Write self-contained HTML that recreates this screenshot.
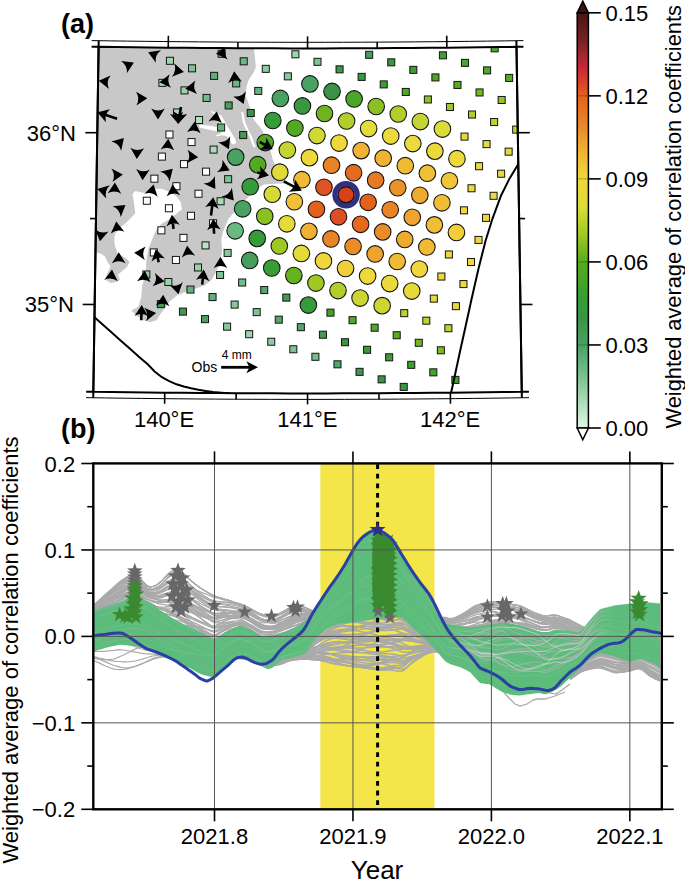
<!DOCTYPE html>
<html><head><meta charset="utf-8"><style>
html,body{margin:0;padding:0;background:#fff;}
body{width:685px;height:879px;position:relative;overflow:hidden;font-family:"Liberation Sans",sans-serif;}
</style></head><body>
<svg width="685" height="879" viewBox="0 0 685 879" style="position:absolute;left:0;top:0">
<defs>
<clipPath id="mapclip"><polygon points="98.60,46.80 116.01,47.06 133.42,47.29 150.84,47.50 168.25,47.69 185.66,47.86 203.07,48.00 220.49,48.12 237.90,48.22 255.31,48.30 272.72,48.36 290.14,48.39 307.55,48.40 324.96,48.39 342.38,48.36 359.79,48.30 377.20,48.22 394.61,48.12 412.03,48.00 429.44,47.86 446.85,47.69 464.26,47.50 481.68,47.29 499.09,47.06 516.50,46.80 521.77,391.76 503.92,392.02 486.07,392.26 468.22,392.48 450.37,392.67 432.52,392.84 414.66,392.99 396.81,393.12 378.96,393.22 361.11,393.30 343.26,393.35 325.40,393.39 307.55,393.40 289.70,393.39 271.84,393.35 253.99,393.30 236.14,393.22 218.29,393.12 200.44,392.99 182.58,392.84 164.73,392.67 146.88,392.48 129.03,392.26 111.18,392.02 93.33,391.76"/></clipPath>
<linearGradient id="cbar" x1="0" y1="0" x2="0" y2="1"><stop offset="0.0000" stop-color="#4a1616"/><stop offset="0.0667" stop-color="#782222"/><stop offset="0.1000" stop-color="#a02830"/><stop offset="0.1333" stop-color="#c82a34"/><stop offset="0.1667" stop-color="#d8402a"/><stop offset="0.2000" stop-color="#e4621c"/><stop offset="0.2667" stop-color="#e88426"/><stop offset="0.3333" stop-color="#f0b232"/><stop offset="0.4000" stop-color="#f0d83c"/><stop offset="0.4667" stop-color="#dcdc38"/><stop offset="0.5333" stop-color="#a0c824"/><stop offset="0.6000" stop-color="#58ac1e"/><stop offset="0.6667" stop-color="#3ca02e"/><stop offset="0.7000" stop-color="#349c38"/><stop offset="0.7333" stop-color="#3a9344"/><stop offset="0.8000" stop-color="#4aa262"/><stop offset="0.8667" stop-color="#72bd8a"/><stop offset="0.9333" stop-color="#a8dbb6"/><stop offset="1.0000" stop-color="#e0f7e6"/></linearGradient>
</defs>
<rect x="0" y="0" width="685" height="879" fill="#ffffff"/>
<g clip-path="url(#mapclip)">
<polygon points="253.70,40.00 253.70,46.00 254.50,53.80 255.90,66.90 253.00,73.50 248.60,80.00 246.40,87.30 245.70,96.10 247.20,100.00 250.70,109.30 254.00,120.00 261.40,129.10 266.00,138.00 269.60,147.30 272.90,160.20 278.00,170.40 284.20,178.60 288.50,183.50 279.00,183.50 264.00,184.50 256.00,189.00 248.40,197.00 240.20,205.20 233.10,213.40 228.50,218.70 223.70,229.80 221.30,239.40 222.10,250.50 220.50,260.10 215.70,272.80 211.00,280.80 204.60,285.50 195.00,288.70 185.50,291.90 177.50,295.10 169.60,301.50 165.80,307.00 159.60,315.20 156.60,320.30 150.40,322.30 143.30,320.30 136.10,315.20 131.50,310.60 136.00,308.00 138.50,306.50 141.20,297.40 142.10,286.50 144.00,279.20 145.80,271.90 146.00,264.60 147.00,255.90 148.50,248.60 151.40,241.30 154.30,234.00 157.20,228.20 161.60,223.80 168.90,219.40 174.80,215.00 182.00,209.20 180.60,201.90 176.20,196.00 168.90,191.70 161.60,188.80 154.30,188.80 144.10,193.10 135.30,191.00 132.40,194.60 133.90,201.90 135.30,213.60 126.60,222.30 119.00,229.00 114.90,234.00 114.20,240.00 114.90,245.70 116.40,249.70 118.00,254.00 126.00,258.00 129.50,262.00 127.00,267.00 122.00,271.00 118.00,275.00 120.00,280.00 116.00,282.00 111.00,283.00 107.00,281.00 106.00,277.00 108.00,272.00 110.50,266.50 107.60,262.10 104.70,256.30 100.30,253.40 96.60,252.60 85.00,252.60 85.00,40.00" fill="#c8c8c8"/>
<polygon points="211.20,110.70 215.10,112.40 221.30,115.50 223.90,119.90 226.50,125.10 230.00,130.40 232.70,134.80 235.30,139.20 236.20,142.70 233.50,144.80 230.90,142.70 229.20,138.30 226.00,136.00 221.30,135.20 216.90,136.50 216.00,135.20 219.50,133.90 222.10,132.10 219.00,131.50 216.00,131.30 208.10,129.50 200.30,127.80 198.50,126.00 200.30,124.70 208.10,125.60 216.90,126.90 219.50,123.40 216.90,118.10 213.40,113.80 211.20,112.00" fill="#ffffff"/>
<polyline points="242.30,112.90 244.00,122.50 247.50,130.40 251.00,137.40 252.80,142.70 254.50,146.20" fill="none" stroke="#ffffff" stroke-width="2.3" stroke-linejoin="round" stroke-linecap="round"/>
<rect x="166.43" y="57.27" width="7.04" height="7.04" fill="#9dd5ad" stroke="#151515" stroke-width="1.0"/>
<rect x="158.89" y="79.34" width="7.04" height="7.04" fill="#a8dbb6" stroke="#151515" stroke-width="1.0"/>
<rect x="188.50" y="64.80" width="7.04" height="7.04" fill="#7dc393" stroke="#151515" stroke-width="1.0"/>
<rect x="180.97" y="86.87" width="7.04" height="7.04" fill="#98d2a9" stroke="#151515" stroke-width="1.0"/>
<rect x="173.44" y="108.94" width="7.04" height="7.04" fill="#a8dbb6" stroke="#151515" stroke-width="1.0"/>
<rect x="165.91" y="131.01" width="7.04" height="7.04" fill="#ffffff" stroke="#151515" stroke-width="1.0"/>
<rect x="158.37" y="153.08" width="7.04" height="7.04" fill="#ffffff" stroke="#151515" stroke-width="1.0"/>
<rect x="150.84" y="175.15" width="7.04" height="7.04" fill="#ffffff" stroke="#151515" stroke-width="1.0"/>
<rect x="143.31" y="197.22" width="7.04" height="7.04" fill="#ffffff" stroke="#151515" stroke-width="1.0"/>
<rect x="218.12" y="50.26" width="7.04" height="7.04" fill="#72bd8a" stroke="#151515" stroke-width="1.0"/>
<rect x="210.58" y="72.33" width="7.04" height="7.04" fill="#5eb076" stroke="#151515" stroke-width="1.0"/>
<rect x="203.05" y="94.40" width="7.04" height="7.04" fill="#72bd8a" stroke="#151515" stroke-width="1.0"/>
<rect x="195.52" y="116.47" width="7.04" height="7.04" fill="#b3e1c0" stroke="#151515" stroke-width="1.0"/>
<rect x="187.98" y="138.54" width="7.04" height="7.04" fill="#ffffff" stroke="#151515" stroke-width="1.0"/>
<rect x="180.45" y="160.61" width="7.04" height="7.04" fill="#ffffff" stroke="#151515" stroke-width="1.0"/>
<rect x="172.92" y="182.68" width="7.04" height="7.04" fill="#ffffff" stroke="#151515" stroke-width="1.0"/>
<rect x="165.39" y="204.75" width="7.04" height="7.04" fill="#ffffff" stroke="#151515" stroke-width="1.0"/>
<rect x="157.85" y="226.82" width="7.04" height="7.04" fill="#ffffff" stroke="#151515" stroke-width="1.0"/>
<rect x="150.32" y="248.89" width="7.04" height="7.04" fill="#ffffff" stroke="#151515" stroke-width="1.0"/>
<rect x="142.79" y="270.96" width="7.04" height="7.04" fill="#98d2a9" stroke="#151515" stroke-width="1.0"/>
<rect x="240.19" y="57.79" width="7.04" height="7.04" fill="#6ab882" stroke="#151515" stroke-width="1.0"/>
<rect x="232.66" y="79.86" width="7.04" height="7.04" fill="#6ab882" stroke="#151515" stroke-width="1.0"/>
<rect x="225.13" y="101.93" width="7.04" height="7.04" fill="#459e59" stroke="#151515" stroke-width="1.0"/>
<rect x="217.59" y="124.00" width="7.04" height="7.04" fill="#62b27a" stroke="#151515" stroke-width="1.0"/>
<rect x="210.06" y="146.07" width="7.04" height="7.04" fill="#a8dbb6" stroke="#151515" stroke-width="1.0"/>
<rect x="202.53" y="168.14" width="7.04" height="7.04" fill="#ffffff" stroke="#151515" stroke-width="1.0"/>
<rect x="195.00" y="190.21" width="7.04" height="7.04" fill="#ffffff" stroke="#151515" stroke-width="1.0"/>
<rect x="187.46" y="212.28" width="7.04" height="7.04" fill="#ffffff" stroke="#151515" stroke-width="1.0"/>
<rect x="179.93" y="234.35" width="7.04" height="7.04" fill="#ffffff" stroke="#151515" stroke-width="1.0"/>
<rect x="172.40" y="256.42" width="7.04" height="7.04" fill="#ffffff" stroke="#151515" stroke-width="1.0"/>
<rect x="164.86" y="278.49" width="7.04" height="7.04" fill="#98d2a9" stroke="#151515" stroke-width="1.0"/>
<rect x="157.33" y="300.56" width="7.04" height="7.04" fill="#429a53" stroke="#151515" stroke-width="1.0"/>
<rect x="262.27" y="65.32" width="7.04" height="7.04" fill="#8dcca0" stroke="#151515" stroke-width="1.0"/>
<rect x="254.74" y="87.39" width="7.04" height="7.04" fill="#62b27a" stroke="#151515" stroke-width="1.0"/>
<rect x="247.21" y="109.46" width="7.04" height="7.04" fill="#3a9344" stroke="#151515" stroke-width="1.0"/>
<rect x="239.67" y="131.53" width="7.04" height="7.04" fill="#429a53" stroke="#151515" stroke-width="1.0"/>
<rect x="224.61" y="175.66" width="7.04" height="7.04" fill="#7dc393" stroke="#151515" stroke-width="1.0"/>
<rect x="217.07" y="197.73" width="7.04" height="7.04" fill="#a8dbb6" stroke="#151515" stroke-width="1.0"/>
<rect x="209.54" y="219.81" width="7.04" height="7.04" fill="#ffffff" stroke="#151515" stroke-width="1.0"/>
<rect x="202.01" y="241.88" width="7.04" height="7.04" fill="#b9e3c4" stroke="#151515" stroke-width="1.0"/>
<rect x="194.48" y="263.95" width="7.04" height="7.04" fill="#98d2a9" stroke="#151515" stroke-width="1.0"/>
<rect x="186.94" y="286.02" width="7.04" height="7.04" fill="#62b27a" stroke="#151515" stroke-width="1.0"/>
<rect x="179.41" y="308.09" width="7.04" height="7.04" fill="#409950" stroke="#151515" stroke-width="1.0"/>
<rect x="291.88" y="50.77" width="7.04" height="7.04" fill="#9dd5ad" stroke="#151515" stroke-width="1.0"/>
<rect x="284.35" y="72.84" width="7.04" height="7.04" fill="#88c99c" stroke="#151515" stroke-width="1.0"/>
<rect x="224.09" y="249.40" width="7.04" height="7.04" fill="#88c99c" stroke="#151515" stroke-width="1.0"/>
<rect x="216.55" y="271.47" width="7.04" height="7.04" fill="#7dc393" stroke="#151515" stroke-width="1.0"/>
<rect x="209.02" y="293.54" width="7.04" height="7.04" fill="#5eb076" stroke="#151515" stroke-width="1.0"/>
<rect x="201.49" y="315.61" width="7.04" height="7.04" fill="#4aa262" stroke="#151515" stroke-width="1.0"/>
<rect x="313.96" y="58.30" width="7.04" height="7.04" fill="#7dc393" stroke="#151515" stroke-width="1.0"/>
<rect x="238.63" y="279.00" width="7.04" height="7.04" fill="#72bd8a" stroke="#151515" stroke-width="1.0"/>
<rect x="231.10" y="301.07" width="7.04" height="7.04" fill="#88c99c" stroke="#151515" stroke-width="1.0"/>
<rect x="223.57" y="323.14" width="7.04" height="7.04" fill="#88c99c" stroke="#151515" stroke-width="1.0"/>
<rect x="336.04" y="65.83" width="7.04" height="7.04" fill="#3d964a" stroke="#151515" stroke-width="1.0"/>
<rect x="260.71" y="286.53" width="7.04" height="7.04" fill="#52a76a" stroke="#151515" stroke-width="1.0"/>
<rect x="253.18" y="308.60" width="7.04" height="7.04" fill="#7dc393" stroke="#151515" stroke-width="1.0"/>
<rect x="245.64" y="330.67" width="7.04" height="7.04" fill="#9dd5ad" stroke="#151515" stroke-width="1.0"/>
<rect x="365.65" y="51.29" width="7.04" height="7.04" fill="#459e59" stroke="#151515" stroke-width="1.0"/>
<rect x="358.12" y="73.36" width="7.04" height="7.04" fill="#36983d" stroke="#151515" stroke-width="1.0"/>
<rect x="282.79" y="294.06" width="7.04" height="7.04" fill="#429a53" stroke="#151515" stroke-width="1.0"/>
<rect x="275.25" y="316.13" width="7.04" height="7.04" fill="#52a76a" stroke="#151515" stroke-width="1.0"/>
<rect x="267.72" y="338.20" width="7.04" height="7.04" fill="#8dcca0" stroke="#151515" stroke-width="1.0"/>
<rect x="387.73" y="58.82" width="7.04" height="7.04" fill="#38973f" stroke="#151515" stroke-width="1.0"/>
<rect x="380.20" y="80.89" width="7.04" height="7.04" fill="#3ca02e" stroke="#151515" stroke-width="1.0"/>
<rect x="297.33" y="323.66" width="7.04" height="7.04" fill="#52a76a" stroke="#151515" stroke-width="1.0"/>
<rect x="289.80" y="345.73" width="7.04" height="7.04" fill="#7dc393" stroke="#151515" stroke-width="1.0"/>
<rect x="409.81" y="66.35" width="7.04" height="7.04" fill="#3ca02e" stroke="#151515" stroke-width="1.0"/>
<rect x="402.27" y="88.42" width="7.04" height="7.04" fill="#52aa21" stroke="#151515" stroke-width="1.0"/>
<rect x="326.94" y="309.12" width="7.04" height="7.04" fill="#42a22b" stroke="#151515" stroke-width="1.0"/>
<rect x="319.41" y="331.19" width="7.04" height="7.04" fill="#429a53" stroke="#151515" stroke-width="1.0"/>
<rect x="311.88" y="353.26" width="7.04" height="7.04" fill="#72bd8a" stroke="#151515" stroke-width="1.0"/>
<rect x="439.42" y="51.81" width="7.04" height="7.04" fill="#3ca02e" stroke="#151515" stroke-width="1.0"/>
<rect x="431.88" y="73.88" width="7.04" height="7.04" fill="#4da724" stroke="#151515" stroke-width="1.0"/>
<rect x="424.35" y="95.95" width="7.04" height="7.04" fill="#92c223" stroke="#151515" stroke-width="1.0"/>
<rect x="349.02" y="316.65" width="7.04" height="7.04" fill="#50a823" stroke="#151515" stroke-width="1.0"/>
<rect x="341.49" y="338.72" width="7.04" height="7.04" fill="#3a9344" stroke="#151515" stroke-width="1.0"/>
<rect x="333.96" y="360.79" width="7.04" height="7.04" fill="#52a76a" stroke="#151515" stroke-width="1.0"/>
<rect x="461.50" y="59.34" width="7.04" height="7.04" fill="#4aa626" stroke="#151515" stroke-width="1.0"/>
<rect x="453.96" y="81.41" width="7.04" height="7.04" fill="#58ac1e" stroke="#151515" stroke-width="1.0"/>
<rect x="446.43" y="103.48" width="7.04" height="7.04" fill="#a0c824" stroke="#151515" stroke-width="1.0"/>
<rect x="371.10" y="324.18" width="7.04" height="7.04" fill="#50a823" stroke="#151515" stroke-width="1.0"/>
<rect x="363.57" y="346.25" width="7.04" height="7.04" fill="#349c38" stroke="#151515" stroke-width="1.0"/>
<rect x="356.03" y="368.32" width="7.04" height="7.04" fill="#3f984d" stroke="#151515" stroke-width="1.0"/>
<rect x="491.11" y="44.80" width="7.04" height="7.04" fill="#50a823" stroke="#151515" stroke-width="1.0"/>
<rect x="483.57" y="66.87" width="7.04" height="7.04" fill="#52aa21" stroke="#151515" stroke-width="1.0"/>
<rect x="476.04" y="88.94" width="7.04" height="7.04" fill="#75b720" stroke="#151515" stroke-width="1.0"/>
<rect x="468.51" y="111.01" width="7.04" height="7.04" fill="#b2ce2a" stroke="#151515" stroke-width="1.0"/>
<rect x="460.97" y="133.08" width="7.04" height="7.04" fill="#e2db39" stroke="#151515" stroke-width="1.0"/>
<rect x="400.71" y="309.64" width="7.04" height="7.04" fill="#bed22e" stroke="#151515" stroke-width="1.0"/>
<rect x="393.18" y="331.71" width="7.04" height="7.04" fill="#58ac1e" stroke="#151515" stroke-width="1.0"/>
<rect x="385.64" y="353.78" width="7.04" height="7.04" fill="#3ca02e" stroke="#151515" stroke-width="1.0"/>
<rect x="378.11" y="375.85" width="7.04" height="7.04" fill="#3a9344" stroke="#151515" stroke-width="1.0"/>
<rect x="505.65" y="74.39" width="7.04" height="7.04" fill="#58ac1e" stroke="#151515" stroke-width="1.0"/>
<rect x="498.12" y="96.46" width="7.04" height="7.04" fill="#92c223" stroke="#151515" stroke-width="1.0"/>
<rect x="490.59" y="118.53" width="7.04" height="7.04" fill="#bed22e" stroke="#151515" stroke-width="1.0"/>
<rect x="483.05" y="140.60" width="7.04" height="7.04" fill="#e2db39" stroke="#151515" stroke-width="1.0"/>
<rect x="475.52" y="162.67" width="7.04" height="7.04" fill="#ecd93b" stroke="#151515" stroke-width="1.0"/>
<rect x="467.99" y="184.74" width="7.04" height="7.04" fill="#ecd93b" stroke="#151515" stroke-width="1.0"/>
<rect x="460.45" y="206.81" width="7.04" height="7.04" fill="#f0d83c" stroke="#151515" stroke-width="1.0"/>
<rect x="445.39" y="250.95" width="7.04" height="7.04" fill="#f0d83c" stroke="#151515" stroke-width="1.0"/>
<rect x="437.85" y="273.02" width="7.04" height="7.04" fill="#f0d83c" stroke="#151515" stroke-width="1.0"/>
<rect x="430.32" y="295.10" width="7.04" height="7.04" fill="#e6da3a" stroke="#151515" stroke-width="1.0"/>
<rect x="422.79" y="317.16" width="7.04" height="7.04" fill="#bed22e" stroke="#151515" stroke-width="1.0"/>
<rect x="415.25" y="339.24" width="7.04" height="7.04" fill="#75b720" stroke="#151515" stroke-width="1.0"/>
<rect x="407.72" y="361.31" width="7.04" height="7.04" fill="#3ca02e" stroke="#151515" stroke-width="1.0"/>
<rect x="400.19" y="383.38" width="7.04" height="7.04" fill="#38973f" stroke="#151515" stroke-width="1.0"/>
<rect x="512.66" y="126.06" width="7.04" height="7.04" fill="#c4d430" stroke="#151515" stroke-width="1.0"/>
<rect x="505.13" y="148.13" width="7.04" height="7.04" fill="#e4da3a" stroke="#151515" stroke-width="1.0"/>
<rect x="497.60" y="170.20" width="7.04" height="7.04" fill="#ecd93b" stroke="#151515" stroke-width="1.0"/>
<rect x="490.06" y="192.27" width="7.04" height="7.04" fill="#ecd93b" stroke="#151515" stroke-width="1.0"/>
<rect x="482.53" y="214.34" width="7.04" height="7.04" fill="#f0d83c" stroke="#151515" stroke-width="1.0"/>
<rect x="475.00" y="236.41" width="7.04" height="7.04" fill="#f0d83c" stroke="#151515" stroke-width="1.0"/>
<rect x="467.47" y="258.48" width="7.04" height="7.04" fill="#f0d83c" stroke="#151515" stroke-width="1.0"/>
<rect x="459.93" y="280.55" width="7.04" height="7.04" fill="#f0d83c" stroke="#151515" stroke-width="1.0"/>
<rect x="452.40" y="302.62" width="7.04" height="7.04" fill="#e6da3a" stroke="#151515" stroke-width="1.0"/>
<rect x="444.87" y="324.69" width="7.04" height="7.04" fill="#bed22e" stroke="#151515" stroke-width="1.0"/>
<rect x="437.33" y="346.76" width="7.04" height="7.04" fill="#7cba21" stroke="#151515" stroke-width="1.0"/>
<rect x="429.80" y="368.83" width="7.04" height="7.04" fill="#44a429" stroke="#151515" stroke-width="1.0"/>
<rect x="451.88" y="376.36" width="7.04" height="7.04" fill="#42a22b" stroke="#151515" stroke-width="1.0"/>
<circle cx="235.66" cy="157.12" r="8.3" fill="#4aa262" stroke="#151515" stroke-width="1.1"/>
<circle cx="280.34" cy="98.43" r="8.3" fill="#4aa262" stroke="#151515" stroke-width="1.1"/>
<circle cx="272.80" cy="120.50" r="8.3" fill="#349c38" stroke="#151515" stroke-width="1.1"/>
<circle cx="265.27" cy="142.57" r="8.3" fill="#50a823" stroke="#151515" stroke-width="1.1"/>
<circle cx="257.74" cy="164.64" r="8.3" fill="#52aa21" stroke="#151515" stroke-width="1.1"/>
<circle cx="250.21" cy="186.71" r="8.3" fill="#349c38" stroke="#151515" stroke-width="1.1"/>
<circle cx="242.67" cy="208.78" r="8.3" fill="#4aa262" stroke="#151515" stroke-width="1.1"/>
<circle cx="235.14" cy="230.85" r="8.3" fill="#6ab882" stroke="#151515" stroke-width="1.1"/>
<circle cx="309.95" cy="83.89" r="8.3" fill="#4aa262" stroke="#151515" stroke-width="1.1"/>
<circle cx="302.42" cy="105.96" r="8.3" fill="#38973f" stroke="#151515" stroke-width="1.1"/>
<circle cx="294.88" cy="128.03" r="8.3" fill="#52aa21" stroke="#151515" stroke-width="1.1"/>
<circle cx="287.35" cy="150.10" r="8.3" fill="#c4d430" stroke="#151515" stroke-width="1.1"/>
<circle cx="279.82" cy="172.17" r="8.3" fill="#e0db39" stroke="#151515" stroke-width="1.1"/>
<circle cx="272.28" cy="194.24" r="8.3" fill="#d6da36" stroke="#151515" stroke-width="1.1"/>
<circle cx="264.75" cy="216.31" r="8.3" fill="#8ac022" stroke="#151515" stroke-width="1.1"/>
<circle cx="257.22" cy="238.38" r="8.3" fill="#349c38" stroke="#151515" stroke-width="1.1"/>
<circle cx="249.68" cy="260.45" r="8.3" fill="#459e59" stroke="#151515" stroke-width="1.1"/>
<circle cx="332.03" cy="91.42" r="8.3" fill="#3a9344" stroke="#151515" stroke-width="1.1"/>
<circle cx="324.49" cy="113.49" r="8.3" fill="#6eb420" stroke="#151515" stroke-width="1.1"/>
<circle cx="316.96" cy="135.56" r="8.3" fill="#d0d834" stroke="#151515" stroke-width="1.1"/>
<circle cx="309.43" cy="157.63" r="8.3" fill="#ecd93b" stroke="#151515" stroke-width="1.1"/>
<circle cx="301.89" cy="179.70" r="8.3" fill="#f0ba34" stroke="#151515" stroke-width="1.1"/>
<circle cx="294.36" cy="201.77" r="8.3" fill="#f0c136" stroke="#151515" stroke-width="1.1"/>
<circle cx="286.83" cy="223.84" r="8.3" fill="#e6da3a" stroke="#151515" stroke-width="1.1"/>
<circle cx="279.30" cy="245.91" r="8.3" fill="#a0c824" stroke="#151515" stroke-width="1.1"/>
<circle cx="271.76" cy="267.98" r="8.3" fill="#379e34" stroke="#151515" stroke-width="1.1"/>
<circle cx="354.10" cy="98.95" r="8.3" fill="#4aa626" stroke="#151515" stroke-width="1.1"/>
<circle cx="346.57" cy="121.02" r="8.3" fill="#b2ce2a" stroke="#151515" stroke-width="1.1"/>
<circle cx="339.04" cy="143.09" r="8.3" fill="#f0d83c" stroke="#151515" stroke-width="1.1"/>
<circle cx="331.51" cy="165.16" r="8.3" fill="#e88426" stroke="#151515" stroke-width="1.1"/>
<circle cx="323.97" cy="187.23" r="8.3" fill="#df5422" stroke="#151515" stroke-width="1.1"/>
<circle cx="316.44" cy="209.30" r="8.3" fill="#e4621c" stroke="#151515" stroke-width="1.1"/>
<circle cx="308.91" cy="231.37" r="8.3" fill="#f0b232" stroke="#151515" stroke-width="1.1"/>
<circle cx="301.37" cy="253.44" r="8.3" fill="#e2db39" stroke="#151515" stroke-width="1.1"/>
<circle cx="293.84" cy="275.51" r="8.3" fill="#66b21f" stroke="#151515" stroke-width="1.1"/>
<circle cx="376.18" cy="106.48" r="8.3" fill="#8ac022" stroke="#151515" stroke-width="1.1"/>
<circle cx="368.65" cy="128.55" r="8.3" fill="#e2db39" stroke="#151515" stroke-width="1.1"/>
<circle cx="361.12" cy="150.62" r="8.3" fill="#f0b232" stroke="#151515" stroke-width="1.1"/>
<circle cx="353.58" cy="172.69" r="8.3" fill="#e5691e" stroke="#151515" stroke-width="1.1"/>
<circle cx="346.05" cy="194.76" r="11.15" fill="none" stroke="#302f80" stroke-width="5.2"/>
<circle cx="346.05" cy="194.76" r="8.0" fill="#d8401c" stroke="#111" stroke-width="1.3"/>
<circle cx="338.52" cy="216.83" r="8.3" fill="#dd4e24" stroke="#151515" stroke-width="1.1"/>
<circle cx="330.98" cy="238.90" r="8.3" fill="#e88426" stroke="#151515" stroke-width="1.1"/>
<circle cx="323.45" cy="260.97" r="8.3" fill="#f0d83c" stroke="#151515" stroke-width="1.1"/>
<circle cx="315.92" cy="283.04" r="8.3" fill="#a0c824" stroke="#151515" stroke-width="1.1"/>
<circle cx="308.38" cy="305.11" r="8.3" fill="#349c38" stroke="#151515" stroke-width="1.1"/>
<circle cx="398.26" cy="114.01" r="8.3" fill="#b2ce2a" stroke="#151515" stroke-width="1.1"/>
<circle cx="390.73" cy="136.08" r="8.3" fill="#ecd93b" stroke="#151515" stroke-width="1.1"/>
<circle cx="383.19" cy="158.15" r="8.3" fill="#f0b232" stroke="#151515" stroke-width="1.1"/>
<circle cx="375.66" cy="180.22" r="8.3" fill="#e77a23" stroke="#151515" stroke-width="1.1"/>
<circle cx="368.13" cy="202.29" r="8.3" fill="#e4621c" stroke="#151515" stroke-width="1.1"/>
<circle cx="360.59" cy="224.36" r="8.3" fill="#e5691e" stroke="#151515" stroke-width="1.1"/>
<circle cx="353.06" cy="246.43" r="8.3" fill="#ea8d28" stroke="#151515" stroke-width="1.1"/>
<circle cx="345.53" cy="268.50" r="8.3" fill="#f0d03a" stroke="#151515" stroke-width="1.1"/>
<circle cx="338.00" cy="290.57" r="8.3" fill="#b2ce2a" stroke="#151515" stroke-width="1.1"/>
<circle cx="420.34" cy="121.54" r="8.3" fill="#c4d430" stroke="#151515" stroke-width="1.1"/>
<circle cx="412.81" cy="143.61" r="8.3" fill="#ecd93b" stroke="#151515" stroke-width="1.1"/>
<circle cx="405.27" cy="165.68" r="8.3" fill="#f0ba34" stroke="#151515" stroke-width="1.1"/>
<circle cx="397.74" cy="187.75" r="8.3" fill="#ea922a" stroke="#151515" stroke-width="1.1"/>
<circle cx="390.21" cy="209.82" r="8.3" fill="#e88426" stroke="#151515" stroke-width="1.1"/>
<circle cx="382.67" cy="231.89" r="8.3" fill="#ea8d28" stroke="#151515" stroke-width="1.1"/>
<circle cx="375.14" cy="253.96" r="8.3" fill="#eea42e" stroke="#151515" stroke-width="1.1"/>
<circle cx="367.61" cy="276.03" r="8.3" fill="#f0d83c" stroke="#151515" stroke-width="1.1"/>
<circle cx="360.07" cy="298.10" r="8.3" fill="#cad632" stroke="#151515" stroke-width="1.1"/>
<circle cx="442.42" cy="129.07" r="8.3" fill="#dcdc38" stroke="#151515" stroke-width="1.1"/>
<circle cx="434.88" cy="151.14" r="8.3" fill="#ead93b" stroke="#151515" stroke-width="1.1"/>
<circle cx="427.35" cy="173.21" r="8.3" fill="#f0c136" stroke="#151515" stroke-width="1.1"/>
<circle cx="419.82" cy="195.28" r="8.3" fill="#eea930" stroke="#151515" stroke-width="1.1"/>
<circle cx="412.28" cy="217.35" r="8.3" fill="#eea42e" stroke="#151515" stroke-width="1.1"/>
<circle cx="404.75" cy="239.42" r="8.3" fill="#eea930" stroke="#151515" stroke-width="1.1"/>
<circle cx="397.22" cy="261.49" r="8.3" fill="#f0ba34" stroke="#151515" stroke-width="1.1"/>
<circle cx="389.69" cy="283.56" r="8.3" fill="#ecd93b" stroke="#151515" stroke-width="1.1"/>
<circle cx="382.15" cy="305.63" r="8.3" fill="#cad632" stroke="#151515" stroke-width="1.1"/>
<circle cx="456.96" cy="158.67" r="8.3" fill="#ecd93b" stroke="#151515" stroke-width="1.1"/>
<circle cx="449.43" cy="180.74" r="8.3" fill="#f0c537" stroke="#151515" stroke-width="1.1"/>
<circle cx="441.90" cy="202.81" r="8.3" fill="#f0bd35" stroke="#151515" stroke-width="1.1"/>
<circle cx="434.36" cy="224.88" r="8.3" fill="#f0bd35" stroke="#151515" stroke-width="1.1"/>
<circle cx="426.83" cy="246.95" r="8.3" fill="#f0ba34" stroke="#151515" stroke-width="1.1"/>
<circle cx="419.30" cy="269.02" r="8.3" fill="#f0d83c" stroke="#151515" stroke-width="1.1"/>
<circle cx="411.76" cy="291.09" r="8.3" fill="#e6da3a" stroke="#151515" stroke-width="1.1"/>
<circle cx="456.44" cy="232.40" r="8.3" fill="#f0cd39" stroke="#151515" stroke-width="1.1"/>
<polyline points="518.20,164.20 509.60,178.40 501.10,195.50 492.60,218.30 485.50,241.00 478.30,269.50 471.80,298.00 465.60,326.30 459.30,354.80 453.20,383.20 451.00,393.00 450.30,397.00" fill="none" stroke="#000" stroke-width="2"/>
<polyline points="90.00,314.00 94.20,317.00 110.00,331.00 120.00,339.90 130.00,348.80 140.00,357.70 148.00,364.60 154.60,371.50 161.90,377.20 169.20,381.20 176.50,384.30 183.80,386.50 191.10,388.20 198.40,389.70 205.70,390.90 213.00,391.90 218.80,392.50 230.00,393.50" fill="none" stroke="#000" stroke-width="2"/>
<path d="M148.20,52.30 L161.07,50.33 Q154.56,54.97 155.80,62.87 Z" fill="#000"/>
<path d="M133.90,62.40 L126.83,73.33 Q127.68,65.38 120.95,61.07 Z" fill="#000"/>
<path d="M98.80,80.80 L110.66,75.43 Q105.65,81.66 108.97,88.92 Z" fill="#000"/>
<path d="M147.30,98.30 L136.41,105.43 Q140.40,98.50 136.00,91.83 Z" fill="#000"/>
<path d="M158.00,119.50 L151.20,108.40 Q158.00,112.60 164.80,108.40 Z" fill="#000"/>
<path d="M178.10,123.70 L169.76,113.71 Q177.10,116.87 183.21,111.73 Z" fill="#000"/>
<path d="M178.10,123.70 L173.70,111.45 Q179.50,116.94 187.02,114.22 Z" fill="#000"/>
<path d="M183.90,72.00 L171.79,76.77 Q177.10,70.80 174.15,63.37 Z" fill="#000"/>
<path d="M159.40,82.20 L169.77,74.33 Q166.27,81.51 171.12,87.86 Z" fill="#000"/>
<path d="M185.30,88.80 L195.38,80.57 Q192.14,87.87 197.21,94.04 Z" fill="#000"/>
<path d="M168.20,138.80 L174.21,150.35 Q167.72,145.68 160.64,149.40 Z" fill="#000"/>
<path d="M123.90,138.10 L121.19,150.83 Q119.15,143.11 111.33,141.47 Z" fill="#000"/>
<path d="M136.80,159.10 L130.46,147.73 Q137.08,152.21 144.05,148.29 Z" fill="#000"/>
<path d="M122.90,174.40 L112.38,182.07 Q116.02,174.96 111.29,168.52 Z" fill="#000"/>
<path d="M142.60,180.30 L136.22,168.95 Q142.86,173.40 149.81,169.46 Z" fill="#000"/>
<path d="M172.80,168.80 L169.56,181.41 Q167.84,173.60 160.10,171.64 Z" fill="#000"/>
<path d="M114.90,182.40 L121.26,193.76 Q114.63,189.29 107.67,193.23 Z" fill="#000"/>
<path d="M97.40,189.00 L109.90,185.37 Q104.06,190.82 106.31,198.49 Z" fill="#000"/>
<path d="M153.60,184.60 L157.63,196.98 Q152.00,191.31 144.40,193.81 Z" fill="#000"/>
<path d="M172.60,184.60 L180.22,195.15 Q173.12,191.48 166.66,196.18 Z" fill="#000"/>
<path d="M125.50,204.90 L120.79,217.04 Q120.01,209.08 112.55,206.22 Z" fill="#000"/>
<path d="M116.20,221.60 L124.34,231.76 Q117.06,228.45 110.84,233.46 Z" fill="#000"/>
<path d="M100.00,241.30 L95.02,229.27 Q101.08,234.48 108.45,231.40 Z" fill="#000"/>
<path d="M134.20,252.70 L145.67,246.54 Q141.09,253.09 144.89,260.12 Z" fill="#000"/>
<path d="M118.80,252.20 L125.49,263.36 Q118.73,259.10 111.89,263.23 Z" fill="#000"/>
<path d="M112.00,269.50 L117.73,281.19 Q111.35,276.37 104.19,279.91 Z" fill="#000"/>
<path d="M187.10,245.70 L195.22,255.87 Q187.96,252.55 181.73,257.56 Z" fill="#000"/>
<path d="M144.80,270.70 L150.64,282.33 Q144.22,277.58 137.09,281.19 Z" fill="#000"/>
<path d="M164.70,281.50 L152.62,286.34 Q157.90,280.34 154.90,272.93 Z" fill="#000"/>
<path d="M178.50,294.20 L169.45,284.84 Q177.00,287.46 182.73,281.89 Z" fill="#000"/>
<path d="M163.20,294.70 L169.44,306.13 Q162.86,301.59 155.85,305.45 Z" fill="#000"/>
<path d="M156.10,313.10 L145.94,321.24 Q149.25,313.96 144.24,307.74 Z" fill="#000"/>
<path d="M220.50,256.90 L227.30,268.00 Q220.50,263.80 213.70,268.00 Z" fill="#000"/>
<path d="M216.00,53.80 L226.37,45.93 Q222.87,53.11 227.72,59.46 Z" fill="#000"/>
<path d="M234.20,71.30 L241.82,81.86 Q234.72,78.18 228.25,82.88 Z" fill="#000"/>
<path d="M243.70,104.10 L233.22,96.38 Q241.10,97.71 245.82,91.26 Z" fill="#000"/>
<path d="M216.70,111.40 L221.88,123.34 Q215.73,118.23 208.41,121.44 Z" fill="#000"/>
<path d="M194.80,121.60 L200.61,133.25 Q194.20,128.47 187.06,132.07 Z" fill="#000"/>
<path d="M228.90,149.20 L217.99,142.10 Q225.93,142.97 230.27,136.25 Z" fill="#000"/>
<path d="M198.20,157.20 L186.64,163.19 Q191.32,156.71 187.61,149.63 Z" fill="#000"/>
<path d="M229.70,170.60 L216.77,172.12 Q223.44,167.71 222.47,159.77 Z" fill="#000"/>
<path d="M215.40,188.90 L203.56,183.50 Q211.54,183.18 214.83,175.90 Z" fill="#000"/>
<path d="M233.80,200.60 L221.47,196.43 Q229.38,195.30 231.92,187.72 Z" fill="#000"/>
<line x1="117.10" y1="118.70" x2="105.86" y2="115.05" stroke="#000" stroke-width="2.6"/>
<path d="M97.40,112.30 L110.06,109.26 Q103.96,114.43 105.86,122.20 Z" fill="#000"/>
<line x1="181.00" y1="107.00" x2="179.62" y2="114.93" stroke="#000" stroke-width="2.6"/>
<path d="M178.10,123.70 L173.30,111.60 Q179.28,116.90 186.70,113.93 Z" fill="#000"/>
<line x1="173.50" y1="229.00" x2="172.89" y2="223.54" stroke="#000" stroke-width="2.6"/>
<path d="M171.90,214.70 L179.89,224.98 Q172.67,221.56 166.38,226.49 Z" fill="#000"/>
<line x1="158.70" y1="262.20" x2="157.72" y2="257.79" stroke="#000" stroke-width="2.6"/>
<path d="M155.80,249.10 L164.84,258.47 Q157.29,255.84 151.56,261.41 Z" fill="#000"/>
<line x1="141.20" y1="320.30" x2="141.45" y2="313.89" stroke="#000" stroke-width="2.6"/>
<path d="M141.80,305.00 L148.16,316.36 Q141.53,311.89 134.57,315.83 Z" fill="#000"/>
<line x1="211.00" y1="215.50" x2="212.19" y2="206.03" stroke="#000" stroke-width="2.6"/>
<path d="M213.30,197.20 L218.66,209.06 Q212.44,204.05 205.17,207.37 Z" fill="#000"/>
<line x1="214.10" y1="233.80" x2="213.77" y2="227.59" stroke="#000" stroke-width="2.6"/>
<path d="M213.30,218.70 L220.68,229.42 Q213.67,225.59 207.10,230.14 Z" fill="#000"/>
<line x1="202.20" y1="284.70" x2="202.86" y2="278.45" stroke="#000" stroke-width="2.6"/>
<path d="M203.80,269.60 L209.39,281.35 Q203.07,276.46 195.87,279.92 Z" fill="#000"/>
<line x1="259.60" y1="141.90" x2="264.93" y2="144.87" stroke="#000" stroke-width="2.6"/>
<path d="M272.70,149.20 L259.69,149.74 Q266.67,145.84 266.31,137.86 Z" fill="#000"/>
<line x1="257.40" y1="172.60" x2="260.37" y2="173.34" stroke="#000" stroke-width="2.6"/>
<path d="M269.00,175.50 L256.58,179.40 Q262.31,173.83 259.88,166.21 Z" fill="#000"/>
<line x1="283.80" y1="181.30" x2="293.93" y2="186.65" stroke="#000" stroke-width="2.6"/>
<path d="M301.80,190.80 L288.81,191.63 Q295.70,187.58 295.16,179.61 Z" fill="#000"/>
</g>
<line x1="221.2" y1="367.3" x2="250" y2="367.3" stroke="#000" stroke-width="2.8"/>
<path d="M258,367.3 L246.3,361.3 L249.5,367.3 L246.3,373.3 Z" fill="#000"/>
<text x="191.5" y="372.2" style="font-family:'Liberation Sans', sans-serif;font-size:14px">Obs</text>
<text x="221.8" y="358.8" style="font-family:'Liberation Sans', sans-serif;font-size:12px">4 mm</text>
<polygon points="98.60,46.80 116.01,47.06 133.42,47.29 150.84,47.50 168.25,47.69 185.66,47.86 203.07,48.00 220.49,48.12 237.90,48.22 255.31,48.30 272.72,48.36 290.14,48.39 307.55,48.40 324.96,48.39 342.38,48.36 359.79,48.30 377.20,48.22 394.61,48.12 412.03,48.00 429.44,47.86 446.85,47.69 464.26,47.50 481.68,47.29 499.09,47.06 516.50,46.80 521.77,391.76 503.92,392.02 486.07,392.26 468.22,392.48 450.37,392.67 432.52,392.84 414.66,392.99 396.81,393.12 378.96,393.22 361.11,393.30 343.26,393.35 325.40,393.39 307.55,393.40 289.70,393.39 271.84,393.35 253.99,393.30 236.14,393.22 218.29,393.12 200.44,392.99 182.58,392.84 164.73,392.67 146.88,392.48 129.03,392.26 111.18,392.02 93.33,391.76" fill="none" stroke="#000" stroke-width="2"/>
<polyline points="91.73,40.60 109.72,40.87 127.70,41.12 145.68,41.34 163.67,41.54 181.65,41.72 199.64,41.87 217.62,42.00 235.61,42.11 253.59,42.19 271.58,42.25 289.56,42.29 307.55,42.30 325.54,42.29 343.52,42.25 361.51,42.19 379.49,42.11 397.48,42.00 415.46,41.87 433.45,41.72 451.43,41.54 469.42,41.34 487.40,41.12 505.38,40.87 523.37,40.60" fill="none" stroke="#000" stroke-width="1"/>
<polyline points="86.09,397.65 104.55,397.93 123.00,398.19 141.45,398.42 159.91,398.62 178.36,398.80 196.82,398.96 215.27,399.10 233.73,399.21 252.18,399.29 270.64,399.35 289.09,399.39 307.55,399.40 326.01,399.39 344.46,399.35 362.92,399.29 381.37,399.21 399.83,399.10 418.28,398.96 436.74,398.80 455.19,398.62 473.65,398.42 492.10,398.19 510.55,397.93 529.01,397.65" fill="none" stroke="#000" stroke-width="1"/>
<polyline points="91.64,46.69 95.12,46.75 98.60,46.80" fill="none" stroke="#000" stroke-width="2"/>
<polyline points="516.50,46.80 519.98,46.75 523.46,46.69" fill="none" stroke="#000" stroke-width="2"/>
<polyline points="86.19,391.65 89.76,391.71 93.33,391.76" fill="none" stroke="#000" stroke-width="2"/>
<polyline points="521.77,391.76 525.34,391.71 528.91,391.65" fill="none" stroke="#000" stroke-width="2"/>
<line x1="98.70" y1="40.70" x2="93.24" y2="397.76" stroke="#000" stroke-width="2"/>
<line x1="516.40" y1="40.70" x2="521.86" y2="397.76" stroke="#000" stroke-width="2"/>
<line x1="168.37" y1="35.69" x2="168.25" y2="47.69" stroke="#000" stroke-width="1.6"/>
<line x1="164.73" y1="392.67" x2="164.62" y2="403.67" stroke="#000" stroke-width="1.6"/>
<line x1="237.93" y1="42.12" x2="237.90" y2="48.22" stroke="#000" stroke-width="1.6"/>
<line x1="236.14" y1="393.22" x2="236.11" y2="399.22" stroke="#000" stroke-width="1.6"/>
<line x1="307.55" y1="36.40" x2="307.55" y2="48.40" stroke="#000" stroke-width="1.6"/>
<line x1="307.55" y1="393.40" x2="307.55" y2="404.40" stroke="#000" stroke-width="1.6"/>
<line x1="377.17" y1="42.12" x2="377.20" y2="48.22" stroke="#000" stroke-width="1.6"/>
<line x1="378.96" y1="393.22" x2="378.99" y2="399.22" stroke="#000" stroke-width="1.6"/>
<line x1="446.73" y1="35.69" x2="446.85" y2="47.69" stroke="#000" stroke-width="1.6"/>
<line x1="450.37" y1="392.67" x2="450.48" y2="403.67" stroke="#000" stroke-width="1.6"/>
<line x1="94.66" y1="304.47" x2="82.66" y2="304.47" stroke="#000" stroke-width="1.6"/>
<line x1="520.44" y1="304.47" x2="532.44" y2="304.47" stroke="#000" stroke-width="1.6"/>
<line x1="95.98" y1="218.58" x2="89.98" y2="218.58" stroke="#000" stroke-width="1.6"/>
<line x1="519.12" y1="218.58" x2="525.12" y2="218.58" stroke="#000" stroke-width="1.6"/>
<line x1="97.29" y1="132.69" x2="85.29" y2="132.69" stroke="#000" stroke-width="1.6"/>
<line x1="517.81" y1="132.69" x2="529.81" y2="132.69" stroke="#000" stroke-width="1.6"/>
<text x="76" y="140.5" text-anchor="end" style="font-family:'Liberation Sans', sans-serif;font-size:22px">36°N</text>
<text x="74" y="312.3" text-anchor="end" style="font-family:'Liberation Sans', sans-serif;font-size:22px">35°N</text>
<text x="164.0" y="427.3" text-anchor="middle" style="font-family:'Liberation Sans', sans-serif;font-size:22px">140°E</text>
<text x="307.3" y="427.3" text-anchor="middle" style="font-family:'Liberation Sans', sans-serif;font-size:22px">141°E</text>
<text x="450.2" y="427.3" text-anchor="middle" style="font-family:'Liberation Sans', sans-serif;font-size:22px">142°E</text>
<text x="61" y="32.5" style="font-family:'Liberation Sans', sans-serif;font-size:27px;font-weight:bold">(a)</text>
<rect x="577.2" y="12.8" width="11.2" height="415.2" fill="url(#cbar)"/>
<line x1="577.2" y1="95.84" x2="588.4" y2="95.84" stroke="#000" stroke-opacity="0.35" stroke-width="0.8"/>
<line x1="577.2" y1="178.88" x2="588.4" y2="178.88" stroke="#000" stroke-opacity="0.35" stroke-width="0.8"/>
<line x1="577.2" y1="261.92" x2="588.4" y2="261.92" stroke="#000" stroke-opacity="0.35" stroke-width="0.8"/>
<line x1="577.2" y1="344.96" x2="588.4" y2="344.96" stroke="#000" stroke-opacity="0.35" stroke-width="0.8"/>
<rect x="577.2" y="12.8" width="11.2" height="415.2" fill="none" stroke="#000" stroke-width="1.5"/>
<polygon points="577.2,12.8 588.4,12.8 582.80,1.2" fill="#3a1212" stroke="#000" stroke-width="1.5" stroke-linejoin="miter"/>
<polygon points="577.2,428.0 588.4,428.0 582.80,439.8" fill="#ffffff" stroke="#000" stroke-width="1.5"/>
<line x1="588.4" y1="12.80" x2="600.8" y2="12.80" stroke="#000" stroke-width="1.6"/>
<text x="605.5" y="20.70" style="font-family:'Liberation Sans', sans-serif;font-size:22px">0.15</text>
<line x1="588.4" y1="95.84" x2="600.8" y2="95.84" stroke="#000" stroke-width="1.6"/>
<text x="605.5" y="103.74" style="font-family:'Liberation Sans', sans-serif;font-size:22px">0.12</text>
<line x1="588.4" y1="178.88" x2="600.8" y2="178.88" stroke="#000" stroke-width="1.6"/>
<text x="605.5" y="186.78" style="font-family:'Liberation Sans', sans-serif;font-size:22px">0.09</text>
<line x1="588.4" y1="261.92" x2="600.8" y2="261.92" stroke="#000" stroke-width="1.6"/>
<text x="605.5" y="269.82" style="font-family:'Liberation Sans', sans-serif;font-size:22px">0.06</text>
<line x1="588.4" y1="344.96" x2="600.8" y2="344.96" stroke="#000" stroke-width="1.6"/>
<text x="605.5" y="352.86" style="font-family:'Liberation Sans', sans-serif;font-size:22px">0.03</text>
<line x1="588.4" y1="428.00" x2="600.8" y2="428.00" stroke="#000" stroke-width="1.6"/>
<text x="605.5" y="435.90" style="font-family:'Liberation Sans', sans-serif;font-size:22px">0.00</text>
<text transform="translate(680.5,216.8) rotate(-90)" text-anchor="middle" style="font-family:'Liberation Sans', sans-serif;font-size:21.8px">Weighted average of correlation coefficients</text>
<g id="chart">
<rect x="320.4" y="463.4" width="114.1" height="345.9" fill="#f4e549"/>
<defs><clipPath id="chartclip"><rect x="93.3" y="463.4" width="568.5" height="345.9"/></clipPath></defs>
<g clip-path="url(#chartclip)">
<polyline points="93,616.9 96,616.0 99,615.0 102,614.0 105,613.0 108,612.1 111,611.2 114,610.4 117,609.5 120,608.5 123,606.9 126,605.2 129,603.8 132,602.9 135,602.3 138,603.7 141,605.4 144,606.6 147,607.6 150,608.7 153,610.8 156,613.0 159,615.2 162,617.3 165,619.3 168,621.3 171,623.3 174,625.3 177,626.9 180,628.3 183,629.7 186,631.1 189,632.5 192,634.0 195,635.5 198,637.0 201,638.6 204,640.3 207,642.0 210,643.7 213,645.2 216,644.5 219,642.6 222,640.4 225,638.2 228,636.8 231,635.5 234,634.1 237,632.8 240,631.8 243,632.7 246,633.9 249,635.0 252,636.3 255,638.2 258,640.2 261,642.1 264,642.5 267,642.2 270,641.7 273,641.3 276,640.7 279,639.8 282,638.9 285,638.0 288,636.6 291,635.3 294,633.9 297,632.4 300,630.8 303,629.0 306,626.7 309,623.5 312,619.9 315,615.5 318,610.8 321,606.2 324,601.7 327,597.2 330,592.7 333,588.6" fill="none" stroke="#aaaaaa" stroke-width="1.25" stroke-opacity="1.0" stroke-linejoin="round"/>
<polyline points="93,616.9 96,616.0 99,615.0 102,614.0 105,613.0 108,612.1 111,611.2 114,610.4 117,609.5 120,608.5 123,606.9 126,605.2 129,603.8 132,602.9 135,602.3 138,603.7 141,605.4 144,606.6 147,607.6 150,608.7 153,610.8 156,613.0 159,615.2 162,617.3 165,619.3 168,621.3 171,623.3 174,625.3 177,626.9 180,628.3 183,629.7 186,631.1 189,632.5 192,634.0 195,635.5 198,637.0 201,638.6 204,640.3 207,642.0 210,643.7 213,645.2 216,644.5 219,642.6 222,640.4 225,638.2 228,636.8 231,635.5 234,634.1 237,632.8 240,631.8 243,632.7 246,633.9 249,635.0 252,636.3 255,638.2 258,640.2 261,642.1 264,642.5 267,642.2 270,641.7 273,641.3 276,640.7 279,639.8 282,638.9 285,638.0 288,636.6 291,635.3 294,633.9 297,632.4 300,630.8 303,629.0 306,626.7 309,623.5 312,619.9 315,615.5 318,610.8 321,606.2 324,601.7 327,597.2 330,592.7 333,588.6" fill="none" stroke="#aaaaaa" stroke-width="1.25" stroke-opacity="1.0" stroke-linejoin="round"/>
<polyline points="93,614.5 96,613.4 99,612.1 102,610.9 105,609.7 108,608.5 111,607.4 114,606.3 117,605.1 120,603.8 123,602.1 126,600.2 129,598.7 132,597.7 135,597.0 138,598.4 141,600.0 144,601.5 147,602.8 150,603.8 153,605.2 156,606.5 159,607.7 162,608.6 165,609.3 168,610.2 171,611.4 174,612.8 177,614.3 180,616.1 183,618.1 186,620.3 189,622.5 192,624.7 195,626.9 198,629.1 201,631.3 204,633.5 207,635.7 210,637.8 213,639.7 216,639.6 219,638.3 222,636.6 225,634.8 228,633.8 231,632.7 234,631.6 237,630.5 240,629.6 243,630.5 246,631.7 249,632.8 252,634.0 255,635.8 258,637.7 261,639.3 264,639.6 267,639.2 270,638.6 273,638.0 276,637.1 279,635.9 282,634.6 285,633.2 288,631.5 291,629.9 294,628.4 297,626.8 300,625.3 303,623.9 306,622.3 309,620.0 312,617.6 315,614.7 318,610.8 321,606.2 324,601.7 327,597.2 330,592.7 333,588.6" fill="none" stroke="#aaaaaa" stroke-width="1.25" stroke-opacity="1.0" stroke-linejoin="round"/>
<polyline points="93,613.7 96,612.3 99,610.7 102,609.1 105,607.5 108,605.9 111,604.5 114,603.0 117,601.6 120,600.2 123,598.4 126,596.8 129,595.5 132,594.8 135,594.5 138,596.2 141,598.3 144,600.3 147,602.1 150,603.3 153,605.0 156,606.6 159,608.2 162,609.5 165,610.8 168,612.2 171,613.9 174,615.7 177,617.5 180,619.4 183,621.4 186,623.4 189,625.4 192,627.4 195,629.3 198,631.1 201,632.9 204,634.8 207,636.5 210,638.1 213,639.5 216,638.9 219,637.1 222,635.0 225,632.8 228,631.4 231,630.1 234,628.9 237,627.6 240,626.7 243,627.4 246,628.4 249,629.6 252,630.8 255,632.7 258,634.7 261,636.5 264,637.3 267,637.4 270,637.5 273,637.5 276,637.2 279,636.8 282,636.4 285,636.1 288,635.4 291,634.8 294,633.9 297,632.4 300,630.8 303,629.0 306,626.7 309,623.5 312,619.9 315,615.5 318,610.8 321,606.2 324,601.7 327,597.2 330,592.7 333,588.6" fill="none" stroke="#aaaaaa" stroke-width="1.25" stroke-opacity="1.0" stroke-linejoin="round"/>
<polyline points="93,616.9 96,616.0 99,615.0 102,614.0 105,613.0 108,612.1 111,611.2 114,610.4 117,609.5 120,608.5 123,606.9 126,605.2 129,603.8 132,602.9 135,602.3 138,603.7 141,605.4 144,606.6 147,607.6 150,608.7 153,610.8 156,613.0 159,615.2 162,617.3 165,619.3 168,621.3 171,623.3 174,625.3 177,626.9 180,628.3 183,629.7 186,631.1 189,632.5 192,634.0 195,635.5 198,637.0 201,638.6 204,640.3 207,642.0 210,642.6 213,643.1 216,641.6 219,639.1 222,636.5 225,634.0 228,632.5 231,631.1 234,629.9 237,628.8 240,628.0 243,629.0 246,630.3 249,631.7 252,633.3 255,635.5 258,637.7 261,639.8 264,640.6 267,640.7 270,640.5 273,640.3 276,639.9 279,639.2 282,638.5 285,637.6 288,636.4 291,635.1 294,633.7 297,632.1 300,630.4 303,628.6 306,626.2 309,623.0 312,619.5 315,615.3 318,610.8 321,606.2 324,601.7 327,597.2 330,592.7 333,588.6" fill="none" stroke="#aaaaaa" stroke-width="1.25" stroke-opacity="1.0" stroke-linejoin="round"/>
<polyline points="93,614.9 96,613.9 99,612.8 102,611.8 105,610.8 108,609.9 111,609.1 114,608.4 117,607.7 120,606.9 123,605.5 126,604.0 129,602.7 132,601.9 135,601.4 138,602.8 141,604.3 144,605.5 147,606.4 150,607.3 153,608.9 156,610.5 159,611.9 162,613.0 165,613.8 168,614.4 171,615.0 174,615.7 177,616.3 180,617.0 183,618.0 186,619.1 189,620.4 192,621.8 195,623.1 198,624.6 201,626.1 204,627.6 207,629.2 210,630.7 213,632.1 216,631.9 219,630.7 222,629.3 225,627.9 228,627.1 231,626.5 234,625.8 237,625.1 240,624.7 243,625.7 246,627.0 249,628.4 252,629.9 255,631.9 258,634.0 261,635.8 264,636.5 267,636.6 270,636.5 273,636.2 276,635.6 279,634.7 282,633.8 285,632.8 288,631.5 291,630.2 294,629.0 297,627.7 300,626.3 303,624.9 306,623.2 309,620.7 312,618.1 315,614.9 318,610.8 321,606.2 324,601.7 327,597.2 330,592.7 333,588.6" fill="none" stroke="#aaaaaa" stroke-width="1.25" stroke-opacity="1.0" stroke-linejoin="round"/>
<polyline points="93,614.5 96,613.5 99,612.4 102,611.3 105,610.2 108,609.2 111,608.2 114,607.3 117,606.4 120,605.5 123,604.0 126,602.5 129,601.4 132,600.7 135,600.5 138,602.2 141,604.2 144,605.8 147,607.1 150,608.4 153,610.6 156,613.0 159,615.2 162,617.3 165,619.3 168,621.1 171,622.7 174,623.9 177,624.7 180,625.1 183,625.4 186,625.7 189,626.0 192,626.4 195,626.8 198,627.2 201,627.7 204,628.4 207,629.1 210,630.0 213,630.8 216,630.2 219,628.8 222,627.4 225,626.1 228,625.5 231,625.1 234,624.7 237,624.4 240,624.3 243,625.7 246,627.3 249,629.1 252,630.9 255,633.3 258,635.7 261,637.9 264,638.8 267,639.0 270,638.9 273,638.7 276,638.3 279,637.5 282,636.6 285,635.6 288,634.2 291,632.8 294,631.4 297,629.9 300,628.3 303,626.7 306,624.7 309,621.9 312,618.9 315,615.1 318,610.8 321,606.2 324,601.7 327,597.2 330,592.7 333,588.6" fill="none" stroke="#aaaaaa" stroke-width="1.25" stroke-opacity="1.0" stroke-linejoin="round"/>
<polyline points="93,616.6 96,615.5 99,614.2 102,612.9 105,611.4 108,610.1 111,608.6 114,607.2 117,605.6 120,604.1 123,602.0 126,599.9 129,598.2 132,597.1 135,596.4 138,597.8 141,599.6 144,601.2 147,602.7 150,603.8 153,605.4 156,607.0 159,608.5 162,609.7 165,610.9 168,612.2 171,613.7 174,615.4 177,617.0 180,618.7 183,620.4 186,622.3 189,624.1 192,625.9 195,627.6 198,629.3 201,631.1 204,632.9 207,634.7 210,636.5 213,638.1 216,637.9 219,636.5 222,634.9 225,633.3 228,632.4 231,631.5 234,630.6 237,629.7 240,629.0 243,630.0 246,631.3 249,632.6 252,634.0 255,635.9 258,637.9 261,639.7 264,640.2 267,639.9 270,639.5 273,639.1 276,638.4 279,637.5 282,636.5 285,635.5 288,634.2 291,632.9 294,631.6 297,630.3 300,628.8 303,627.3 306,625.3 309,622.3 312,619.2 315,615.2 318,610.8 321,606.2 324,601.7 327,597.2 330,592.7 333,588.6" fill="none" stroke="#aaaaaa" stroke-width="1.25" stroke-opacity="1.0" stroke-linejoin="round"/>
<polyline points="93,615.8 96,615.0 99,614.1 102,613.2 105,612.4 108,611.6 111,610.8 114,610.0 117,609.2 120,608.2 123,606.5 126,604.7 129,603.2 132,602.1 135,601.4 138,602.6 141,604.0 144,605.1 147,606.0 150,606.9 153,608.5 156,610.0 159,611.5 162,612.6 165,613.5 168,614.4 171,615.3 174,616.3 177,617.3 180,618.3 183,619.5 186,620.9 189,622.4 192,623.9 195,625.5 198,627.0 201,628.6 204,630.3 207,631.9 210,633.6 213,635.1 216,634.8 219,633.6 222,632.0 225,630.5 228,629.7 231,628.9 234,628.2 237,627.4 240,626.9 243,628.0 246,629.4 249,630.8 252,632.4 255,634.5 258,636.7 261,638.7 264,639.5 267,639.5 270,639.4 273,639.2 276,638.8 279,638.1 282,637.4 285,636.6 288,635.5 291,634.4 294,633.2 297,631.9 300,630.5 303,628.9 306,626.6 309,623.4 312,619.9 315,615.5 318,610.8 321,606.2 324,601.7 327,597.2 330,592.7 333,588.6" fill="none" stroke="#aaaaaa" stroke-width="1.25" stroke-opacity="1.0" stroke-linejoin="round"/>
<polyline points="93,616.7 96,615.6 99,614.3 102,612.9 105,611.5 108,610.2 111,608.8 114,607.3 117,605.8 120,604.3 123,602.2 126,600.2 129,598.4 132,597.3 135,596.6 138,597.9 141,599.6 144,601.2 147,602.6 150,603.6 153,605.0 156,606.4 159,607.5 162,608.4 165,609.0 168,609.7 171,610.5 174,611.4 177,612.4 180,613.5 183,614.7 186,616.1 189,617.6 192,619.0 195,620.4 198,621.7 201,623.0 204,624.3 207,625.6 210,626.9 213,628.1 216,627.8 219,626.6 222,625.3 225,624.1 228,623.4 231,622.9 234,622.5 237,622.1 240,621.9 243,623.0 246,624.4 249,626.0 252,627.6 255,629.8 258,632.0 261,633.9 264,634.8 267,635.1 270,635.2 273,635.1 276,634.6 279,633.8 282,632.9 285,632.0 288,630.8 291,629.5 294,628.3 297,627.1 300,625.7 303,624.4 306,622.8 309,620.3 312,617.8 315,614.8 318,610.8 321,606.2 324,601.7 327,597.2 330,592.7 333,588.6" fill="none" stroke="#aaaaaa" stroke-width="1.25" stroke-opacity="1.0" stroke-linejoin="round"/>
<polyline points="93,615.8 96,614.9 99,613.8 102,612.7 105,611.6 108,610.6 111,609.6 114,608.5 117,607.4 120,606.1 123,604.3 126,602.4 129,600.7 132,599.6 135,598.8 138,600.0 141,601.6 144,602.9 147,604.0 150,604.9 153,606.3 156,607.6 159,608.7 162,609.4 165,609.9 168,610.3 171,610.8 174,611.4 177,612.1 180,612.9 183,613.9 186,615.1 189,616.4 192,617.7 195,619.0 198,620.3 201,621.6 204,622.8 207,624.1 210,625.4 213,626.5 216,626.2 219,625.1 222,623.8 225,622.7 228,622.1 231,621.6 234,621.1 237,620.8 240,620.6 243,621.6 246,622.9 249,624.4 252,626.0 255,628.1 258,630.2 261,632.1 264,632.9 267,633.2 270,633.3 273,633.2 276,632.6 279,631.7 282,630.7 285,629.7 288,628.4 291,627.1 294,625.9 297,624.6 300,623.3 303,622.2 306,620.8 309,618.8 312,616.8 315,614.5 318,610.8 321,606.2 324,601.7 327,597.2 330,592.7 333,588.6" fill="none" stroke="#aaaaaa" stroke-width="1.25" stroke-opacity="1.0" stroke-linejoin="round"/>
<polyline points="93,615.4 96,614.4 99,613.3 102,612.1 105,611.0 108,610.0 111,608.9 114,607.9 117,606.8 120,605.6 123,603.8 126,602.0 129,600.5 132,599.4 135,598.6 138,599.9 141,601.4 144,602.6 147,603.6 150,604.4 153,605.5 156,606.5 159,607.1 162,607.2 165,606.8 168,606.3 171,605.8 174,605.4 177,605.2 180,605.4 183,606.1 186,607.1 189,608.4 192,609.8 195,611.3 198,612.9 201,614.5 204,616.3 207,618.1 210,620.1 213,622.0 216,622.8 219,622.8 222,622.6 225,622.4 228,622.7 231,623.0 234,623.2 237,623.3 240,623.6 243,625.2 246,627.0 249,628.9 252,630.9 255,633.3 258,635.8 261,638.1 264,639.1 267,639.3 270,639.3 273,639.2 276,638.8 279,638.1 282,637.4 285,636.7 288,635.5 291,634.3 294,633.2 297,631.8 300,630.3 303,628.7 306,626.5 309,623.3 312,619.9 315,615.5 318,610.8 321,606.2 324,601.7 327,597.2 330,592.7 333,588.6" fill="none" stroke="#aaaaaa" stroke-width="1.25" stroke-opacity="1.0" stroke-linejoin="round"/>
<polyline points="93,611.5 96,610.1 99,608.3 102,606.6 105,604.9 108,603.3 111,601.8 114,600.4 117,599.0 120,597.6 123,596.1 126,594.7 129,593.6 132,593.1 135,593.1 138,595.0 141,597.3 144,599.5 147,601.4 150,602.8 153,604.5 156,606.2 159,607.7 162,609.0 165,610.2 168,611.4 171,612.8 174,614.4 177,615.9 180,617.5 183,619.1 186,620.9 189,622.6 192,624.3 195,626.0 198,627.6 201,629.2 204,630.8 207,632.4 210,634.0 213,635.2 216,634.7 219,633.2 222,631.3 225,629.5 228,628.3 231,627.2 234,626.1 237,625.0 240,624.2 243,624.8 246,625.7 249,626.6 252,627.7 255,629.3 258,630.9 261,632.3 264,632.6 267,632.5 270,632.2 273,631.7 276,630.7 279,629.4 282,628.1 285,626.7 288,625.2 291,623.8 294,622.5 297,621.3 300,620.1 303,619.4 306,618.5 309,617.1 312,615.7 315,614.1 318,610.8 321,606.2 324,601.7 327,597.2 330,592.7 333,588.6" fill="none" stroke="#aaaaaa" stroke-width="1.25" stroke-opacity="1.0" stroke-linejoin="round"/>
<polyline points="93,612.7 96,611.4 99,609.8 102,608.3 105,606.7 108,605.2 111,603.8 114,602.3 117,600.8 120,599.3 123,597.4 126,595.6 129,594.1 132,593.1 135,592.6 138,594.0 141,595.9 144,597.8 147,599.5 150,600.5 153,601.5 156,602.2 159,602.7 162,602.7 165,602.5 168,602.2 171,602.3 174,602.6 177,603.4 180,604.6 183,606.2 186,608.2 189,610.3 192,612.4 195,614.4 198,616.5 201,618.6 204,620.8 207,622.9 210,625.1 213,627.2 216,627.8 219,627.6 222,627.0 225,626.3 228,626.2 231,626.0 234,625.8 237,625.5 240,625.3 243,626.6 246,628.1 249,629.7 252,631.3 255,633.5 258,635.6 261,637.5 264,638.2 267,638.2 270,637.9 273,637.6 276,636.9 279,636.0 282,635.0 285,633.9 288,632.5 291,631.1 294,629.7 297,628.3 300,626.7 303,625.3 306,623.4 309,620.8 312,618.1 315,614.9 318,610.8 321,606.2 324,601.7 327,597.2 330,592.7 333,588.6" fill="none" stroke="#aaaaaa" stroke-width="1.25" stroke-opacity="1.0" stroke-linejoin="round"/>
<polyline points="93,613.9 96,612.8 99,611.4 102,610.0 105,608.6 108,607.2 111,605.9 114,604.6 117,603.2 120,601.8 123,600.0 126,598.2 129,596.7 132,595.8 135,595.3 138,596.8 141,598.8 144,600.6 147,602.2 150,603.4 153,605.0 156,606.5 159,608.0 162,609.3 165,610.5 168,611.8 171,613.3 174,615.0 177,616.7 180,618.5 183,620.3 186,622.1 189,623.9 192,625.7 195,627.3 198,628.8 201,630.3 204,631.8 207,633.1 210,634.4 213,635.3 216,634.5 219,632.6 222,630.5 225,628.4 228,627.0 231,625.8 234,624.6 237,623.5 240,622.7 243,623.3 246,624.2 249,625.2 252,626.4 255,628.1 258,629.8 261,631.4 264,632.0 267,632.1 270,632.1 273,631.9 276,631.3 279,630.4 282,629.5 285,628.5 288,627.4 291,626.4 294,625.5 297,624.6 300,623.6 303,622.8 306,621.6 309,619.7 312,617.5 315,614.7 318,610.8 321,606.2 324,601.7 327,597.2 330,592.7 333,588.6" fill="none" stroke="#aaaaaa" stroke-width="1.25" stroke-opacity="1.0" stroke-linejoin="round"/>
<polyline points="93,615.5 96,614.5 99,613.3 102,612.1 105,610.8 108,609.7 111,608.5 114,607.3 117,606.1 120,604.8 123,602.9 126,601.1 129,599.5 132,598.4 135,597.7 138,599.0 141,600.6 144,602.1 147,603.3 150,604.2 153,605.4 156,606.6 159,607.4 162,607.9 165,608.0 168,608.0 171,608.0 174,608.1 177,608.3 180,608.8 183,609.6 186,610.6 189,611.8 192,612.9 195,614.1 198,615.2 201,616.3 204,617.4 207,618.4 210,619.4 213,620.3 216,619.9 219,618.9 222,617.8 225,616.8 228,616.2 231,615.8 234,615.5 237,615.2 240,615.2 243,616.0 246,617.1 249,618.5 252,620.0 255,621.9 258,623.8 261,625.5 264,626.4 267,626.8 270,627.2 273,627.1 276,626.4 279,625.5 282,624.4 285,623.3 288,622.0 291,620.9 294,620.0 297,619.1 300,618.2 303,617.8 306,617.2 309,616.2 312,615.2 315,613.9 318,610.8 321,606.2 324,601.7 327,597.2 330,592.7 333,588.6" fill="none" stroke="#aaaaaa" stroke-width="1.25" stroke-opacity="1.0" stroke-linejoin="round"/>
<polyline points="93,613.7 96,612.6 99,611.4 102,610.1 105,608.9 108,607.9 111,606.9 114,606.0 117,605.1 120,604.2 123,602.8 126,601.4 129,600.3 132,599.7 135,599.5 138,601.2 141,603.1 144,604.7 147,606.0 150,607.1 153,609.1 156,611.0 159,612.9 162,614.5 165,615.9 168,617.2 171,618.4 174,619.5 177,620.3 180,621.1 183,621.8 186,622.7 189,623.6 192,624.5 195,625.5 198,626.4 201,627.4 204,628.5 207,629.5 210,630.6 213,631.5 216,630.9 219,629.5 222,627.8 225,626.3 228,625.4 231,624.7 234,624.0 237,623.4 240,623.0 243,624.0 246,625.3 249,626.7 252,628.2 255,630.2 258,632.2 261,633.9 264,634.5 267,634.5 270,634.3 273,633.9 276,633.0 279,631.7 282,630.4 285,628.9 288,627.1 291,625.4 294,623.8 297,622.3 300,620.8 303,619.7 306,618.6 309,617.0 312,615.6 315,614.1 318,610.8 321,606.2 324,601.7 327,597.2 330,592.7 333,588.6" fill="none" stroke="#aaaaaa" stroke-width="1.25" stroke-opacity="1.0" stroke-linejoin="round"/>
<polyline points="93,613.1 96,611.4 99,609.4 102,607.3 105,605.1 108,603.0 111,600.9 114,598.7 117,596.5 120,594.4 123,592.2 126,590.2 129,588.6 132,587.7 135,587.5 138,589.1 141,591.4 144,593.9 147,596.2 150,597.5 153,598.6 156,599.5 159,600.3 162,600.8 165,601.3 168,602.2 171,603.6 174,605.5 177,607.9 180,610.6 183,613.6 186,616.7 189,619.6 192,622.5 195,625.1 198,627.5 201,629.8 204,631.8 207,633.7 210,635.4 213,636.6 216,635.9 219,634.0 222,631.7 225,629.4 228,627.8 231,626.3 234,624.9 237,623.5 240,622.5 243,622.9 246,623.7 249,624.6 252,625.8 255,627.4 258,629.2 261,630.8 264,631.5 267,631.7 270,631.9 273,631.8 276,631.3 279,630.5 282,629.8 285,629.0 288,628.0 291,627.0 294,626.2 297,625.3 300,624.3 303,623.4 306,622.1 309,620.0 312,617.7 315,614.8 318,610.8 321,606.2 324,601.7 327,597.2 330,592.7 333,588.6" fill="none" stroke="#aaaaaa" stroke-width="1.25" stroke-opacity="1.0" stroke-linejoin="round"/>
<polyline points="93,612.1 96,610.8 99,609.1 102,607.6 105,606.0 108,604.6 111,603.3 114,602.0 117,600.8 120,599.6 123,598.1 126,596.7 129,595.5 132,594.9 135,594.8 138,596.5 141,598.6 144,600.5 147,602.2 150,603.4 153,605.0 156,606.5 159,607.9 162,609.1 165,610.1 168,611.2 171,612.5 174,614.0 177,615.6 180,617.3 183,619.2 186,621.2 189,623.3 192,625.3 195,627.3 198,629.3 201,631.3 204,633.4 207,635.4 210,637.4 213,639.2 216,639.0 219,637.7 222,636.1 225,634.4 228,633.4 231,632.4 234,631.5 237,630.5 240,629.8 243,630.9 246,632.3 249,633.7 252,635.2 255,637.3 258,639.5 261,641.6 264,642.2 267,642.0 270,641.7 273,641.3 276,640.7 279,639.8 282,638.9 285,637.9 288,636.4 291,634.8 294,633.1 297,631.4 300,629.4 303,627.5 306,625.2 309,622.0 312,618.8 315,615.1 318,610.8 321,606.2 324,601.7 327,597.2 330,592.7 333,588.6" fill="none" stroke="#aaaaaa" stroke-width="1.25" stroke-opacity="1.0" stroke-linejoin="round"/>
<polyline points="93,613.7 96,612.4 99,610.8 102,609.1 105,607.5 108,605.9 111,604.3 114,602.6 117,600.9 120,599.2 123,597.2 126,595.2 129,593.6 132,592.5 135,592.0 138,593.3 141,595.2 144,597.1 147,598.8 150,599.8 153,600.6 156,601.3 159,601.6 162,601.5 165,601.1 168,600.7 171,600.7 174,601.1 177,601.9 180,603.3 183,605.1 186,607.2 189,609.5 192,611.8 195,614.0 198,616.3 201,618.5 204,620.7 207,622.8 210,625.0 213,627.0 216,627.5 219,627.0 222,626.2 225,625.3 228,624.8 231,624.4 234,623.9 237,623.3 240,622.9 243,623.8 246,624.9 249,626.0 252,627.3 255,628.9 258,630.6 261,632.0 264,632.3 267,632.2 270,631.9 273,631.4 276,630.4 279,629.2 282,628.0 285,626.7 288,625.4 291,624.2 294,623.3 297,622.4 300,621.5 303,621.0 306,620.2 309,618.6 312,616.9 315,614.5 318,610.8 321,606.2 324,601.7 327,597.2 330,592.7 333,588.6" fill="none" stroke="#aaaaaa" stroke-width="1.25" stroke-opacity="1.0" stroke-linejoin="round"/>
<polyline points="93,611.7 96,610.3 99,608.5 102,606.7 105,604.8 108,602.9 111,600.9 114,598.9 117,596.8 120,594.6 123,592.2 126,590.0 129,588.1 132,586.8 135,586.1 138,587.3 141,589.2 144,591.4 147,593.5 150,594.4 153,594.6 156,594.4 159,593.7 162,592.5 165,590.9 168,589.5 171,588.6 174,588.3 177,588.9 180,590.3 183,592.4 186,594.9 189,597.5 192,600.0 195,602.3 198,604.6 201,606.6 204,608.5 207,610.3 210,612.1 213,613.6 216,614.1 219,614.0 222,613.7 225,613.3 228,613.3 231,613.3 234,613.3 237,613.4 240,613.6 243,614.5 246,615.7 249,617.2 252,618.8 255,620.7 258,622.5 261,624.2 264,625.1 267,625.6 270,626.0 273,626.0 276,625.4 279,624.4 282,623.5 285,622.5 288,621.5 291,620.6 294,620.0 297,619.3 300,618.8 303,618.6 306,618.2 309,617.2 312,615.9 315,614.2 318,610.8 321,606.2 324,601.7 327,597.2 330,592.7 333,588.6" fill="none" stroke="#aaaaaa" stroke-width="1.25" stroke-opacity="1.0" stroke-linejoin="round"/>
<polyline points="93,615.0 96,613.8 99,612.3 102,610.8 105,609.2 108,607.7 111,606.1 114,604.4 117,602.7 120,601.0 123,598.8 126,596.7 129,595.0 132,593.8 135,593.2 138,594.5 141,596.2 144,598.0 147,599.5 150,600.4 153,601.3 156,601.9 159,602.1 162,601.8 165,601.0 168,600.1 171,599.4 174,598.9 177,598.8 180,599.2 183,600.0 186,601.2 189,602.6 192,604.0 195,605.4 198,606.9 201,608.4 204,609.8 207,611.3 210,612.9 213,614.5 216,615.1 219,615.1 222,615.0 225,615.0 228,615.2 231,615.5 234,615.7 237,615.9 240,616.1 243,617.2 246,618.5 249,620.0 252,621.5 255,623.3 258,624.9 261,626.3 264,626.8 267,626.9 270,626.8 273,626.2 276,625.0 279,623.5 282,621.9 285,620.2 288,618.5 291,617.0 294,615.9 297,614.9 300,614.2 303,614.1 306,614.1 309,613.9 312,613.7 315,613.5 318,610.8 321,606.2 324,601.7 327,597.2 330,592.7 333,588.6" fill="none" stroke="#aaaaaa" stroke-width="1.25" stroke-opacity="1.0" stroke-linejoin="round"/>
<polyline points="93,614.4 96,613.1 99,611.5 102,609.8 105,608.1 108,606.4 111,604.6 114,602.8 117,600.9 120,598.8 123,596.5 126,594.1 129,592.1 132,590.7 135,589.9 138,591.0 141,592.7 144,594.6 147,596.3 150,597.2 153,597.7 156,597.9 159,597.7 162,597.1 165,596.2 168,595.5 171,595.2 174,595.5 177,596.5 180,598.1 183,600.2 186,602.8 189,605.3 192,607.8 195,610.1 198,612.4 201,614.5 204,616.4 207,618.3 210,620.0 213,621.5 216,621.6 219,620.9 222,620.0 225,619.0 228,618.4 231,617.9 234,617.4 237,617.0 240,616.7 243,617.5 246,618.5 249,619.7 252,621.1 255,622.8 258,624.5 261,626.1 264,626.8 267,627.2 270,627.4 273,627.3 276,626.6 279,625.5 282,624.5 285,623.4 288,622.1 291,621.1 294,620.2 297,619.4 300,618.6 303,618.2 306,617.7 309,616.7 312,615.5 315,614.1 318,610.8 321,606.2 324,601.7 327,597.2 330,592.7 333,588.6" fill="none" stroke="#aaaaaa" stroke-width="1.25" stroke-opacity="1.0" stroke-linejoin="round"/>
<polyline points="93,611.4 96,610.0 99,608.3 102,606.6 105,605.0 108,603.4 111,601.9 114,600.3 117,598.8 120,597.3 123,595.6 126,593.9 129,592.6 132,591.8 135,591.6 138,593.2 141,595.4 144,597.5 147,599.4 150,600.6 153,601.8 156,602.9 159,603.8 162,604.3 165,604.7 168,605.2 171,606.0 174,607.1 177,608.4 180,610.0 183,611.7 186,613.7 189,615.5 192,617.3 195,618.9 198,620.4 201,621.8 204,623.0 207,624.2 210,625.2 213,626.0 216,625.4 219,623.9 222,622.3 225,620.8 228,619.8 231,619.0 234,618.4 237,617.8 240,617.5 243,618.2 246,619.3 249,620.6 252,622.1 255,624.0 258,625.9 261,627.6 264,628.4 267,628.8 270,629.1 273,628.9 276,628.3 279,627.3 282,626.3 285,625.2 288,623.9 291,622.7 294,621.7 297,620.7 300,619.8 303,619.2 306,618.4 309,617.1 312,615.7 315,614.1 318,610.8 321,606.2 324,601.7 327,597.2 330,592.7 333,588.6" fill="none" stroke="#aaaaaa" stroke-width="1.25" stroke-opacity="1.0" stroke-linejoin="round"/>
<polyline points="93,611.1 96,609.6 99,607.8 102,605.9 105,603.9 108,602.1 111,600.1 114,598.1 117,596.0 120,593.9 123,591.6 126,589.4 129,587.5 132,586.3 135,585.6 138,586.8 141,588.7 144,590.9 147,593.0 150,593.8 153,593.8 156,593.3 159,592.3 162,590.6 165,588.5 168,586.4 171,584.8 174,583.8 177,583.8 180,584.8 183,586.5 186,588.8 189,591.2 192,593.5 195,595.8 198,598.0 201,600.0 204,601.9 207,603.8 210,605.6 213,607.4 216,608.4 219,608.9 222,609.3 225,609.6 228,610.2 231,610.8 234,611.4 237,612.0 240,612.6 243,614.0 246,615.5 249,617.4 252,619.3 255,621.4 258,623.6 261,625.5 264,626.5 267,627.1 270,627.5 273,627.4 276,626.6 279,625.5 282,624.3 285,622.9 288,621.3 291,619.9 294,618.6 297,617.3 300,616.2 303,615.6 306,615.0 309,614.3 312,613.7 315,613.4 318,610.8 321,606.2 324,601.7 327,597.2 330,592.7 333,588.6" fill="none" stroke="#aaaaaa" stroke-width="1.25" stroke-opacity="1.0" stroke-linejoin="round"/>
<polyline points="93,611.1 96,609.6 99,607.6 102,605.6 105,603.5 108,601.3 111,599.2 114,597.0 117,594.7 120,592.5 123,590.2 126,588.1 129,586.4 132,585.4 135,585.1 138,586.7 141,589.0 144,591.6 147,594.1 150,595.4 153,596.1 156,596.5 159,596.6 162,596.2 165,595.6 168,595.2 171,595.2 174,595.5 177,596.4 180,597.8 183,599.5 186,601.5 189,603.4 192,605.2 195,606.8 198,608.3 201,609.6 204,610.8 207,612.0 210,613.1 213,614.1 216,614.2 219,613.8 222,613.3 225,613.0 228,613.0 231,613.2 234,613.5 237,613.8 240,614.2 243,615.5 246,617.1 249,618.9 252,620.8 255,623.0 258,625.3 261,627.3 264,628.5 267,629.1 270,629.5 273,629.5 276,629.0 279,628.2 282,627.2 285,626.2 288,625.0 291,623.9 294,622.9 297,621.9 300,620.9 303,620.2 306,619.3 309,617.8 312,616.2 315,614.3 318,610.8 321,606.2 324,601.7 327,597.2 330,592.7 333,588.6" fill="none" stroke="#aaaaaa" stroke-width="1.25" stroke-opacity="1.0" stroke-linejoin="round"/>
<polyline points="93,609.8 96,608.4 99,606.7 102,605.0 105,603.4 108,601.9 111,600.5 114,599.1 117,597.8 120,596.5 123,594.9 126,593.4 129,592.3 132,591.6 135,591.5 138,593.2 141,595.3 144,597.3 147,599.1 150,600.2 153,601.2 156,601.9 159,602.3 162,602.2 165,601.7 168,601.2 171,600.9 174,600.8 177,601.2 180,602.0 183,603.1 186,604.7 189,606.4 192,608.1 195,609.7 198,611.3 201,612.8 204,614.3 207,615.8 210,617.2 213,618.5 216,618.6 219,618.0 222,617.2 225,616.5 228,616.2 231,615.9 234,615.6 237,615.4 240,615.4 243,616.2 246,617.3 249,618.6 252,620.0 255,621.7 258,623.5 261,625.0 264,625.8 267,626.1 270,626.4 273,626.3 276,625.5 279,624.5 282,623.5 285,622.4 288,621.3 291,620.3 294,619.6 297,618.8 300,618.2 303,618.0 306,617.5 309,616.5 312,615.4 315,614.0 318,610.8 321,606.2 324,601.7 327,597.2 330,592.7 333,588.6" fill="none" stroke="#aaaaaa" stroke-width="1.25" stroke-opacity="1.0" stroke-linejoin="round"/>
<polyline points="93,610.9 96,609.5 99,607.8 102,606.1 105,604.4 108,602.8 111,601.1 114,599.5 117,597.9 120,596.2 123,594.4 126,592.6 129,591.2 132,590.2 135,589.9 138,591.3 141,593.3 144,595.3 147,597.1 150,598.1 153,598.6 156,598.8 159,598.5 162,597.6 165,596.2 168,594.8 171,593.5 174,592.6 177,592.4 180,592.8 183,593.8 186,595.4 189,597.1 192,598.8 195,600.5 198,602.1 201,603.7 204,605.2 207,606.7 210,608.2 213,609.7 216,610.3 219,610.4 222,610.5 225,610.5 228,610.9 231,611.3 234,611.7 237,612.1 240,612.7 243,613.8 246,615.3 249,617.0 252,618.9 255,621.0 258,623.1 261,624.9 264,626.0 267,626.6 270,627.1 273,627.1 276,626.5 279,625.6 282,624.6 285,623.5 288,622.3 291,621.2 294,620.3 297,619.3 300,618.5 303,618.0 306,617.3 309,616.2 312,615.1 315,613.9 318,610.8 321,606.2 324,601.7 327,597.2 330,592.7 333,588.6" fill="none" stroke="#aaaaaa" stroke-width="1.25" stroke-opacity="1.0" stroke-linejoin="round"/>
<polyline points="93,611.8 96,610.3 99,608.4 102,606.5 105,604.5 108,602.6 111,600.7 114,598.7 117,596.7 120,594.8 123,592.7 126,590.6 129,589.0 132,588.0 135,587.6 138,589.1 141,591.1 144,593.4 147,595.4 150,596.4 153,596.9 156,597.0 159,596.7 162,595.7 165,594.4 168,593.0 171,591.9 174,591.3 177,591.4 180,592.3 183,593.7 186,595.6 189,597.8 192,599.9 195,602.0 198,604.1 201,606.2 204,608.2 207,610.3 210,612.6 213,614.7 216,615.9 219,616.4 222,616.7 225,616.9 228,617.4 231,617.9 234,618.3 237,618.7 240,619.0 243,620.4 246,622.0 249,623.7 252,625.4 255,627.5 258,629.6 261,631.3 264,632.0 267,632.1 270,632.0 273,631.6 276,630.8 279,629.5 282,628.2 285,626.9 288,625.3 291,623.8 294,622.5 297,621.3 300,620.1 303,619.4 306,618.5 309,617.1 312,615.7 315,614.1 318,610.8 321,606.2 324,601.7 327,597.2 330,592.7 333,588.6" fill="none" stroke="#aaaaaa" stroke-width="1.25" stroke-opacity="1.0" stroke-linejoin="round"/>
<polyline points="93,610.6 96,609.0 99,607.1 102,605.1 105,603.1 108,601.1 111,599.1 114,597.1 117,595.1 120,593.1 123,591.0 126,589.0 129,587.4 132,586.4 135,586.0 138,587.5 141,589.6 144,592.0 147,594.2 150,595.3 153,595.7 156,595.8 159,595.5 162,594.7 165,593.6 168,592.6 171,592.2 174,592.2 177,593.1 180,594.6 183,596.7 186,599.1 189,601.7 192,604.0 195,606.3 198,608.4 201,610.4 204,612.3 207,614.0 210,615.7 213,617.2 216,617.6 219,617.2 222,616.6 225,616.1 228,615.9 231,615.7 234,615.6 237,615.6 240,615.6 243,616.6 246,617.8 249,619.3 252,620.9 255,622.8 258,624.7 261,626.4 264,627.4 267,627.8 270,628.2 273,628.1 276,627.5 279,626.6 282,625.6 285,624.6 288,623.3 291,622.2 294,621.3 297,620.3 300,619.4 303,618.7 306,617.9 309,616.7 312,615.4 315,614.0 318,610.8 321,606.2 324,601.7 327,597.2 330,592.7 333,588.6" fill="none" stroke="#aaaaaa" stroke-width="1.25" stroke-opacity="1.0" stroke-linejoin="round"/>
<polyline points="93,608.2 96,606.3 99,604.0 102,601.6 105,599.3 108,597.0 111,594.8 114,592.7 117,590.6 120,588.6 123,586.8 126,585.2 129,584.0 132,583.5 135,583.7 138,585.6 141,588.2 144,591.1 147,593.7 150,595.1 153,595.8 156,596.2 159,596.2 162,595.8 165,595.1 168,594.5 171,594.3 174,594.5 177,595.4 180,596.8 183,598.7 186,600.9 189,603.2 192,605.3 195,607.3 198,609.3 201,611.1 204,612.9 207,614.6 210,616.3 213,617.8 216,618.2 219,617.9 222,617.4 225,616.9 228,616.8 231,616.8 234,616.8 237,616.8 240,616.9 243,618.0 246,619.3 249,620.8 252,622.4 255,624.3 258,626.2 261,627.8 264,628.6 267,628.8 270,628.8 273,628.5 276,627.6 279,626.3 282,625.0 285,623.5 288,621.9 291,620.5 294,619.3 297,618.1 300,617.1 303,616.7 306,616.2 309,615.4 312,614.6 315,613.8 318,610.8 321,606.2 324,601.7 327,597.2 330,592.7 333,588.6" fill="none" stroke="#aaaaaa" stroke-width="1.25" stroke-opacity="1.0" stroke-linejoin="round"/>
<polyline points="93,606.4 96,604.6 99,602.3 102,600.0 105,597.8 108,595.7 111,593.7 114,591.8 117,590.0 120,588.4 123,586.9 126,585.6 129,584.8 132,584.6 135,585.0 138,587.2 141,590.0 144,593.0 147,595.7 150,597.3 153,598.5 156,599.5 159,600.4 162,600.8 165,601.1 168,601.5 171,602.2 174,603.1 177,604.3 180,605.8 183,607.4 186,609.1 189,610.7 192,612.1 195,613.4 198,614.5 201,615.5 204,616.2 207,616.9 210,617.5 213,617.8 216,617.0 219,615.7 222,614.3 225,613.1 228,612.3 231,611.8 234,611.4 237,611.2 240,611.2 243,611.8 246,612.8 249,614.2 252,615.7 255,617.4 258,619.2 261,620.7 264,621.7 267,622.3 270,622.8 273,622.8 276,622.0 279,620.9 282,619.7 285,618.5 288,617.1 291,616.0 294,615.1 297,614.2 300,613.6 303,613.5 306,613.5 309,613.3 312,613.2 315,613.3 318,610.8 321,606.2 324,601.7 327,597.2 330,592.7 333,588.6" fill="none" stroke="#aaaaaa" stroke-width="1.25" stroke-opacity="1.0" stroke-linejoin="round"/>
<polyline points="93,607.3 96,605.2 99,602.6 102,599.9 105,597.2 108,594.6 111,592.0 114,589.4 117,586.8 120,584.4 123,582.2 126,580.3 129,578.9 132,578.1 135,578.1 138,579.8 141,582.3 144,585.4 147,588.3 150,589.5 153,589.4 156,588.7 159,587.4 162,585.5 165,583.2 168,581.0 171,579.5 174,578.7 177,579.1 180,580.5 183,582.5 186,585.1 189,587.8 192,590.2 195,592.4 198,594.4 201,596.1 204,597.6 207,599.0 210,600.2 213,601.3 216,601.8 219,602.0 222,602.1 225,602.3 228,602.6 231,603.0 234,603.5 237,604.1 240,604.7 243,605.5 246,606.6 249,608.1 252,609.7 255,611.3 258,612.9 261,614.2 264,615.1 267,615.9 270,616.5 273,616.4 276,615.4 279,614.1 282,612.7 285,611.2 288,609.8 291,608.8 294,608.2 297,607.8 300,607.7 303,608.4 306,609.5 309,610.4 312,611.4 315,612.8 318,610.8 321,606.2 324,601.7 327,597.2 330,592.7 333,588.6" fill="none" stroke="#aaaaaa" stroke-width="1.25" stroke-opacity="1.0" stroke-linejoin="round"/>
<polyline points="93,609.7 96,608.0 99,605.9 102,603.7 105,601.6 108,599.6 111,597.6 114,595.6 117,593.7 120,592.0 123,590.2 126,588.6 129,587.4 132,586.8 135,586.8 138,588.7 141,591.2 144,593.8 147,596.1 150,597.5 153,598.5 156,599.3 159,599.7 162,599.8 165,599.7 168,599.7 171,600.0 174,600.6 177,601.7 180,603.1 183,604.8 186,606.7 189,608.6 192,610.4 195,612.0 198,613.4 201,614.7 204,615.9 207,617.0 210,617.9 213,618.6 216,618.2 219,617.0 222,615.8 225,614.6 228,613.9 231,613.3 234,612.8 237,612.3 240,612.1 243,612.6 246,613.3 249,614.3 252,615.5 255,616.9 258,618.2 261,619.3 264,619.8 267,620.2 270,620.4 273,620.1 276,619.0 279,617.5 282,616.1 285,614.7 288,613.3 291,612.2 294,611.5 297,611.1 300,610.8 303,611.4 306,612.0 309,612.4 312,612.8 315,613.2 318,610.8 321,606.2 324,601.7 327,597.2 330,592.7 333,588.6" fill="none" stroke="#aaaaaa" stroke-width="1.25" stroke-opacity="1.0" stroke-linejoin="round"/>
<polyline points="93,609.4 96,607.8 99,605.7 102,603.6 105,601.6 108,599.6 111,597.6 114,595.7 117,593.8 120,591.9 123,590.1 126,588.3 129,587.0 132,586.2 135,586.1 138,587.8 141,590.1 144,592.6 147,594.9 150,596.1 153,596.7 156,597.0 159,597.0 162,596.4 165,595.5 168,594.8 171,594.5 174,594.6 177,595.5 180,597.1 183,599.1 186,601.5 189,604.1 192,606.5 195,608.9 198,611.2 201,613.4 204,615.6 207,617.6 210,619.6 213,621.3 216,621.7 219,621.2 222,620.4 225,619.5 228,618.9 231,618.4 234,617.8 237,617.2 240,616.7 243,617.2 246,617.8 249,618.7 252,619.6 255,620.7 258,621.8 261,622.7 264,622.8 267,622.7 270,622.5 273,621.8 276,620.4 279,618.7 282,617.0 285,615.2 288,613.5 291,612.1 294,611.2 297,610.4 300,610.0 303,610.4 306,611.0 309,611.4 312,612.0 315,612.9 318,610.8 321,606.2 324,601.7 327,597.2 330,592.7 333,588.6" fill="none" stroke="#aaaaaa" stroke-width="1.25" stroke-opacity="1.0" stroke-linejoin="round"/>
<polyline points="93,609.5 96,607.8 99,605.7 102,603.6 105,601.4 108,599.2 111,597.1 114,594.9 117,592.7 120,590.5 123,588.3 126,586.3 129,584.6 132,583.6 135,583.3 138,584.7 141,586.9 144,589.4 147,591.8 150,592.9 153,593.0 156,592.7 159,591.9 162,590.5 165,588.8 168,587.3 171,586.4 174,586.2 177,587.0 180,588.6 183,590.9 186,593.7 189,596.6 192,599.3 195,601.9 198,604.4 201,606.8 204,608.9 207,611.0 210,613.0 213,614.8 216,615.6 219,615.7 222,615.5 225,615.3 228,615.4 231,615.5 234,615.6 237,615.7 240,615.9 243,616.9 246,618.3 249,619.7 252,621.3 255,623.2 258,625.0 261,626.6 264,627.3 267,627.5 270,627.5 273,627.1 276,626.1 279,624.7 282,623.2 285,621.6 288,619.9 291,618.3 294,617.0 297,615.8 300,614.8 303,614.4 306,614.2 309,613.7 312,613.4 315,613.4 318,610.8 321,606.2 324,601.7 327,597.2 330,592.7 333,588.6" fill="none" stroke="#aaaaaa" stroke-width="1.25" stroke-opacity="1.0" stroke-linejoin="round"/>
<polyline points="93,607.6 96,605.8 99,603.4 102,601.0 105,598.6 108,596.3 111,594.0 114,591.6 117,589.4 120,587.2 123,585.2 126,583.4 129,582.1 132,581.4 135,581.5 138,583.2 141,585.8 144,588.7 147,591.5 150,592.7 153,593.1 156,593.0 159,592.5 162,591.4 165,590.1 168,588.8 171,588.1 174,588.0 177,588.8 180,590.3 183,592.4 186,594.9 189,597.4 192,599.8 195,602.1 198,604.2 201,606.1 204,607.9 207,609.6 210,611.2 213,612.7 216,613.1 219,613.0 222,612.7 225,612.4 228,612.5 231,612.6 234,612.7 237,612.9 240,613.2 243,614.3 246,615.6 249,617.2 252,618.9 255,620.8 258,622.8 261,624.6 264,625.5 267,626.1 270,626.4 273,626.3 276,625.5 279,624.4 282,623.2 285,621.9 288,620.3 291,619.0 294,617.8 297,616.6 300,615.6 303,615.1 306,614.6 309,614.0 312,613.5 315,613.4 318,610.8 321,606.2 324,601.7 327,597.2 330,592.7 333,588.6" fill="none" stroke="#aaaaaa" stroke-width="1.25" stroke-opacity="1.0" stroke-linejoin="round"/>
<polyline points="93,610.6 96,609.0 99,607.1 102,605.1 105,603.0 108,601.0 111,598.9 114,596.8 117,594.7 120,592.6 123,590.3 126,588.2 129,586.4 132,585.3 135,584.8 138,586.0 141,588.0 144,590.3 147,592.5 150,593.4 153,593.3 156,592.8 159,591.7 162,590.0 165,587.8 168,585.7 171,584.2 174,583.3 177,583.6 180,584.8 183,586.7 186,589.3 189,592.0 192,594.6 195,597.1 198,599.5 201,601.7 204,603.7 207,605.7 210,607.5 213,609.2 216,610.0 219,610.2 222,610.2 225,610.2 228,610.4 231,610.6 234,610.9 237,611.1 240,611.4 243,612.3 246,613.4 249,614.8 252,616.3 255,617.9 258,619.5 261,620.8 264,621.5 267,621.9 270,622.1 273,621.7 276,620.6 279,619.2 282,617.6 285,616.1 288,614.5 291,613.3 294,612.5 297,611.8 300,611.4 303,611.8 306,612.3 309,612.6 312,612.9 315,613.3 318,610.8 321,606.2 324,601.7 327,597.2 330,592.7 333,588.6" fill="none" stroke="#aaaaaa" stroke-width="1.25" stroke-opacity="1.0" stroke-linejoin="round"/>
<polyline points="93,607.0 96,605.3 99,602.9 102,600.5 105,598.2 108,595.9 111,593.6 114,591.3 117,589.0 120,586.8 123,584.8 126,582.9 129,581.5 132,580.6 135,580.6 138,582.2 141,584.6 144,587.4 147,590.1 150,591.2 153,591.2 156,590.6 159,589.4 162,587.6 165,585.3 168,583.2 171,581.6 174,580.6 177,580.8 180,582.1 183,584.0 186,586.5 189,589.2 192,591.8 195,594.3 198,596.7 201,599.0 204,601.2 207,603.4 210,605.7 213,607.9 216,609.4 219,610.3 222,611.1 225,611.8 228,612.8 231,613.6 234,614.4 237,615.2 240,615.9 243,617.4 246,619.1 249,620.9 252,622.8 255,624.9 258,626.9 261,628.6 264,629.3 267,629.4 270,629.3 273,628.7 276,627.5 279,626.0 282,624.2 285,622.4 288,620.4 291,618.5 294,616.9 297,615.5 300,614.3 303,613.7 306,613.4 309,613.0 312,612.9 315,613.2 318,610.8 321,606.2 324,601.7 327,597.2 330,592.7 333,588.6" fill="none" stroke="#aaaaaa" stroke-width="1.25" stroke-opacity="1.0" stroke-linejoin="round"/>
<polyline points="93,605.8 96,604.0 99,601.5 102,599.0 105,596.5 108,594.0 111,591.4 114,588.7 117,585.9 120,583.2 123,580.7 126,578.3 129,576.4 132,575.2 135,575.2 138,576.9 141,579.5 144,582.8 147,585.8 150,587.0 153,586.5 156,585.2 159,583.3 162,580.6 165,577.4 168,574.3 171,571.9 174,571.1 177,572.0 180,574.1 183,577.1 186,580.6 189,584.2 192,587.5 195,590.5 198,593.2 201,595.6 204,597.7 207,599.5 210,601.2 213,602.6 216,603.4 219,603.7 222,603.9 225,604.1 228,604.4 231,604.8 234,605.3 237,606.0 240,606.7 243,607.7 246,609.1 249,610.9 252,612.9 255,615.0 258,617.2 261,619.2 264,620.7 267,621.9 270,622.9 273,623.4 276,623.1 279,622.4 282,621.7 285,620.9 288,619.9 291,619.0 294,618.3 297,617.5 300,616.7 303,616.3 306,615.8 309,614.9 312,614.2 315,613.6 318,610.8 321,606.2 324,601.7 327,597.2 330,592.7 333,588.6" fill="none" stroke="#aaaaaa" stroke-width="1.25" stroke-opacity="1.0" stroke-linejoin="round"/>
<polyline points="93,607.0 96,605.1 99,602.6 102,600.1 105,597.5 108,595.0 111,592.5 114,590.0 117,587.5 120,585.1 123,582.9 126,580.9 129,579.5 132,578.6 135,578.6 138,580.3 141,582.8 144,585.9 147,588.8 150,590.0 153,590.0 156,589.3 159,588.2 162,586.4 165,584.2 168,582.1 171,580.6 174,579.8 177,580.2 180,581.6 183,583.6 186,586.2 189,589.0 192,591.5 195,593.9 198,596.2 201,598.3 204,600.1 207,601.9 210,603.7 213,605.3 216,606.1 219,606.6 222,606.8 225,607.1 228,607.5 231,607.9 234,608.4 237,608.8 240,609.3 243,610.3 246,611.5 249,613.0 252,614.5 255,616.2 258,617.9 261,619.3 264,620.0 267,620.5 270,620.8 273,620.5 276,619.4 279,617.9 282,616.3 285,614.7 288,613.0 291,611.6 294,610.6 297,609.7 300,609.2 303,609.5 306,610.1 309,610.7 312,611.5 315,612.7 318,610.8 321,606.2 324,601.7 327,597.2 330,592.7 333,588.6" fill="none" stroke="#aaaaaa" stroke-width="1.25" stroke-opacity="1.0" stroke-linejoin="round"/>
<polyline points="93,605.3 96,603.2 99,600.5 102,597.8 105,595.0 108,592.3 111,589.6 114,586.9 117,584.2 120,581.7 123,579.5 126,577.5 129,576.0 132,575.2 135,575.2 138,576.9 141,579.5 144,582.8 147,585.8 150,587.0 153,586.5 156,585.2 159,583.3 162,580.6 165,577.4 168,575.2 171,573.9 174,573.5 177,574.6 180,576.9 183,579.8 186,583.3 189,586.8 192,590.0 195,593.0 198,595.7 201,598.1 204,600.2 207,602.2 210,604.0 213,605.5 216,606.3 219,606.6 222,606.6 225,606.7 228,607.0 231,607.2 234,607.6 237,607.9 240,608.4 243,609.3 246,610.4 249,611.9 252,613.5 255,615.3 258,617.0 261,618.5 264,619.4 267,620.0 270,620.5 273,620.4 276,619.4 279,618.2 282,616.8 285,615.3 288,613.9 291,612.7 294,611.8 297,611.1 300,610.7 303,611.1 306,611.6 309,612.0 312,612.4 315,613.1 318,610.8 321,606.2 324,601.7 327,597.2 330,592.7 333,588.6" fill="none" stroke="#aaaaaa" stroke-width="1.25" stroke-opacity="1.0" stroke-linejoin="round"/>
<polyline points="93,608.7 96,607.0 99,604.8 102,602.6 105,600.4 108,598.3 111,596.2 114,594.2 117,592.1 120,590.1 123,588.2 126,586.3 129,584.9 132,584.1 135,583.9 138,585.5 141,587.7 144,590.3 147,592.6 150,593.7 153,593.8 156,593.4 159,592.5 162,590.8 165,588.5 168,586.2 171,584.2 174,582.6 177,582.0 180,582.2 183,583.1 186,584.6 189,586.3 192,587.9 195,589.3 198,590.8 201,592.1 204,593.3 207,594.4 210,595.7 213,596.9 216,597.8 219,598.5 222,599.3 225,600.1 228,601.1 231,602.1 234,603.2 237,604.3 240,605.4 243,606.7 246,608.3 249,610.2 252,612.3 255,614.5 258,616.6 261,618.5 264,619.8 267,620.9 270,621.7 273,622.0 276,621.5 279,620.6 282,619.7 285,618.7 288,617.6 291,616.7 294,616.0 297,615.4 300,614.9 303,614.9 306,614.8 309,614.3 312,613.9 315,613.5 318,610.8 321,606.2 324,601.7 327,597.2 330,592.7 333,588.6" fill="none" stroke="#aaaaaa" stroke-width="1.25" stroke-opacity="1.0" stroke-linejoin="round"/>
<polyline points="93,605.3 96,603.2 99,600.5 102,597.8 105,595.0 108,592.3 111,589.6 114,586.9 117,584.2 120,581.7 123,579.5 126,577.5 129,576.0 132,575.2 135,575.2 138,576.9 141,579.5 144,582.8 147,585.8 150,587.0 153,586.5 156,585.2 159,583.3 162,580.6 165,577.4 168,574.3 171,571.9 174,570.3 177,570.2 180,571.3 183,573.3 186,576.0 189,578.9 192,581.5 195,584.0 198,586.3 201,588.5 204,590.3 207,592.0 210,593.7 213,595.3 216,596.5 219,597.5 222,598.4 225,599.3 228,600.2 231,601.1 234,602.1 237,603.0 240,603.9 243,604.9 246,606.2 249,607.8 252,609.5 255,611.2 258,612.9 261,614.2 264,615.1 267,616.0 270,616.8 273,616.9 276,616.0 279,614.8 282,613.5 285,612.1 288,610.7 291,609.7 294,609.1 297,608.6 300,608.4 303,609.1 306,610.0 309,610.7 312,611.6 315,612.8 318,610.8 321,606.2 324,601.7 327,597.2 330,592.7 333,588.6" fill="none" stroke="#aaaaaa" stroke-width="1.25" stroke-opacity="1.0" stroke-linejoin="round"/>
<polyline points="93,606.1 96,604.2 99,601.7 102,599.2 105,596.8 108,594.4 111,592.1 114,589.8 117,587.5 120,585.3 123,583.3 126,581.4 129,580.0 132,579.2 135,579.2 138,580.7 141,583.1 144,586.0 147,588.6 150,589.6 153,589.2 156,588.1 159,586.3 162,583.6 165,580.3 168,577.0 171,574.2 174,572.1 177,571.3 180,571.7 183,573.3 186,576.0 189,578.9 192,581.5 195,584.0 198,586.3 201,588.5 204,590.3 207,592.0 210,593.7 213,595.3 216,596.5 219,597.5 222,598.4 225,599.3 228,600.2 231,601.1 234,602.1 237,603.0 240,603.9 243,604.9 246,606.2 249,607.8 252,609.5 255,611.2 258,612.9 261,614.2 264,615.1 267,615.8 270,616.3 273,616.1 276,615.0 279,613.5 282,611.9 285,610.2 288,608.6 291,607.4 294,606.7 297,606.1 300,605.9 303,606.7 306,607.9 309,609.1 312,610.5 315,612.5 318,610.8 321,606.2 324,601.7 327,597.2 330,592.7 333,588.6" fill="none" stroke="#aaaaaa" stroke-width="1.25" stroke-opacity="1.0" stroke-linejoin="round"/>
<polyline points="93,605.6 96,603.5 99,600.9 102,598.2 105,595.5 108,592.8 111,590.2 114,587.6 117,584.9 120,582.4 123,580.2 126,578.2 129,576.6 132,575.7 135,575.6 138,577.1 141,579.5 144,582.8 147,585.8 150,587.0 153,586.5 156,585.2 159,583.3 162,580.6 165,577.4 168,574.3 171,571.9 174,570.3 177,570.2 180,571.3 183,573.3 186,576.0 189,578.9 192,581.5 195,584.0 198,586.3 201,588.5 204,590.3 207,592.0 210,593.7 213,595.3 216,596.5 219,597.5 222,598.4 225,599.3 228,600.2 231,601.2 234,602.4 237,603.5 240,604.6 243,605.8 246,607.2 249,608.9 252,610.6 255,612.4 258,614.1 261,615.5 264,616.4 267,617.1 270,617.6 273,617.5 276,616.4 279,615.0 282,613.6 285,612.2 288,610.8 291,609.7 294,609.2 297,608.8 300,608.7 303,609.4 306,610.3 309,611.1 312,611.9 315,612.9 318,610.8 321,606.2 324,601.7 327,597.2 330,592.7 333,588.6" fill="none" stroke="#aaaaaa" stroke-width="1.25" stroke-opacity="1.0" stroke-linejoin="round"/>
<polyline points="93,605.6 96,603.6 99,601.1 102,598.5 105,595.9 108,593.4 111,591.0 114,588.5 117,586.1 120,583.8 123,581.7 126,579.9 129,578.5 132,577.7 135,577.7 138,579.4 141,581.9 144,584.9 147,587.8 150,588.9 153,588.6 156,587.6 159,586.0 162,583.6 165,580.7 168,578.0 171,575.9 174,574.6 177,574.7 180,575.9 183,577.9 186,580.6 189,583.6 192,586.3 195,588.9 198,591.4 201,593.8 204,595.8 207,597.8 210,599.8 213,601.7 216,602.9 219,603.7 222,604.4 225,605.0 228,605.7 231,606.4 234,607.0 237,607.7 240,608.3 243,609.4 246,610.6 249,612.2 252,613.8 255,615.6 258,617.3 261,618.6 264,619.4 267,619.9 270,620.3 273,620.0 276,618.8 279,617.3 282,615.7 285,614.0 288,612.4 291,611.0 294,610.0 297,609.2 300,608.7 303,609.1 306,609.8 309,610.5 312,611.4 315,612.7 318,610.8 321,606.2 324,601.7 327,597.2 330,592.7 333,588.6" fill="none" stroke="#aaaaaa" stroke-width="1.25" stroke-opacity="1.0" stroke-linejoin="round"/>
<polyline points="93,605.3 96,603.2 99,600.5 102,597.8 105,595.1 108,592.8 111,590.5 114,588.3 117,586.1 120,584.2 123,582.5 126,581.0 129,580.0 132,579.7 135,580.0 138,582.0 141,584.8 144,587.9 147,590.8 150,592.1 153,592.4 156,592.2 159,591.4 162,590.0 165,588.1 168,586.2 171,584.8 174,583.8 177,583.7 180,584.4 183,585.7 186,587.5 189,589.5 192,591.3 195,593.0 198,594.6 201,596.0 204,597.2 207,598.4 210,599.5 213,600.6 216,601.2 219,601.5 222,601.8 225,602.2 228,602.7 231,603.2 234,603.9 237,604.6 240,605.3 243,606.2 246,607.4 249,608.9 252,610.6 255,612.2 258,613.8 261,615.1 264,615.9 267,616.6 270,617.0 273,616.8 276,615.6 279,614.1 282,612.4 285,610.7 288,609.0 291,607.7 294,606.9 297,606.2 300,606.0 303,606.7 306,607.9 309,609.1 312,610.5 315,612.5 318,610.8 321,606.2 324,601.7 327,597.2 330,592.7 333,588.6" fill="none" stroke="#aaaaaa" stroke-width="1.25" stroke-opacity="1.0" stroke-linejoin="round"/>
<polyline points="432,604.9 435,610.5 438,615.7 441,620.9 444,626.1 447,629.7 450,630.5 453,631.0 456,631.5 459,632.0 462,632.4 465,632.8 468,633.1 471,633.2 474,632.8 477,632.4 480,632.0 483,631.5 486,631.1 489,630.6 492,630.2 495,629.9 498,629.5 501,629.1 504,628.8 507,629.0 510,629.6 513,630.1 516,630.7 519,631.3 522,632.2 525,633.2 528,634.1 531,635.1 534,636.1 537,637.1 540,638.0 543,638.1 546,638.0 549,637.9 552,636.8 555,635.4 558,635.6 561,635.9 564,636.3 567,636.6 570,637.0 573,637.5 576,638.1 579,638.3 582,636.1 585,632.4 588,628.6 591,625.0 594,621.6 597,618.4 600,615.4" fill="none" stroke="#aaaaaa" stroke-width="1.25" stroke-opacity="1.0" stroke-linejoin="round"/>
<polyline points="432,604.9 435,610.5 438,615.7 441,620.6 444,625.2 447,628.3 450,629.0 453,629.3 456,629.4 459,629.4 462,629.2 465,628.9 468,628.5 471,627.8 474,626.8 477,625.8 480,624.9 483,624.1 486,623.3 489,622.6 492,622.1 495,621.8 498,621.5 501,621.3 504,621.1 507,621.4 510,621.9 513,622.5 516,623.2 519,623.9 522,625.0 525,626.3 528,627.6 531,629.0 534,630.3 537,631.6 540,632.9 543,633.4 546,633.8 549,633.9 552,633.2 555,632.3 558,632.8 561,633.5 564,634.2 567,634.8 570,635.4 573,636.2 576,636.9 579,637.3 582,635.4 585,632.1 588,628.6 591,625.0 594,621.6 597,618.4 600,615.4" fill="none" stroke="#aaaaaa" stroke-width="1.25" stroke-opacity="1.0" stroke-linejoin="round"/>
<polyline points="432,604.9 435,610.5 438,615.7 441,620.6 444,625.0 447,628.2 450,628.9 453,629.1 456,629.3 459,629.4 462,629.4 465,629.2 468,629.0 471,628.6 474,627.8 477,627.1 480,626.5 483,625.8 486,625.2 489,624.7 492,624.2 495,623.9 498,623.6 501,623.4 504,623.2 507,623.4 510,624.0 513,624.5 516,625.1 519,625.8 522,626.8 525,627.9 528,629.2 531,630.4 534,631.6 537,632.8 540,633.9 543,634.3 546,634.5 549,634.5 552,633.7 555,632.7 558,633.1 561,633.8 564,634.4 567,635.0 570,635.7 573,636.5 576,637.3 579,637.8 582,635.9 585,632.4 588,628.6 591,625.0 594,621.6 597,618.4 600,615.4" fill="none" stroke="#aaaaaa" stroke-width="1.25" stroke-opacity="1.0" stroke-linejoin="round"/>
<polyline points="432,604.9 435,610.5 438,615.7 441,620.5 444,624.9 447,628.2 450,629.0 453,629.4 456,629.7 459,630.0 462,630.2 465,630.3 468,630.4 471,630.2 474,629.6 477,629.1 480,628.6 483,628.2 486,627.8 489,627.4 492,627.2 495,627.0 498,626.8 501,626.7 504,626.7 507,627.1 510,627.9 513,628.7 516,629.6 519,630.5 522,631.6 525,632.9 528,634.1 531,635.1 534,636.1 537,637.1 540,638.0 543,638.1 546,638.0 549,637.9 552,636.8 555,635.4 558,635.6 561,635.9 564,636.3 567,636.6 570,637.0 573,637.5 576,638.1 579,638.3 582,636.1 585,632.4 588,628.6 591,625.0 594,621.6 597,618.4 600,615.4" fill="none" stroke="#aaaaaa" stroke-width="1.25" stroke-opacity="1.0" stroke-linejoin="round"/>
<polyline points="432,604.9 435,610.5 438,615.7 441,620.9 444,626.1 447,629.7 450,630.5 453,631.0 456,631.5 459,632.0 462,632.4 465,632.7 468,632.9 471,632.7 474,632.1 477,631.5 480,631.0 483,630.4 486,629.9 489,629.5 492,629.1 495,628.8 498,628.6 501,628.4 504,628.2 507,628.7 510,629.4 513,630.1 516,630.7 519,631.3 522,632.2 525,633.2 528,634.1 531,635.1 534,636.1 537,637.1 540,638.0 543,638.1 546,638.0 549,637.9 552,636.8 555,635.4 558,635.6 561,635.9 564,636.3 567,636.6 570,636.8 573,637.2 576,637.7 579,637.9 582,635.7 585,632.2 588,628.6 591,625.0 594,621.6 597,618.4 600,615.4" fill="none" stroke="#aaaaaa" stroke-width="1.25" stroke-opacity="1.0" stroke-linejoin="round"/>
<polyline points="432,604.9 435,610.5 438,615.7 441,620.6 444,625.1 447,628.4 450,629.2 453,629.6 456,630.0 459,630.3 462,630.6 465,630.9 468,631.1 471,631.2 474,630.9 477,630.6 480,630.4 483,630.1 486,629.8 489,629.5 492,629.2 495,628.9 498,628.5 501,628.1 504,627.7 507,627.8 510,628.2 513,628.5 516,628.9 519,629.3 522,629.9 525,630.7 528,631.6 531,632.5 534,633.4 537,634.4 540,635.2 543,635.4 546,635.5 549,635.5 552,634.6 555,633.5 558,633.9 561,634.6 564,635.2 567,635.9 570,636.5 573,637.2 576,637.9 579,638.3 582,636.1 585,632.4 588,628.6 591,625.0 594,621.6 597,618.4 600,615.4" fill="none" stroke="#aaaaaa" stroke-width="1.25" stroke-opacity="1.0" stroke-linejoin="round"/>
<polyline points="432,604.9 435,610.5 438,615.7 441,620.3 444,624.3 447,627.4 450,628.3 453,628.6 456,628.9 459,629.2 462,629.4 465,629.5 468,629.7 471,629.5 474,629.1 477,628.6 480,628.2 483,627.8 486,627.3 489,626.8 492,626.4 495,626.0 498,625.6 501,625.1 504,624.7 507,624.8 510,625.0 513,625.3 516,625.6 519,626.0 522,626.6 525,627.5 528,628.4 531,629.4 534,630.4 537,631.3 540,632.2 543,632.5 546,632.6 549,632.5 552,631.7 555,630.8 558,631.2 561,632.0 564,632.7 567,633.4 570,634.2 573,635.1 576,636.1 579,636.7 582,635.1 585,632.0 588,628.6 591,625.0 594,621.6 597,618.4 600,615.4" fill="none" stroke="#aaaaaa" stroke-width="1.25" stroke-opacity="1.0" stroke-linejoin="round"/>
<polyline points="432,604.9 435,610.5 438,615.7 441,620.1 444,623.7 447,626.7 450,627.9 453,628.5 456,629.0 459,629.6 462,630.1 465,630.7 468,631.4 471,631.8 474,631.8 477,631.8 480,631.8 483,631.5 486,631.1 489,630.6 492,630.2 495,629.9 498,629.5 501,629.1 504,628.8 507,629.0 510,629.5 513,629.8 516,630.1 519,630.4 522,630.9 525,631.6 528,632.4 531,633.2 534,634.0 537,634.8 540,635.5 543,635.6 546,635.5 549,635.2 552,634.2 555,632.9 558,633.1 561,633.5 564,633.9 567,634.4 570,634.9 573,635.6 576,636.2 579,636.6 582,634.9 585,631.8 588,628.6 591,625.0 594,621.6 597,618.4 600,615.4" fill="none" stroke="#aaaaaa" stroke-width="1.25" stroke-opacity="1.0" stroke-linejoin="round"/>
<polyline points="432,604.9 435,610.5 438,615.7 441,620.3 444,624.3 447,627.5 450,628.5 453,628.9 456,629.2 459,629.5 462,629.6 465,629.7 468,629.6 471,629.3 474,628.6 477,627.9 480,627.2 483,626.5 486,625.7 489,624.9 492,624.3 495,623.8 498,623.2 501,622.7 504,622.3 507,622.3 510,622.5 513,622.8 516,623.1 519,623.5 522,624.2 525,625.1 528,626.1 531,627.2 534,628.2 537,629.2 540,630.0 543,630.3 546,630.4 549,630.1 552,629.2 555,628.2 558,628.5 561,629.1 564,629.7 567,630.3 570,631.0 573,631.9 576,632.8 579,633.6 582,632.7 585,630.8 588,628.6 591,625.0 594,621.6 597,618.4 600,615.4" fill="none" stroke="#aaaaaa" stroke-width="1.25" stroke-opacity="1.0" stroke-linejoin="round"/>
<polyline points="432,604.9 435,610.5 438,615.7 441,619.7 444,622.1 447,624.6 450,625.7 453,626.1 456,626.3 459,626.4 462,626.5 465,626.6 468,626.6 471,626.5 474,626.1 477,625.8 480,625.6 483,625.4 486,625.2 489,624.9 492,624.7 495,624.6 498,624.5 501,624.3 504,624.1 507,624.4 510,624.9 513,625.4 516,625.8 519,626.4 522,627.2 525,628.2 528,629.2 531,630.3 534,631.4 537,632.4 540,633.3 543,633.6 546,633.7 549,633.6 552,632.7 555,631.7 558,632.0 561,632.7 564,633.3 567,633.9 570,634.6 573,635.4 576,636.2 579,636.7 582,635.0 585,631.9 588,628.6 591,625.0 594,621.6 597,618.4 600,615.4" fill="none" stroke="#aaaaaa" stroke-width="1.25" stroke-opacity="1.0" stroke-linejoin="round"/>
<polyline points="432,604.9 435,610.5 438,615.7 441,620.2 444,623.7 447,626.6 450,627.4 453,627.6 456,627.6 459,627.5 462,627.3 465,626.9 468,626.3 471,625.6 474,624.5 477,623.6 480,622.8 483,622.1 486,621.4 489,620.8 492,620.4 495,620.2 498,620.2 501,620.2 504,620.3 507,620.8 510,621.5 513,622.4 516,623.3 519,624.3 522,625.6 525,627.2 528,628.7 531,630.3 534,631.7 537,633.2 540,634.5 543,635.0 546,635.3 549,635.5 552,634.7 555,633.7 558,634.1 561,634.7 564,635.2 567,635.8 570,636.3 573,637.0 576,637.7 579,638.1 582,636.0 585,632.4 588,628.6 591,625.0 594,621.6 597,618.4 600,615.4" fill="none" stroke="#aaaaaa" stroke-width="1.25" stroke-opacity="1.0" stroke-linejoin="round"/>
<polyline points="432,604.9 435,610.5 438,615.7 441,620.7 444,625.6 447,629.0 450,629.8 453,630.2 456,630.6 459,630.8 462,630.9 465,630.9 468,630.8 471,630.3 474,629.4 477,628.4 480,627.5 483,626.6 486,625.7 489,624.8 492,624.0 495,623.4 498,622.8 501,622.3 504,621.8 507,621.8 510,622.0 513,622.2 516,622.5 519,622.8 522,623.5 525,624.4 528,625.4 531,626.5 534,627.5 537,628.4 540,629.3 543,629.6 546,629.6 549,629.3 552,628.4 555,627.5 558,627.8 561,628.4 564,629.0 567,629.6 570,630.3 573,631.2 576,632.1 579,632.9 582,632.2 585,630.5 588,628.6 591,625.0 594,621.6 597,618.4 600,615.4" fill="none" stroke="#aaaaaa" stroke-width="1.25" stroke-opacity="1.0" stroke-linejoin="round"/>
<polyline points="432,604.9 435,610.5 438,615.7 441,619.7 444,622.0 447,624.3 450,625.1 453,625.1 456,624.8 459,624.4 462,623.8 465,623.1 468,622.2 471,621.1 474,619.9 477,618.9 480,618.1 483,617.4 486,616.7 489,616.2 492,615.9 495,615.9 498,615.9 501,616.0 504,616.2 507,616.6 510,617.3 513,618.0 516,618.7 519,619.5 522,620.7 525,622.1 528,623.6 531,625.0 534,626.4 537,627.6 540,628.7 543,629.2 546,629.4 549,629.2 552,628.4 555,627.5 558,627.9 561,628.5 564,629.1 567,629.7 570,630.4 573,631.3 576,632.2 579,633.0 582,632.2 585,630.6 588,628.6 591,625.0 594,621.6 597,618.4 600,615.4" fill="none" stroke="#aaaaaa" stroke-width="1.25" stroke-opacity="1.0" stroke-linejoin="round"/>
<polyline points="432,604.9 435,610.5 438,615.7 441,620.1 444,623.3 447,626.0 450,626.9 453,627.1 456,627.1 459,627.1 462,627.1 465,626.9 468,626.7 471,626.3 474,625.7 477,625.2 480,624.8 483,624.4 486,624.0 489,623.5 492,623.2 495,622.9 498,622.6 501,622.2 504,621.9 507,621.9 510,622.1 513,622.2 516,622.4 519,622.5 522,623.0 525,623.7 528,624.5 531,625.3 534,626.1 537,626.8 540,627.5 543,627.6 546,627.6 549,627.2 552,626.2 555,625.3 558,625.7 561,626.3 564,627.0 567,627.7 570,628.5 573,629.5 576,630.5 579,631.4 582,631.1 585,630.0 588,628.6 591,625.0 594,621.6 597,618.4 600,615.4" fill="none" stroke="#aaaaaa" stroke-width="1.25" stroke-opacity="1.0" stroke-linejoin="round"/>
<polyline points="432,604.9 435,610.5 438,615.7 441,620.0 444,623.2 447,626.1 450,627.1 453,627.5 456,627.8 459,628.1 462,628.2 465,628.4 468,628.4 471,628.3 474,627.8 477,627.3 480,626.9 483,626.4 486,625.8 489,625.2 492,624.7 495,624.2 498,623.7 501,623.1 504,622.6 507,622.5 510,622.6 513,622.6 516,622.7 519,622.8 522,623.2 525,623.8 528,624.5 531,625.2 534,625.9 537,626.5 540,627.0 543,627.0 546,626.8 549,626.1 552,625.0 555,623.9 558,624.1 561,624.6 564,625.1 567,625.7 570,626.4 573,627.4 576,628.5 579,629.6 582,629.7 585,629.3 588,628.6 591,625.0 594,621.6 597,618.4 600,615.4" fill="none" stroke="#aaaaaa" stroke-width="1.25" stroke-opacity="1.0" stroke-linejoin="round"/>
<polyline points="432,604.9 435,610.5 438,615.7 441,620.7 444,625.6 447,629.1 450,629.8 453,630.2 456,630.5 459,630.6 462,630.7 465,630.5 468,630.2 471,629.5 474,628.3 477,627.1 480,625.9 483,624.7 486,623.4 489,622.2 492,621.1 495,620.2 498,619.4 501,618.6 504,618.0 507,617.8 510,617.7 513,617.8 516,617.9 519,618.2 522,619.0 525,620.1 528,621.3 531,622.6 534,623.9 537,625.2 540,626.3 543,627.0 546,627.4 549,627.5 552,627.0 555,626.4 558,627.0 561,627.9 564,628.8 567,629.6 570,630.5 573,631.5 576,632.5 579,633.3 582,632.5 585,630.7 588,628.6 591,625.0 594,621.6 597,618.4 600,615.4" fill="none" stroke="#aaaaaa" stroke-width="1.25" stroke-opacity="1.0" stroke-linejoin="round"/>
<polyline points="432,604.9 435,610.5 438,615.7 441,619.3 444,620.6 447,622.4 450,623.2 453,623.2 456,622.6 459,622.0 462,621.3 465,620.4 468,619.5 471,618.5 474,617.4 477,616.7 480,616.2 483,615.8 486,615.3 489,615.0 492,614.9 495,614.9 498,615.0 501,615.0 504,615.0 507,615.2 510,615.5 513,615.8 516,616.1 519,616.4 522,617.2 525,618.2 528,619.2 531,620.3 534,621.4 537,622.3 540,623.2 543,623.6 546,623.8 549,623.5 552,622.8 555,622.2 558,622.8 561,623.7 564,624.6 567,625.4 570,626.4 573,627.6 576,628.9 579,630.0 582,630.1 585,629.5 588,628.6 591,625.0 594,621.6 597,618.4 600,615.4" fill="none" stroke="#aaaaaa" stroke-width="1.25" stroke-opacity="1.0" stroke-linejoin="round"/>
<polyline points="432,604.9 435,610.5 438,615.7 441,619.9 444,622.6 447,625.1 450,625.9 453,626.0 456,625.7 459,625.4 462,624.9 465,624.2 468,623.4 471,622.4 474,621.1 477,620.1 480,619.2 483,618.4 486,617.5 489,616.8 492,616.3 495,616.0 498,615.7 501,615.5 504,615.3 507,615.4 510,615.6 513,615.8 516,616.0 519,616.4 522,617.1 525,618.0 528,619.1 531,620.2 534,621.2 537,622.1 540,622.9 543,623.3 546,623.4 549,622.9 552,622.1 555,621.4 558,621.8 561,622.5 564,623.2 567,623.9 570,624.8 573,625.9 576,627.1 579,628.2 582,628.7 585,628.8 588,628.6 591,625.0 594,621.6 597,618.4 600,615.4" fill="none" stroke="#aaaaaa" stroke-width="1.25" stroke-opacity="1.0" stroke-linejoin="round"/>
<polyline points="432,604.9 435,610.5 438,615.7 441,619.4 444,621.0 447,623.0 450,624.0 453,624.2 456,624.0 459,623.8 462,623.6 465,623.4 468,623.1 471,622.8 474,622.4 477,622.2 480,622.0 483,621.9 486,621.7 489,621.6 492,621.5 495,621.5 498,621.4 501,621.3 504,621.2 507,621.5 510,621.9 513,622.4 516,622.8 519,623.4 522,624.2 525,625.2 528,626.2 531,627.3 534,628.3 537,629.2 540,629.9 543,630.0 546,629.9 549,629.4 552,628.3 555,627.0 558,627.1 561,627.4 564,627.7 567,628.1 570,628.5 573,629.2 576,630.0 579,630.7 582,630.4 585,629.6 588,628.6 591,625.0 594,621.6 597,618.4 600,615.4" fill="none" stroke="#aaaaaa" stroke-width="1.25" stroke-opacity="1.0" stroke-linejoin="round"/>
<polyline points="432,604.9 435,610.5 438,615.7 441,619.8 444,622.4 447,624.8 450,625.7 453,625.8 456,625.6 459,625.4 462,624.9 465,624.3 468,623.5 471,622.6 474,621.3 477,620.2 480,619.3 483,618.4 486,617.4 489,616.6 492,615.9 495,615.5 498,615.2 501,614.9 504,614.7 507,614.7 510,614.9 513,615.1 516,615.4 519,615.8 522,616.6 525,617.8 528,619.0 531,620.3 534,621.6 537,622.7 540,623.8 543,624.4 546,624.7 549,624.5 552,623.9 555,623.3 558,623.9 561,624.8 564,625.6 567,626.5 570,627.4 573,628.5 576,629.7 579,630.8 582,630.6 585,629.8 588,628.6 591,625.0 594,621.6 597,618.4 600,615.4" fill="none" stroke="#aaaaaa" stroke-width="1.25" stroke-opacity="1.0" stroke-linejoin="round"/>
<polyline points="432,604.9 435,610.5 438,615.7 441,619.1 444,620.0 447,621.8 450,622.8 453,622.8 456,622.4 459,621.9 462,621.3 465,620.5 468,619.8 471,618.9 474,618.0 477,617.4 480,617.0 483,616.7 486,616.3 489,616.0 492,616.0 495,616.1 498,616.2 501,616.3 504,616.4 507,616.7 510,617.2 513,617.6 516,618.1 519,618.6 522,619.6 525,620.7 528,622.0 531,623.2 534,624.4 537,625.5 540,626.5 543,627.0 546,627.2 549,627.1 552,626.4 555,625.6 558,626.1 561,626.9 564,627.7 567,628.5 570,629.4 573,630.5 576,631.6 579,632.5 582,631.9 585,630.4 588,628.6 591,625.0 594,621.6 597,618.4 600,615.4" fill="none" stroke="#aaaaaa" stroke-width="1.25" stroke-opacity="1.0" stroke-linejoin="round"/>
<polyline points="432,604.9 435,610.5 438,615.7 441,618.8 444,619.0 447,620.3 450,621.1 453,620.8 456,619.9 459,618.9 462,617.7 465,616.3 468,614.7 471,613.0 474,611.4 477,610.3 480,609.4 483,608.6 486,607.9 489,607.3 492,607.1 495,607.2 498,607.4 501,607.6 504,607.8 507,608.2 510,608.6 513,609.0 516,609.4 519,610.0 522,611.1 525,612.5 528,614.0 531,615.5 534,616.9 537,618.2 540,619.3 543,620.1 546,620.5 549,620.4 552,619.9 555,619.6 558,620.3 561,621.3 564,622.3 567,623.3 570,624.4 573,625.7 576,627.2 579,628.5 582,629.0 585,629.0 588,628.6 591,625.0 594,621.6 597,618.4 600,615.4" fill="none" stroke="#aaaaaa" stroke-width="1.25" stroke-opacity="1.0" stroke-linejoin="round"/>
<polyline points="432,604.9 435,610.5 438,615.7 441,619.0 444,619.5 447,621.0 450,621.8 453,621.6 456,620.8 459,619.9 462,618.8 465,617.5 468,616.0 471,614.3 474,612.7 477,611.4 480,610.5 483,609.6 486,608.7 489,607.9 492,607.5 495,607.5 498,607.6 501,607.7 504,607.8 507,608.1 510,608.5 513,608.9 516,609.4 519,610.1 522,611.2 525,612.8 528,614.4 531,616.1 534,617.7 537,619.2 540,620.5 543,621.5 546,622.0 549,622.1 552,621.8 555,621.5 558,622.3 561,623.3 564,624.3 567,625.3 570,626.3 573,627.6 576,628.9 579,630.0 582,630.1 585,629.5 588,628.6 591,625.0 594,621.6 597,618.4 600,615.4" fill="none" stroke="#aaaaaa" stroke-width="1.25" stroke-opacity="1.0" stroke-linejoin="round"/>
<polyline points="432,604.9 435,610.5 438,615.7 441,619.2 444,620.2 447,622.1 450,623.1 453,623.2 456,622.8 459,622.4 462,621.9 465,621.3 468,620.6 471,619.8 474,618.9 477,618.2 480,617.8 483,617.3 486,616.8 489,616.3 492,616.1 495,615.9 498,615.8 501,615.6 504,615.5 507,615.5 510,615.7 513,615.8 516,616.0 519,616.2 522,616.9 525,617.9 528,618.9 531,620.0 534,621.1 537,622.2 540,623.1 543,623.6 546,623.9 549,623.7 552,623.1 555,622.7 558,623.3 561,624.3 564,625.2 567,626.2 570,627.2 573,628.4 576,629.7 579,630.8 582,630.7 585,629.9 588,628.6 591,625.0 594,621.6 597,618.4 600,615.4" fill="none" stroke="#aaaaaa" stroke-width="1.25" stroke-opacity="1.0" stroke-linejoin="round"/>
<polyline points="432,604.9 435,610.5 438,615.7 441,619.1 444,619.6 447,620.9 450,621.6 453,621.2 456,620.3 459,619.2 462,618.0 465,616.6 468,615.1 471,613.7 474,612.4 477,611.6 480,611.1 483,610.9 486,610.7 489,610.7 492,611.0 495,611.6 498,612.3 501,612.9 504,613.5 507,614.3 510,615.1 513,616.0 516,616.8 519,617.7 522,618.9 525,620.3 528,621.6 531,623.0 534,624.2 537,625.3 540,626.3 543,626.7 546,626.8 549,626.5 552,625.6 555,624.7 558,625.0 561,625.6 564,626.3 567,626.9 570,627.7 573,628.6 576,629.7 579,630.6 582,630.4 585,629.7 588,628.6 591,625.0 594,621.6 597,618.4 600,615.4" fill="none" stroke="#aaaaaa" stroke-width="1.25" stroke-opacity="1.0" stroke-linejoin="round"/>
<polyline points="432,604.9 435,610.5 438,615.7 441,618.9 444,619.1 447,620.3 450,621.0 453,620.7 456,619.6 459,618.4 462,617.1 465,615.4 468,613.6 471,611.7 474,609.9 477,608.6 480,607.7 483,606.8 486,606.0 489,605.4 492,605.2 495,605.4 498,605.7 501,605.9 504,606.2 507,606.5 510,606.9 513,607.2 516,607.6 519,608.1 522,609.0 525,610.3 528,611.7 531,613.1 534,614.4 537,615.6 540,616.6 543,617.4 546,617.7 549,617.5 552,617.1 555,617.0 558,617.8 561,619.0 564,620.2 567,621.4 570,622.8 573,624.4 576,626.1 579,627.6 582,628.5 585,628.8 588,628.6 591,625.0 594,621.6 597,618.4 600,615.4" fill="none" stroke="#aaaaaa" stroke-width="1.25" stroke-opacity="1.0" stroke-linejoin="round"/>
<polyline points="432,604.9 435,610.5 438,615.7 441,618.7 444,618.3 447,619.3 450,620.0 453,619.5 456,618.2 459,616.7 462,615.1 465,613.1 468,611.0 471,608.8 474,606.8 477,605.4 480,604.4 483,603.6 486,602.8 489,602.3 492,602.3 495,602.7 498,603.3 501,603.9 504,604.5 507,605.1 510,605.8 513,606.4 516,607.1 519,608.0 522,609.3 525,611.0 528,612.7 531,614.4 534,616.0 537,617.3 540,618.6 543,619.5 546,620.0 549,619.9 552,619.4 555,619.2 558,619.9 561,621.0 564,622.0 567,623.1 570,624.2 573,625.6 576,627.1 579,628.4 582,629.0 585,629.0 588,628.6 591,625.0 594,621.6 597,618.4 600,615.4" fill="none" stroke="#aaaaaa" stroke-width="1.25" stroke-opacity="1.0" stroke-linejoin="round"/>
<polyline points="432,604.9 435,610.5 438,615.7 441,619.0 444,619.5 447,621.1 450,622.1 453,622.0 456,621.5 459,620.7 462,619.9 465,618.9 468,617.8 471,616.5 474,615.3 477,614.4 480,613.8 483,613.2 486,612.7 489,612.2 492,612.2 495,612.3 498,612.5 501,612.7 504,612.9 507,613.3 510,613.8 513,614.3 516,614.8 519,615.3 522,616.2 525,617.4 528,618.5 531,619.7 534,620.7 537,621.6 540,622.3 543,622.6 546,622.6 549,622.0 552,621.1 555,620.4 558,620.7 561,621.4 564,622.1 567,622.9 570,623.8 573,625.0 576,626.3 579,627.6 582,628.3 585,628.6 588,628.6 591,625.0 594,621.6 597,618.4 600,615.4" fill="none" stroke="#aaaaaa" stroke-width="1.25" stroke-opacity="1.0" stroke-linejoin="round"/>
<polyline points="432,604.9 435,610.5 438,615.7 441,618.5 444,617.7 447,618.7 450,619.7 453,619.5 456,618.6 459,617.5 462,616.4 465,615.1 468,613.6 471,612.1 474,610.8 477,609.8 480,609.1 483,608.5 486,607.9 489,607.4 492,607.3 495,607.4 498,607.6 501,607.8 504,608.0 507,608.3 510,608.7 513,609.0 516,609.4 519,609.9 522,610.8 525,612.1 528,613.4 531,614.8 534,616.1 537,617.2 540,618.1 543,618.7 546,618.8 549,618.4 552,617.7 555,617.2 558,617.6 561,618.4 564,619.3 567,620.1 570,621.0 573,622.3 576,623.7 579,625.1 582,626.4 585,627.7 588,628.6 591,625.0 594,621.6 597,618.4 600,615.4" fill="none" stroke="#aaaaaa" stroke-width="1.25" stroke-opacity="1.0" stroke-linejoin="round"/>
<polyline points="432,604.9 435,610.5 438,615.7 441,618.6 444,618.1 447,619.1 450,619.9 453,619.6 456,618.5 459,617.3 462,616.0 465,614.4 468,612.7 471,610.9 474,609.4 477,608.4 480,607.7 483,607.2 486,606.7 489,606.4 492,606.5 495,607.0 498,607.5 501,608.0 504,608.5 507,609.0 510,609.7 513,610.3 516,610.9 519,611.6 522,612.7 525,614.2 528,615.6 531,617.0 534,618.4 537,619.5 540,620.5 543,621.1 546,621.3 549,621.0 552,620.2 555,619.7 558,620.2 561,621.0 564,621.8 567,622.7 570,623.6 573,624.9 576,626.3 579,627.6 582,628.3 585,628.7 588,628.6 591,625.0 594,621.6 597,618.4 600,615.4" fill="none" stroke="#aaaaaa" stroke-width="1.25" stroke-opacity="1.0" stroke-linejoin="round"/>
<polyline points="432,604.9 435,610.5 438,615.7 441,618.7 444,618.6 447,620.0 450,621.1 453,621.0 456,620.4 459,619.6 462,618.7 465,617.6 468,616.4 471,615.0 474,613.7 477,612.7 480,611.9 483,611.1 486,610.4 489,609.7 492,609.3 495,609.2 498,609.2 501,609.1 504,609.1 507,609.2 510,609.3 513,609.5 516,609.7 519,610.0 522,610.8 525,611.9 528,613.1 531,614.4 534,615.6 537,616.6 540,617.5 543,618.1 546,618.3 549,618.0 552,617.3 555,617.0 558,617.5 561,618.5 564,619.5 567,620.5 570,621.6 573,623.0 576,624.5 579,626.0 582,627.2 585,628.1 588,628.6 591,625.0 594,621.6 597,618.4 600,615.4" fill="none" stroke="#aaaaaa" stroke-width="1.25" stroke-opacity="1.0" stroke-linejoin="round"/>
<polyline points="432,604.9 435,610.5 438,615.7 441,618.8 444,618.7 447,619.8 450,620.6 453,620.2 456,619.1 459,617.7 462,616.2 465,614.3 468,612.2 471,610.0 474,607.9 477,606.2 480,604.9 483,603.8 486,602.7 489,602.1 492,602.1 495,602.3 498,602.7 501,603.1 504,603.5 507,603.9 510,604.2 513,604.6 516,605.0 519,605.6 522,606.6 525,608.1 528,610.0 531,611.9 534,613.7 537,615.3 540,616.7 543,617.9 546,618.6 549,618.7 552,618.4 555,618.3 558,619.2 561,620.3 564,621.4 567,622.5 570,623.6 573,625.0 576,626.4 579,627.8 582,628.4 585,628.7 588,628.6 591,625.0 594,621.6 597,618.4 600,615.4" fill="none" stroke="#aaaaaa" stroke-width="1.25" stroke-opacity="1.0" stroke-linejoin="round"/>
<polyline points="432,604.9 435,610.5 438,615.7 441,618.6 444,617.9 447,618.8 450,619.5 453,619.0 456,617.8 459,616.4 462,614.8 465,613.0 468,611.0 471,609.1 474,607.4 477,606.2 480,605.4 483,604.8 486,604.3 489,603.9 492,604.0 495,604.4 498,604.9 501,605.3 504,605.8 507,606.2 510,606.7 513,607.1 516,607.5 519,608.0 522,608.9 525,610.2 528,611.5 531,612.8 534,614.0 537,614.9 540,615.7 543,616.3 546,616.4 549,615.9 552,615.2 555,615.0 558,615.7 561,616.8 564,617.8 567,618.9 570,620.1 573,621.7 576,623.3 579,624.9 582,626.4 585,627.7 588,628.6 591,625.0 594,621.6 597,618.4 600,615.4" fill="none" stroke="#aaaaaa" stroke-width="1.25" stroke-opacity="1.0" stroke-linejoin="round"/>
<polyline points="432,604.9 435,610.5 438,615.7 441,618.8 444,619.0 447,620.3 450,621.1 453,620.7 456,619.7 459,618.5 462,617.2 465,615.4 468,613.5 471,611.4 474,609.4 477,607.8 480,606.5 483,605.3 486,604.1 489,603.0 492,602.5 495,602.3 498,602.7 501,603.1 504,603.5 507,603.9 510,604.2 513,604.6 516,605.0 519,605.6 522,606.6 525,608.0 528,609.6 531,611.1 534,612.5 537,613.7 540,614.7 543,615.6 546,616.0 549,615.7 552,615.2 555,615.0 558,615.7 561,616.8 564,617.8 567,618.9 570,620.1 573,621.7 576,623.3 579,625.0 582,626.5 585,627.8 588,628.6 591,625.0 594,621.6 597,618.4 600,615.4" fill="none" stroke="#aaaaaa" stroke-width="1.25" stroke-opacity="1.0" stroke-linejoin="round"/>
<polyline points="432,604.9 435,610.5 438,615.7 441,618.3 444,617.1 447,617.8 450,618.6 453,618.2 456,617.0 459,615.6 462,614.1 465,612.2 468,610.2 471,608.2 474,606.4 477,605.1 480,604.2 483,603.5 486,602.7 489,602.1 492,602.1 495,602.3 498,602.7 501,603.1 504,603.5 507,603.9 510,604.2 513,604.6 516,605.0 519,606.1 522,607.7 525,609.6 528,611.5 531,613.5 534,615.2 537,616.8 540,618.1 543,619.1 546,619.6 549,619.5 552,619.1 555,618.8 558,619.5 561,620.4 564,621.4 567,622.4 570,623.4 573,624.7 576,626.1 579,627.4 582,628.2 585,628.6 588,628.6 591,625.0 594,621.6 597,618.4 600,615.4" fill="none" stroke="#aaaaaa" stroke-width="1.25" stroke-opacity="1.0" stroke-linejoin="round"/>
<polyline points="432,604.9 435,610.5 438,615.7 441,618.8 444,618.8 447,619.9 450,620.6 453,620.2 456,619.0 459,617.6 462,616.0 465,614.1 468,612.0 471,609.7 474,607.5 477,605.9 480,604.6 483,603.5 486,602.7 489,602.1 492,602.1 495,602.3 498,602.7 501,603.1 504,603.5 507,603.9 510,604.2 513,604.6 516,605.0 519,605.6 522,606.6 525,608.0 528,609.6 531,611.1 534,612.5 537,613.7 540,614.7 543,615.6 546,616.0 549,615.7 552,615.2 555,615.0 558,615.7 561,616.8 564,617.8 567,618.9 570,620.1 573,621.7 576,623.3 579,624.9 582,626.4 585,627.7 588,628.6 591,625.0 594,621.6 597,618.4 600,615.4" fill="none" stroke="#aaaaaa" stroke-width="1.25" stroke-opacity="1.0" stroke-linejoin="round"/>
<polyline points="93,657.4 96,658.2 99,659.2 102,660.4 105,661.6 108,662.9 111,664.3 114,665.5 117,666.4 120,667.1 123,667.7 126,667.9 129,667.7 132,667.2 135,666.5 138,665.4 141,664.1 144,662.7 147,661.2 150,659.7 153,658.4 156,657.5 159,656.9 162,656.5 165,656.5 168,657.2 171,658.2 174,659.3 177,660.7 180,662.4 183,664.0" fill="none" stroke="#aaaaaa" stroke-width="1.2" stroke-opacity="1.0" stroke-linejoin="round"/>
<polyline points="93,660.5 96,661.5 99,662.9 102,664.4 105,665.8 108,667.0 111,668.2 114,669.1 117,669.5 120,669.6 123,669.5 126,669.1 129,668.3 132,667.4 135,666.5 138,665.3 141,664.1 144,663.0 147,661.7 150,660.5 153,659.3 156,658.4 159,657.7 162,657.2 165,656.9 168,657.5 171,658.4 174,659.5 177,660.8 180,662.3 183,663.7" fill="none" stroke="#aaaaaa" stroke-width="1.2" stroke-opacity="1.0" stroke-linejoin="round"/>
<polyline points="93,656.7 96,657.2 99,658.0 102,658.7 105,659.4 108,660.0 111,660.7 114,661.2 117,661.4 120,661.5 123,661.8 126,661.9 129,661.7 132,661.4 135,661.0 138,660.3 141,659.5 144,658.6 147,657.7 150,656.7 153,656.0 156,655.6 159,655.5 162,655.5 165,655.7 168,656.6 171,657.6 174,658.8 177,660.2 180,661.7 183,663.1" fill="none" stroke="#aaaaaa" stroke-width="1.2" stroke-opacity="1.0" stroke-linejoin="round"/>
<polyline points="93,658.2 96,658.6 99,659.1 102,659.5 105,659.7 108,659.7 111,659.5 114,659.0 117,657.9 120,656.5 123,655.3 126,653.8 129,652.2 132,650.6 135,649.1 138,648.0 141,647.2 144,646.8 147,646.7 150,646.9 153,648.0 156,649.4 159,650.8 162,652.3 165,653.7 168,655.1 171,656.5 174,658.0 177,659.4 180,660.9 183,662.4" fill="none" stroke="#aaaaaa" stroke-width="1.2" stroke-opacity="1.0" stroke-linejoin="round"/>
<polyline points="93,647.9 96,647.0 99,646.0 102,645.0 105,644.1 108,643.4 111,642.9 114,642.5 117,642.2 120,642.1 123,642.8 126,643.8 129,644.7 132,645.6 135,646.6 138,647.8 141,648.8 144,649.7 147,650.5 150,651.1 153,651.9 156,652.8 159,653.6 162,654.3 165,655.0 168,656.1 171,657.3 174,658.6 177,660.0 180,661.4 183,662.9" fill="none" stroke="#aaaaaa" stroke-width="1.2" stroke-opacity="1.0" stroke-linejoin="round"/>
<polyline points="93,651.4 96,651.5 99,651.4 102,651.3 105,651.1 108,650.8 111,650.6 114,650.3 117,649.9 120,649.6 123,650.0 126,650.5 129,651.0 132,651.5 135,652.1 138,652.7 141,653.2 144,653.6 147,653.8 150,653.8 153,654.1 156,654.4 159,654.7 162,655.0 165,655.5 168,656.4 171,657.5 174,658.7 177,660.0 180,661.5 183,662.8" fill="none" stroke="#aaaaaa" stroke-width="1.2" stroke-opacity="1.0" stroke-linejoin="round"/>
<polyline points="93,647.5 96,646.7 99,645.8 102,644.9 105,644.0 108,643.3 111,642.6 114,642.0 117,641.3 120,640.7 123,640.9 126,641.2 129,641.4 132,642.1 135,643.4 138,645.0 141,646.6 144,647.9 147,649.1 150,650.1 153,651.2 156,652.3 159,653.2 162,654.0 165,654.8 168,655.9 171,657.1 174,658.3 177,659.5 180,660.8 183,662.0" fill="none" stroke="#aaaaaa" stroke-width="1.2" stroke-opacity="1.0" stroke-linejoin="round"/>
<polygon points="270.0,664.8 273.0,663.3 276.0,660.9 279.0,657.5 282.0,655.7 285.0,655.0 288.0,654.4 291.0,653.9 294.0,653.3 297.0,652.6 300.0,651.6 303.0,650.5 306.0,649.0 309.0,645.0 312.0,639.8 315.0,635.4 318.0,632.5 321.0,629.7 324.0,627.0 327.0,624.5 330.0,623.2 333.0,622.0 336.0,620.9 339.0,619.9 342.0,619.5 345.0,619.2 348.0,618.9 351.0,618.6 354.0,618.2 357.0,617.9 360.0,617.5 363.0,617.1 366.0,616.6 369.0,616.2 372.0,615.7 375.0,615.3 378.0,614.9 381.0,614.7 384.0,614.5 387.0,614.2 390.0,614.0 393.0,613.7 396.0,613.4 399.0,613.2 402.0,613.5 405.0,616.2 408.0,619.1 411.0,622.1 414.0,625.0 417.0,627.8 420.0,630.5 423.0,633.2 426.0,636.0 429.0,639.0 432.0,642.0 435.0,645.2 438.0,648.7 441.0,652.4 441.0,653.3 438.0,652.1 435.0,651.4 432.0,652.2 429.0,653.5 426.0,655.0 423.0,656.6 420.0,658.3 417.0,660.1 414.0,662.0 411.0,664.2 408.0,666.8 405.0,669.3 402.0,671.2 399.0,671.4 396.0,670.8 393.0,670.3 390.0,670.1 387.0,670.0 384.0,670.0 381.0,669.9 378.0,669.7 375.0,669.3 372.0,668.9 369.0,668.5 366.0,668.1 363.0,667.7 360.0,667.3 357.0,666.9 354.0,666.5 351.0,666.1 348.0,665.7 345.0,665.3 342.0,664.9 339.0,664.5 336.0,664.1 333.0,663.4 330.0,662.7 327.0,661.9 324.0,661.1 321.0,660.4 318.0,659.9 315.0,659.7 312.0,659.5 309.0,659.3 306.0,659.1 303.0,659.2 300.0,659.3 297.0,659.5 294.0,659.7 291.0,660.2 288.0,661.1 285.0,662.5 282.0,663.9 279.0,664.7 276.0,665.0 273.0,665.0 270.0,665.0" fill="#c6c4a0" fill-opacity="0.0"/>
<polyline points="270,665.0 273,664.9 276,664.6 279,664.0 282,662.9 285,661.5 288,660.1 291,659.2 294,658.7 297,658.4 300,658.1 303,657.7 306,657.5 309,657.1 312,656.7 315,656.5 318,656.7 321,657.2 324,658.0 327,659.0 330,660.2 333,661.4 336,662.5 339,663.4 342,664.3 345,665.1 348,665.7 351,666.1 354,666.5 357,666.9 360,667.3 363,667.7 366,668.1 369,668.5 372,668.9 375,669.3 378,669.7 381,669.9 384,670.0 387,670.0 390,670.1 393,670.3 396,670.8 399,671.4 402,671.2 405,669.3 408,666.5 411,663.3 414,660.5 417,658.3 420,656.3 423,654.6 426,653.1 429,651.9 432,650.9 435,650.6 438,651.7 441,653.2" fill="none" stroke="#aaaaaa" stroke-width="1.5" stroke-opacity="1.0" stroke-linejoin="round"/>
<polyline points="270,665.0 273,664.7 276,664.4 279,663.8 282,662.9 285,661.7 288,660.5 291,659.7 294,659.3 297,659.2 300,659.0 303,658.8 306,658.8 309,658.8 312,658.8 315,658.7 318,658.7 321,658.8 324,659.1 327,659.4 330,659.8 333,660.2 336,660.6 339,660.9 342,661.2 345,661.7 348,662.4 351,663.1 354,663.8 357,664.7 360,665.5 363,666.3 366,667.0 369,667.7 372,668.2 375,668.6 378,668.9 381,668.9 384,668.7 387,668.3 390,667.9 393,667.6 396,667.5 399,667.5 402,666.9 405,665.0 408,662.5 411,660.3 414,658.3 417,656.8 420,655.5 423,654.2 426,653.1 429,652.1 432,651.2 435,650.9 438,651.9 441,653.2" fill="none" stroke="#aaaaaa" stroke-width="1.5" stroke-opacity="1.0" stroke-linejoin="round"/>
<polyline points="270,665.0 273,664.8 276,664.7 279,664.3 282,663.5 285,662.4 288,661.1 291,660.2 294,659.7 297,659.5 300,659.3 303,659.2 306,659.1 309,659.3 312,659.5 315,659.7 318,659.9 321,660.4 324,661.1 327,661.9 330,662.7 333,663.4 336,664.1 339,664.5 342,664.9 345,665.3 348,665.7 351,666.1 354,666.5 357,666.9 360,667.1 363,666.5 366,665.9 369,665.3 372,664.8 375,664.3 378,663.9 381,663.5 384,663.1 387,662.7 390,662.4 393,662.5 396,662.8 399,663.2 402,663.1 405,662.0 408,660.3 411,658.6 414,657.1 417,656.0 420,654.9 423,653.8 426,652.9 429,652.0 432,651.2 435,650.8 438,651.9 441,653.2" fill="none" stroke="#aaaaaa" stroke-width="1.5" stroke-opacity="1.0" stroke-linejoin="round"/>
<polyline points="270,665.0 273,664.9 276,664.6 279,664.1 282,663.1 285,661.8 288,660.5 291,659.6 294,659.2 297,659.0 300,658.8 303,658.6 306,658.5 309,658.4 312,658.3 315,658.3 318,658.3 321,658.5 324,658.8 327,659.2 330,659.6 333,660.0 336,660.4 339,660.6 342,660.9 345,661.3 348,661.8 351,662.4 354,663.1 357,663.9 360,664.7 363,665.4 366,666.2 369,666.8 372,667.4 375,667.8 378,668.0 381,667.9 384,667.5 387,666.9 390,666.2 393,665.7 396,665.4 399,665.2 402,664.5 405,662.8 408,660.7 411,658.9 414,657.4 417,656.4 420,655.5 423,654.6 426,653.7 429,652.8 432,651.9 435,651.4 438,652.1 441,653.3" fill="none" stroke="#aaaaaa" stroke-width="1.5" stroke-opacity="1.0" stroke-linejoin="round"/>
<polyline points="270,665.0 273,665.0 276,664.9 279,664.7 282,663.9 285,662.5 288,661.1 291,660.2 294,659.7 297,659.5 300,659.3 303,659.2 306,659.1 309,659.3 312,659.5 315,659.7 318,659.9 321,660.4 324,661.1 327,661.9 330,662.7 333,663.4 336,664.1 339,664.5 342,664.9 345,665.3 348,665.7 351,666.1 354,666.5 357,666.9 360,667.3 363,667.6 366,667.1 369,666.5 372,665.7 375,664.8 378,663.7 381,662.6 384,661.3 387,660.1 390,659.1 393,658.5 396,658.3 399,658.5 402,658.6 405,658.1 408,657.3 411,656.5 414,656.0 417,655.6 420,655.1 423,654.5 426,653.8 429,653.0 432,652.0 435,651.4 438,652.1 441,653.3" fill="none" stroke="#aaaaaa" stroke-width="1.5" stroke-opacity="1.0" stroke-linejoin="round"/>
<polyline points="270,665.0 273,664.5 276,663.9 279,662.9 282,661.8 285,660.7 288,659.6 291,658.8 294,658.4 297,658.2 300,658.0 303,657.8 306,657.6 309,657.3 312,656.9 315,656.7 318,656.7 321,656.9 324,657.4 327,657.9 330,658.5 333,659.0 336,659.4 339,659.5 342,659.6 345,659.7 348,659.8 351,659.8 354,659.9 357,660.0 360,660.1 363,660.3 366,660.6 369,660.9 372,661.4 375,662.0 378,662.7 381,663.4 384,664.1 387,664.8 390,665.6 393,666.5 396,667.8 399,669.0 402,669.5 405,668.3 408,666.1 411,663.8 414,661.6 417,659.6 420,657.8 423,655.9 426,654.2 429,652.8 432,651.5 435,650.9 438,651.8 441,653.2" fill="none" stroke="#aaaaaa" stroke-width="1.5" stroke-opacity="1.0" stroke-linejoin="round"/>
<polyline points="270,665.0 273,664.6 276,664.1 279,663.1 282,662.0 285,660.8 288,659.6 291,658.7 294,658.2 297,658.0 300,657.6 303,657.3 306,657.0 309,656.4 312,655.7 315,655.3 318,655.3 321,655.5 324,656.0 327,656.7 330,657.6 333,658.5 336,659.3 339,660.1 342,660.9 345,661.7 348,662.6 351,663.6 354,664.6 357,665.5 360,666.5 363,667.4 366,668.1 369,668.5 372,668.9 375,669.3 378,669.7 381,669.9 384,669.8 387,669.3 390,668.6 393,668.2 396,667.9 399,667.7 402,666.9 405,664.8 408,662.3 411,659.9 414,658.0 417,656.4 420,655.1 423,653.8 426,652.7 429,651.7 432,650.9 435,650.6 438,651.7 441,653.2" fill="none" stroke="#aaaaaa" stroke-width="1.5" stroke-opacity="1.0" stroke-linejoin="round"/>
<polyline points="270,665.0 273,664.6 276,664.2 279,663.6 282,662.9 285,661.9 288,660.8 291,660.0 294,659.7 297,659.5 300,659.3 303,659.2 306,659.1 309,659.3 312,659.5 315,659.7 318,659.8 321,659.8 324,660.0 327,660.3 330,660.6 333,661.0 336,661.4 339,661.7 342,662.1 345,662.5 348,663.0 351,663.6 354,664.0 357,664.5 360,664.8 363,665.0 366,665.1 369,665.0 372,664.8 375,664.4 378,663.9 381,663.2 384,662.3 387,661.3 390,660.3 393,659.5 396,658.9 399,658.4 402,657.5 405,656.1 408,654.5 411,653.0 414,652.0 417,651.2 420,650.7 423,650.2 426,649.8 429,649.6 432,649.4 435,649.8 438,651.2 441,653.0" fill="none" stroke="#aaaaaa" stroke-width="1.5" stroke-opacity="1.0" stroke-linejoin="round"/>
<polyline points="270,665.0 273,664.6 276,664.1 279,663.3 282,662.5 285,661.4 288,660.3 291,659.5 294,659.1 297,659.0 300,658.8 303,658.7 306,658.7 309,658.7 312,658.7 315,658.8 318,658.8 321,659.0 324,659.2 327,659.5 330,659.6 333,659.7 336,659.5 339,659.1 342,658.7 345,658.4 348,658.0 351,657.8 354,657.6 357,657.5 360,657.5 363,657.6 366,657.9 369,658.2 372,658.6 375,659.0 378,659.5 381,659.9 384,660.1 387,660.3 390,660.5 393,660.7 396,661.1 399,661.5 402,661.5 405,660.3 408,658.7 411,657.1 414,655.8 417,654.8 420,653.9 423,653.0 426,652.2 429,651.5 432,650.8 435,650.6 438,651.7 441,653.2" fill="none" stroke="#aaaaaa" stroke-width="1.5" stroke-opacity="1.0" stroke-linejoin="round"/>
<polyline points="270,665.0 273,664.6 276,664.0 279,663.0 282,661.9 285,660.7 288,659.5 291,658.6 294,658.1 297,657.8 300,657.4 303,657.0 306,656.6 309,655.7 312,654.5 315,653.7 318,653.3 321,653.1 324,653.2 327,653.4 330,653.9 333,654.4 336,654.8 339,655.0 342,655.3 345,655.6 348,655.9 351,656.2 354,656.4 357,656.7 360,656.9 363,657.1 366,657.4 369,657.7 372,658.0 375,658.3 378,658.6 381,658.9 384,659.1 387,659.2 390,659.4 393,659.8 396,660.3 399,661.0 402,661.1 405,660.3 408,658.9 411,657.5 414,656.3 417,655.3 420,654.4 423,653.5 426,652.6 429,651.8 432,651.1 435,650.8 438,651.8 441,653.2" fill="none" stroke="#aaaaaa" stroke-width="1.5" stroke-opacity="1.0" stroke-linejoin="round"/>
<polyline points="270,665.0 273,664.5 276,663.9 279,662.8 282,661.7 285,660.5 288,659.3 291,658.4 294,657.9 297,657.6 300,657.1 303,656.7 306,656.1 309,655.0 312,653.4 315,652.1 318,651.2 321,650.5 324,649.9 327,649.5 330,649.5 333,649.6 336,649.7 339,649.8 342,650.1 345,650.4 348,650.8 351,651.2 354,651.6 357,652.0 360,652.4 363,652.7 366,653.1 369,653.5 372,653.9 375,654.3 378,654.8 381,655.3 384,655.8 387,656.3 390,656.9 393,657.8 396,658.9 399,660.1 402,660.9 405,660.6 408,659.6 411,658.5 414,657.4 417,656.4 420,655.4 423,654.3 426,653.3 429,652.3 432,651.3 435,650.9 438,651.9 441,653.2" fill="none" stroke="#aaaaaa" stroke-width="1.5" stroke-opacity="1.0" stroke-linejoin="round"/>
<polyline points="270,665.0 273,664.6 276,664.1 279,663.0 282,661.8 285,660.5 288,659.3 291,658.3 294,657.8 297,657.3 300,656.8 303,656.2 306,655.6 309,654.1 312,652.2 315,650.6 318,649.6 321,648.8 324,648.2 327,647.8 330,647.8 333,647.9 336,647.9 339,647.8 342,648.0 345,648.1 348,648.1 351,648.2 354,648.2 357,648.1 360,648.0 363,647.9 366,647.7 369,647.5 372,647.3 375,647.2 378,647.1 381,647.0 384,646.8 387,646.7 390,646.8 393,646.9 396,647.4 399,647.9 402,648.3 405,648.6 408,648.6 411,648.5 414,648.5 417,648.6 420,648.6 423,648.6 426,648.6 429,648.7 432,648.9 435,649.4 438,651.1 441,653.0" fill="none" stroke="#aaaaaa" stroke-width="1.5" stroke-opacity="1.0" stroke-linejoin="round"/>
<polyline points="270,665.0 273,664.7 276,664.4 279,663.8 282,663.0 285,661.8 288,660.5 291,659.6 294,659.2 297,659.0 300,658.7 303,658.4 306,658.1 309,657.6 312,656.9 315,656.2 318,655.5 321,655.0 324,654.5 327,654.1 330,653.8 333,653.6 336,653.3 339,652.9 342,652.7 345,652.6 348,652.5 351,652.4 354,652.4 357,652.4 360,652.4 363,652.5 366,652.5 369,652.6 372,652.8 375,653.0 378,653.2 381,653.4 384,653.5 387,653.7 390,653.9 393,654.2 396,654.8 399,655.4 402,655.6 405,655.3 408,654.4 411,653.5 414,652.8 417,652.2 420,651.7 423,651.2 426,650.7 429,650.3 432,649.9 435,650.1 438,651.4 441,653.1" fill="none" stroke="#aaaaaa" stroke-width="1.5" stroke-opacity="1.0" stroke-linejoin="round"/>
<polyline points="270,664.9 273,664.5 276,663.7 279,662.5 282,661.3 285,660.2 288,659.1 291,658.2 294,657.7 297,657.4 300,657.0 303,656.6 306,656.2 309,655.2 312,653.9 315,653.1 318,652.7 321,652.6 324,652.8 327,653.2 330,653.9 333,654.7 336,655.3 339,655.9 342,656.6 345,657.2 348,657.8 351,658.3 354,658.8 357,659.2 360,659.6 363,659.8 366,660.0 369,660.0 372,660.0 375,659.8 378,659.4 381,659.0 384,658.3 387,657.5 390,656.9 393,656.4 396,656.2 399,656.1 402,655.8 405,655.1 408,654.0 411,653.0 414,652.2 417,651.6 420,651.0 423,650.5 426,650.0 429,649.6 432,649.3 435,649.6 438,651.1 441,653.0" fill="none" stroke="#aaaaaa" stroke-width="1.5" stroke-opacity="1.0" stroke-linejoin="round"/>
<polyline points="270,664.9 273,664.5 276,664.0 279,663.2 282,662.3 285,661.2 288,660.1 291,659.2 294,658.8 297,658.5 300,658.1 303,657.7 306,657.3 309,656.4 312,655.1 315,653.8 318,652.6 321,651.5 324,650.5 327,649.5 330,649.0 333,648.5 336,648.0 339,647.6 342,647.5 345,647.6 348,647.8 351,648.2 354,648.6 357,649.1 360,649.7 363,650.2 366,650.7 369,651.2 372,651.6 375,651.9 378,652.0 381,652.0 384,651.7 387,651.3 390,650.8 393,650.4 396,650.1 399,649.8 402,649.3 405,648.7 408,648.0 411,647.4 414,647.1 417,647.0 420,647.1 423,647.2 426,647.4 429,647.8 432,648.2 435,649.0 438,650.9 441,652.9" fill="none" stroke="#aaaaaa" stroke-width="1.5" stroke-opacity="1.0" stroke-linejoin="round"/>
<polyline points="270,664.9 273,664.2 276,663.1 279,661.5 282,660.3 285,659.3 288,658.3 291,657.6 294,657.1 297,656.8 300,656.4 303,656.0 306,655.5 309,654.4 312,653.1 315,652.2 318,651.9 321,651.9 324,652.3 327,652.8 330,653.7 333,654.6 336,655.4 339,656.0 342,656.5 345,657.0 348,657.3 351,657.5 354,657.6 357,657.6 360,657.5 363,657.3 366,657.1 369,656.9 372,656.8 375,656.7 378,656.6 381,656.7 384,656.7 387,656.8 390,657.2 393,657.8 396,658.7 399,659.8 402,660.6 405,660.3 408,659.5 411,658.4 414,657.4 417,656.6 420,655.6 423,654.6 426,653.5 429,652.4 432,651.4 435,650.9 438,651.8 441,653.2" fill="none" stroke="#aaaaaa" stroke-width="1.5" stroke-opacity="1.0" stroke-linejoin="round"/>
<polyline points="270,664.9 273,664.5 276,663.8 279,662.6 282,661.4 285,660.2 288,659.0 291,658.1 294,657.6 297,657.3 300,656.8 303,656.4 306,655.9 309,654.9 312,653.6 315,652.7 318,652.4 321,652.3 324,652.6 327,653.2 330,654.1 333,655.1 336,656.0 339,656.9 342,657.8 345,658.7 348,659.5 351,660.3 354,661.0 357,661.7 360,662.3 363,662.7 366,663.1 369,663.3 372,663.4 375,663.4 378,663.3 381,662.9 384,662.3 387,661.5 390,660.7 393,660.0 396,659.3 399,658.6 402,657.5 405,655.7 408,653.6 411,651.8 414,650.4 417,649.3 420,648.6 423,648.0 426,647.8 429,647.8 432,648.0 435,648.8 438,650.7 441,652.9" fill="none" stroke="#aaaaaa" stroke-width="1.5" stroke-opacity="1.0" stroke-linejoin="round"/>
<polyline points="270,664.9 273,664.4 276,663.7 279,662.4 282,661.2 285,660.1 288,658.9 291,658.1 294,657.5 297,657.1 300,656.5 303,655.9 306,655.1 309,653.4 312,651.0 315,648.7 318,647.1 321,645.6 324,644.3 327,643.1 330,642.5 333,642.1 336,641.8 339,641.5 342,641.7 345,641.9 348,642.2 351,642.6 354,642.9 357,643.4 360,643.8 363,644.2 366,644.6 369,645.0 372,645.4 375,645.8 378,646.1 381,646.5 384,646.7 387,646.9 390,647.1 393,647.3 396,647.7 399,648.0 402,648.1 405,647.9 408,647.4 411,646.8 414,646.3 417,645.9 420,645.6 423,645.5 426,645.6 429,646.0 432,646.7 435,647.9 438,650.2 441,652.7" fill="none" stroke="#aaaaaa" stroke-width="1.5" stroke-opacity="1.0" stroke-linejoin="round"/>
<polyline points="270,664.9 273,664.3 276,663.3 279,661.9 282,660.9 285,659.9 288,658.9 291,658.1 294,657.7 297,657.4 300,657.0 303,656.6 306,656.2 309,655.2 312,653.9 315,652.7 318,652.0 321,651.4 324,650.8 327,650.3 330,650.1 333,649.7 336,649.2 339,648.5 342,647.9 345,647.4 348,646.8 351,646.2 354,645.7 357,645.2 360,644.8 363,644.5 366,644.3 369,644.2 372,644.4 375,644.6 378,645.1 381,645.6 384,646.2 387,646.9 390,647.6 393,648.5 396,649.6 399,650.8 402,651.7 405,652.2 408,652.1 411,651.9 414,651.7 417,651.6 420,651.4 423,651.1 426,650.8 429,650.5 432,650.2 435,650.3 438,651.6 441,653.1" fill="none" stroke="#aaaaaa" stroke-width="1.5" stroke-opacity="1.0" stroke-linejoin="round"/>
<polyline points="270,664.9 273,664.3 276,663.4 279,661.9 282,660.6 285,659.5 288,658.5 291,657.7 294,657.2 297,656.9 300,656.5 303,656.1 306,655.7 309,654.5 312,653.1 315,652.0 318,651.4 321,650.9 324,650.5 327,650.0 330,649.7 333,649.2 336,648.4 339,647.3 342,646.4 345,645.3 348,644.2 351,643.1 354,642.1 357,641.1 360,640.3 363,639.7 366,639.2 369,639.0 372,639.0 375,639.2 378,639.6 381,640.2 384,640.9 387,641.6 390,642.4 393,643.3 396,644.3 399,645.3 402,646.1 405,646.8 408,647.1 411,647.2 414,647.3 417,647.5 420,647.7 423,647.9 426,648.1 429,648.5 432,648.8 435,649.4 438,651.1 441,653.0" fill="none" stroke="#aaaaaa" stroke-width="1.5" stroke-opacity="1.0" stroke-linejoin="round"/>
<polyline points="270,665.0 273,664.5 276,663.8 279,662.7 282,661.5 285,660.2 288,659.0 291,658.1 294,657.5 297,657.0 300,656.4 303,655.7 306,654.8 309,652.8 312,650.1 315,647.5 318,645.5 321,643.6 324,641.8 327,640.2 330,639.2 333,638.4 336,637.7 339,637.2 342,637.2 345,637.3 348,637.5 351,637.8 354,638.2 357,638.6 360,639.0 363,639.4 366,639.8 369,640.2 372,640.6 375,641.0 378,641.5 381,642.0 384,642.5 387,643.1 390,643.7 393,644.5 396,645.6 399,646.7 402,647.8 405,648.7 408,649.1 411,649.3 414,649.5 417,649.6 420,649.7 423,649.6 426,649.5 429,649.5 432,649.4 435,649.8 438,651.3 441,653.1" fill="none" stroke="#aaaaaa" stroke-width="1.5" stroke-opacity="1.0" stroke-linejoin="round"/>
<polyline points="270,664.9 273,664.3 276,663.2 279,661.6 282,660.3 285,659.2 288,658.1 291,657.2 294,656.6 297,656.0 300,655.3 303,654.4 306,653.3 309,650.8 312,647.4 315,644.4 318,642.3 321,640.3 324,638.6 327,637.1 330,636.5 333,636.1 336,635.8 339,635.7 342,635.9 345,636.2 348,636.6 351,636.9 354,637.2 357,637.5 360,637.7 363,638.0 366,638.3 369,638.6 372,639.0 375,639.5 378,640.2 381,640.9 384,641.7 387,642.6 390,643.6 393,644.6 396,645.9 399,647.2 402,648.2 405,649.0 408,649.2 411,649.1 414,649.0 417,648.9 420,648.7 423,648.5 426,648.4 429,648.4 432,648.5 435,649.1 438,650.9 441,652.9" fill="none" stroke="#aaaaaa" stroke-width="1.5" stroke-opacity="1.0" stroke-linejoin="round"/>
<polyline points="270,665.0 273,664.5 276,663.8 279,662.5 282,661.2 285,660.0 288,658.8 291,657.9 294,657.3 297,656.9 300,656.4 303,655.8 306,655.2 309,653.7 312,651.8 315,650.3 318,649.3 321,648.6 324,648.0 327,647.5 330,647.4 333,647.2 336,646.9 339,646.6 342,646.4 345,646.2 348,645.9 351,645.7 354,645.6 357,645.4 360,645.3 363,645.2 366,645.1 369,645.1 372,645.0 375,644.9 378,644.7 381,644.5 384,644.1 387,643.6 390,643.0 393,642.4 396,641.9 399,641.4 402,640.8 405,640.7 408,640.7 411,640.8 414,641.2 417,641.8 420,642.6 423,643.4 426,644.4 429,645.5 432,646.7 435,648.1 438,650.4 441,652.8" fill="none" stroke="#aaaaaa" stroke-width="1.5" stroke-opacity="1.0" stroke-linejoin="round"/>
<polyline points="270,664.9 273,664.0 276,662.6 279,660.5 282,659.2 285,658.3 288,657.4 291,656.7 294,656.2 297,655.8 300,655.3 303,654.7 306,654.0 309,652.2 312,649.9 315,648.1 318,647.0 321,646.2 324,645.4 327,644.8 330,644.6 333,644.4 336,644.0 339,643.5 342,643.2 345,642.9 348,642.5 351,642.2 354,641.8 357,641.5 360,641.1 363,640.8 366,640.5 369,640.1 372,639.8 375,639.4 378,638.9 381,638.4 384,637.8 387,637.1 390,636.3 393,635.5 396,634.7 399,634.0 402,633.3 405,633.8 408,634.3 411,635.1 414,636.1 417,637.3 420,638.6 423,640.0 426,641.6 429,643.3 432,645.1 435,647.1 438,649.9 441,652.7" fill="none" stroke="#aaaaaa" stroke-width="1.5" stroke-opacity="1.0" stroke-linejoin="round"/>
<polyline points="270,664.9 273,664.0 276,662.6 279,660.5 282,659.0 285,658.0 288,657.0 291,656.2 294,655.7 297,655.2 300,654.5 303,653.9 306,653.1 309,651.1 312,648.6 315,646.9 318,646.3 321,646.1 324,646.3 327,646.9 330,647.9 333,649.0 336,650.0 339,650.7 342,651.4 345,651.9 348,652.0 351,651.9 354,651.4 357,650.7 360,649.7 363,648.5 366,647.1 369,645.6 372,644.1 375,642.7 378,641.4 381,640.4 384,639.6 387,639.2 390,639.2 393,639.6 396,640.4 399,641.7 402,643.1 405,644.8 408,646.0 411,646.9 414,647.6 417,648.2 420,648.5 423,648.6 426,648.6 429,648.6 432,648.7 435,649.2 438,650.9 441,652.9" fill="none" stroke="#aaaaaa" stroke-width="1.5" stroke-opacity="1.0" stroke-linejoin="round"/>
<polyline points="270,664.9 273,664.0 276,662.7 279,660.6 282,659.1 285,658.1 288,657.1 291,656.3 294,655.7 297,655.2 300,654.4 303,653.6 306,652.6 309,650.0 312,646.5 315,643.7 318,641.8 321,640.2 324,638.7 327,637.5 330,637.0 333,636.7 336,636.4 339,636.1 342,636.2 345,636.4 348,636.5 351,636.6 354,636.7 357,636.7 360,636.7 363,636.7 366,636.6 369,636.5 372,636.4 375,636.2 378,636.1 381,636.0 384,635.7 387,635.5 390,635.3 393,635.1 396,635.0 399,635.0 402,635.0 405,635.9 408,636.8 411,637.7 414,638.8 417,639.9 420,641.0 423,642.1 426,643.3 429,644.7 432,646.0 435,647.7 438,650.1 441,652.7" fill="none" stroke="#aaaaaa" stroke-width="1.5" stroke-opacity="1.0" stroke-linejoin="round"/>
<polyline points="270,664.9 273,664.1 276,663.0 279,661.2 282,660.0 285,659.0 288,658.1 291,657.3 294,656.9 297,656.6 300,656.1 303,655.6 306,655.1 309,653.6 312,651.7 315,650.0 318,648.9 321,647.8 324,646.9 327,645.9 330,645.4 333,644.9 336,644.2 339,643.6 342,643.2 345,643.0 348,642.7 351,642.5 354,642.3 357,642.2 360,642.1 363,641.9 366,641.8 369,641.6 372,641.3 375,641.1 378,640.8 381,640.5 384,640.2 387,639.8 390,639.5 393,639.3 396,639.2 399,639.2 402,639.3 405,639.9 408,640.4 411,640.9 414,641.5 417,642.2 420,642.8 423,643.5 426,644.3 429,645.3 432,646.4 435,647.8 438,650.2 441,652.7" fill="none" stroke="#aaaaaa" stroke-width="1.5" stroke-opacity="1.0" stroke-linejoin="round"/>
<polyline points="270,664.9 273,664.1 276,662.8 279,660.8 282,659.4 285,658.3 288,657.3 291,656.4 294,655.8 297,655.2 300,654.4 303,653.4 306,652.3 309,649.5 312,645.7 315,642.6 318,640.5 321,638.7 324,637.1 327,635.9 330,635.6 333,635.6 336,635.8 339,636.3 342,637.2 345,638.2 348,639.4 351,640.5 354,641.6 357,642.7 360,643.7 363,644.5 366,645.2 369,645.7 372,646.0 375,646.1 378,646.0 381,645.6 384,644.9 387,644.1 390,643.0 393,642.0 396,641.0 399,640.0 402,639.0 405,638.8 408,638.6 411,638.8 414,639.3 417,640.0 420,640.9 423,641.9 426,643.0 429,644.4 432,645.8 435,647.5 438,650.0 441,652.7" fill="none" stroke="#aaaaaa" stroke-width="1.5" stroke-opacity="1.0" stroke-linejoin="round"/>
<polyline points="270,664.9 273,664.2 276,663.1 279,661.4 282,660.2 285,659.1 288,658.1 291,657.3 294,656.8 297,656.4 300,655.7 303,655.1 306,654.3 309,652.5 312,650.0 315,647.9 318,646.5 321,645.3 324,644.2 327,643.3 330,643.0 333,642.7 336,642.4 339,642.0 342,641.9 345,641.8 348,641.6 351,641.5 354,641.3 357,641.2 360,641.0 363,640.9 366,640.9 369,640.9 372,641.0 375,641.3 378,641.7 381,642.2 384,642.7 387,643.2 390,643.9 393,644.6 396,645.4 399,646.2 402,646.8 405,647.3 408,647.2 411,647.1 414,646.9 417,646.8 420,646.8 423,646.7 426,646.8 429,647.1 432,647.6 435,648.5 438,650.5 441,652.8" fill="none" stroke="#aaaaaa" stroke-width="1.5" stroke-opacity="1.0" stroke-linejoin="round"/>
<polyline points="270,664.9 273,664.0 276,662.5 279,660.3 282,658.8 285,657.7 288,656.7 291,655.9 294,655.3 297,654.6 300,653.7 303,652.8 306,651.6 309,648.5 312,644.6 315,641.3 318,639.3 321,637.6 324,636.1 327,635.0 330,634.8 333,634.9 336,635.0 339,635.2 342,635.8 345,636.5 348,637.1 351,637.6 354,638.2 357,638.6 360,639.1 363,639.4 366,639.7 369,640.0 372,640.2 375,640.4 378,640.6 381,640.7 384,640.7 387,640.6 390,640.5 393,640.3 396,640.2 399,640.0 402,639.7 405,639.9 408,639.9 411,640.0 414,640.2 417,640.7 420,641.2 423,641.9 426,642.8 429,644.0 432,645.4 435,647.2 438,649.8 441,652.7" fill="none" stroke="#aaaaaa" stroke-width="1.5" stroke-opacity="1.0" stroke-linejoin="round"/>
<polyline points="270,664.9 273,663.7 276,662.0 279,659.5 282,658.0 285,657.1 288,656.3 291,655.6 294,655.1 297,654.6 300,653.8 303,652.9 306,651.9 309,649.2 312,645.6 315,642.8 318,641.2 321,639.8 324,638.7 327,637.9 330,638.0 333,638.2 336,638.3 339,638.5 342,638.9 345,639.3 348,639.6 351,639.7 354,639.7 357,639.6 360,639.3 363,639.0 366,638.5 369,638.1 372,637.6 375,637.1 378,636.7 381,636.4 384,636.1 387,635.8 390,635.6 393,635.6 396,635.6 399,635.8 402,636.1 405,637.2 408,638.1 411,639.1 414,640.0 417,641.0 420,642.0 423,643.0 426,644.0 429,645.1 432,646.3 435,647.8 438,650.2 441,652.7" fill="none" stroke="#aaaaaa" stroke-width="1.5" stroke-opacity="1.0" stroke-linejoin="round"/>
<polyline points="270,664.9 273,663.8 276,662.0 279,659.3 282,657.6 285,656.6 288,655.7 291,655.0 294,654.4 297,653.8 300,652.9 303,652.0 306,650.9 309,647.8 312,643.9 315,640.8 318,639.1 321,637.7 324,636.6 327,635.7 330,635.7 333,635.8 336,635.8 339,635.9 342,636.3 345,636.5 348,636.7 351,636.7 354,636.6 357,636.3 360,635.8 363,635.2 366,634.4 369,633.4 372,632.3 375,631.1 378,629.9 381,628.7 384,627.4 387,626.2 390,625.0 393,624.0 396,623.2 399,622.5 402,622.4 405,624.3 408,626.6 411,629.0 414,631.5 417,633.9 420,636.3 423,638.7 426,640.9 429,643.2 432,645.2 435,647.3 438,650.0 441,652.7" fill="none" stroke="#aaaaaa" stroke-width="1.5" stroke-opacity="1.0" stroke-linejoin="round"/>
<polyline points="270,664.9 273,663.7 276,662.0 279,659.4 282,658.0 285,657.2 288,656.5 291,655.9 294,655.4 297,655.0 300,654.3 303,653.5 306,652.5 309,649.7 312,646.1 315,642.7 318,640.2 321,637.7 324,635.2 327,632.7 330,631.0 333,629.4 336,627.9 339,626.7 342,626.1 345,625.8 348,625.8 351,625.9 354,626.2 357,626.6 360,627.2 363,627.7 366,628.4 369,629.0 372,629.5 375,630.0 378,630.3 381,630.6 384,630.6 387,630.5 390,630.3 393,629.9 396,629.6 399,629.2 402,628.9 405,630.0 408,631.1 411,632.3 414,633.7 417,635.0 420,636.5 423,638.0 426,639.7 429,641.7 432,643.8 435,646.2 438,649.3 441,652.5" fill="none" stroke="#aaaaaa" stroke-width="1.5" stroke-opacity="1.0" stroke-linejoin="round"/>
<polyline points="270,664.9 273,663.7 276,662.1 279,659.7 282,658.3 285,657.4 288,656.7 291,656.0 294,655.5 297,655.0 300,654.3 303,653.4 306,652.4 309,649.5 312,645.7 315,642.2 318,639.6 321,637.0 324,634.3 327,631.7 330,629.9 333,628.2 336,626.5 339,625.0 342,624.1 345,623.4 348,622.8 351,622.4 354,622.1 357,621.9 360,621.9 363,621.9 366,622.1 369,622.4 372,622.7 375,623.1 378,623.6 381,624.1 384,624.6 387,625.0 390,625.2 393,625.4 396,625.5 399,625.6 402,625.8 405,627.4 408,629.1 411,630.8 414,632.5 417,634.2 420,636.0 423,637.8 426,639.7 429,641.8 432,644.0 435,646.4 438,649.4 441,652.5" fill="none" stroke="#aaaaaa" stroke-width="1.5" stroke-opacity="1.0" stroke-linejoin="round"/>
<polyline points="270,664.9 273,664.0 276,662.5 279,660.4 282,659.0 285,658.0 288,657.1 291,656.3 294,655.8 297,655.2 300,654.5 303,653.6 306,652.6 309,649.9 312,646.3 315,643.2 318,641.1 321,639.1 324,637.2 327,635.6 330,634.6 333,633.8 336,633.0 339,632.2 342,631.8 345,631.4 348,631.1 351,630.7 354,630.3 357,629.8 360,629.4 363,628.9 366,628.5 369,628.2 372,627.9 375,627.7 378,627.7 381,627.9 384,628.2 387,628.6 390,629.2 393,629.9 396,630.8 399,631.8 402,632.9 405,634.9 408,636.6 411,638.0 414,639.3 417,640.4 420,641.4 423,642.3 426,643.3 429,644.4 432,645.7 435,647.3 438,649.8 441,652.6" fill="none" stroke="#aaaaaa" stroke-width="1.5" stroke-opacity="1.0" stroke-linejoin="round"/>
<polyline points="270,664.9 273,663.7 276,662.0 279,659.5 282,658.0 285,657.1 288,656.3 291,655.5 294,654.9 297,654.4 300,653.5 303,652.5 306,651.4 309,648.3 312,644.3 315,641.0 318,639.0 321,637.2 324,635.6 327,634.4 330,634.1 333,634.0 336,633.9 339,633.9 342,634.2 345,634.5 348,634.7 351,634.7 354,634.6 357,634.4 360,634.0 363,633.4 366,632.8 369,632.1 372,631.3 375,630.6 378,629.9 381,629.3 384,628.8 387,628.3 390,628.0 393,627.8 396,627.8 399,627.9 402,628.3 405,630.0 408,631.8 411,633.5 414,635.3 417,636.9 420,638.5 423,640.2 426,641.8 429,643.6 432,645.3 435,647.3 438,649.9 441,652.7" fill="none" stroke="#aaaaaa" stroke-width="1.5" stroke-opacity="1.0" stroke-linejoin="round"/>
<polyline points="270,664.9 273,664.0 276,662.6 279,660.5 282,659.1 285,658.1 288,657.2 291,656.4 294,655.9 297,655.3 300,654.6 303,653.7 306,652.7 309,650.0 312,646.4 315,643.1 318,640.8 321,638.6 324,636.4 327,634.4 330,633.2 333,632.1 336,631.2 339,630.4 342,630.1 345,630.0 348,630.1 351,630.3 354,630.5 357,630.9 360,631.4 363,631.9 366,632.5 369,633.2 372,633.9 375,634.6 378,635.4 381,636.2 384,636.9 387,637.5 390,638.0 393,638.4 396,638.8 399,639.2 402,639.3 405,639.8 408,640.1 411,640.3 414,640.6 417,641.0 420,641.5 423,642.1 426,642.9 429,644.0 432,645.3 435,647.1 438,649.7 441,652.6" fill="none" stroke="#aaaaaa" stroke-width="1.5" stroke-opacity="1.0" stroke-linejoin="round"/>
<polyline points="270,664.9 273,663.7 276,661.8 279,659.1 282,657.4 285,656.5 288,655.7 291,655.0 294,654.4 297,653.8 300,652.9 303,651.8 306,650.5 309,646.9 312,642.0 315,637.8 318,634.8 321,631.9 324,629.0 327,626.3 330,624.7 333,623.4 336,622.2 339,621.3 342,621.2 345,621.3 348,621.5 351,621.8 354,622.2 357,622.6 360,623.1 363,623.4 366,623.7 369,624.0 372,624.2 375,624.3 378,624.3 381,624.4 384,624.4 387,624.4 390,624.4 393,624.4 396,624.4 399,624.6 402,625.1 405,627.1 408,629.2 411,631.3 414,633.3 417,635.2 420,637.0 423,638.7 426,640.5 429,642.4 432,644.4 435,646.6 438,649.5 441,652.6" fill="none" stroke="#aaaaaa" stroke-width="1.5" stroke-opacity="1.0" stroke-linejoin="round"/>
<polyline points="270,664.9 273,663.6 276,661.6 279,658.7 282,657.1 285,656.3 288,655.6 291,655.0 294,654.5 297,654.0 300,653.2 303,652.3 306,651.2 309,648.2 312,644.3 315,641.1 318,638.9 321,637.0 324,635.0 327,633.3 330,632.3 333,631.4 336,630.5 339,629.7 342,629.2 345,628.9 348,628.5 351,628.1 354,627.7 357,627.4 360,627.1 363,626.8 366,626.5 369,626.3 372,626.2 375,626.1 378,626.2 381,626.4 384,626.6 387,626.7 390,626.9 393,627.0 396,627.2 399,627.2 402,627.5 405,629.0 408,630.5 411,632.0 414,633.5 417,635.1 420,636.6 423,638.3 426,640.1 429,642.1 432,644.1 435,646.5 438,649.4 441,652.6" fill="none" stroke="#aaaaaa" stroke-width="1.5" stroke-opacity="1.0" stroke-linejoin="round"/>
<polyline points="270,664.9 273,663.6 276,661.7 279,658.9 282,657.4 285,656.7 288,656.0 291,655.4 294,654.9 297,654.5 300,653.8 303,653.0 306,652.0 309,649.3 312,645.7 315,642.7 318,640.8 321,638.9 324,637.1 327,635.5 330,634.6 333,633.7 336,632.7 339,631.8 342,631.3 345,630.8 348,630.2 351,629.5 354,628.7 357,627.9 360,626.9 363,625.9 366,624.8 369,623.6 372,622.4 375,621.2 378,620.0 381,619.0 384,618.0 387,617.0 390,616.1 393,615.3 396,614.5 399,613.8 402,613.8 405,616.3 408,619.3 411,622.4 414,625.5 417,628.5 420,631.4 423,634.4 426,637.3 429,640.3 432,643.1 435,646.0 438,649.2 441,652.5" fill="none" stroke="#aaaaaa" stroke-width="1.5" stroke-opacity="1.0" stroke-linejoin="round"/>
<polyline points="270,664.9 273,663.7 276,662.0 279,659.4 282,657.8 285,656.9 288,656.1 291,655.3 294,654.8 297,654.2 300,653.4 303,652.5 306,651.3 309,648.3 312,644.5 315,641.4 318,639.6 321,638.0 324,636.5 327,635.4 330,635.1 333,634.8 336,634.5 339,634.3 342,634.4 345,634.4 348,634.4 351,634.4 354,634.3 357,634.1 360,633.9 363,633.5 366,633.2 369,632.7 372,632.1 375,631.5 378,630.7 381,630.0 384,629.1 387,628.1 390,627.0 393,625.9 396,624.8 399,623.8 402,623.2 405,624.3 408,625.9 411,627.6 414,629.6 417,631.5 420,633.6 423,635.8 426,638.1 429,640.6 432,643.1 435,645.8 438,649.1 441,652.5" fill="none" stroke="#aaaaaa" stroke-width="1.5" stroke-opacity="1.0" stroke-linejoin="round"/>
<polyline points="270,664.9 273,663.6 276,661.5 279,658.5 282,656.8 285,655.9 288,655.1 291,654.3 294,653.6 297,652.9 300,651.7 303,650.5 306,649.0 309,645.0 312,639.8 315,635.4 318,632.5 321,629.7 324,627.0 327,624.5 330,623.2 333,622.0 336,620.9 339,619.9 342,619.5 345,619.2 348,619.6 351,620.2 354,620.7 357,621.2 360,621.7 363,622.1 366,622.5 369,622.7 372,622.9 375,623.0 378,623.0 381,622.9 384,622.7 387,622.2 390,621.6 393,620.8 396,619.9 399,618.8 402,618.2 405,619.6 408,621.4 411,623.4 414,625.5 417,627.8 420,630.5 423,633.2 426,636.0 429,639.0 432,642.0 435,645.2 438,648.7 441,652.4" fill="none" stroke="#aaaaaa" stroke-width="1.5" stroke-opacity="1.0" stroke-linejoin="round"/>
<polyline points="270,664.8 273,663.4 276,661.1 279,657.7 282,655.8 285,655.0 288,654.4 291,653.9 294,653.3 297,652.6 300,651.6 303,650.5 306,649.0 309,645.2 312,640.3 315,636.4 318,634.0 321,631.7 324,629.5 327,627.4 330,626.2 333,625.0 336,623.7 339,622.5 342,621.7 345,621.0 348,620.2 351,619.5 354,618.9 357,618.4 360,618.0 363,617.7 366,617.5 369,617.5 372,617.6 375,617.9 378,618.3 381,619.0 384,619.7 387,620.5 390,621.3 393,622.1 396,622.9 399,623.7 402,624.8 405,627.3 408,629.6 411,631.7 414,633.6 417,635.4 420,637.0 423,638.6 426,640.3 429,642.2 432,644.1 435,646.4 438,649.4 441,652.5" fill="none" stroke="#aaaaaa" stroke-width="1.5" stroke-opacity="1.0" stroke-linejoin="round"/>
<polyline points="270,664.8 273,663.4 276,661.0 279,657.6 282,655.7 285,655.0 288,654.4 291,653.9 294,653.3 297,652.6 300,651.6 303,650.5 306,649.0 309,645.0 312,639.8 315,635.4 318,632.5 321,629.7 324,627.0 327,624.5 330,623.2 333,622.0 336,620.9 339,619.9 342,619.5 345,619.2 348,618.9 351,618.7 354,618.8 357,618.8 360,618.8 363,618.8 366,618.8 369,618.8 372,618.8 375,618.9 378,619.0 381,619.2 384,619.4 387,619.6 390,619.7 393,619.7 396,619.7 399,619.6 402,619.9 405,622.0 408,624.2 411,626.5 414,628.8 417,630.9 420,633.1 423,635.4 426,637.8 429,640.3 432,643.0 435,645.8 438,649.1 441,652.5" fill="none" stroke="#aaaaaa" stroke-width="1.5" stroke-opacity="1.0" stroke-linejoin="round"/>
<polyline points="270,664.9 273,663.7 276,662.0 279,659.5 282,658.1 285,657.3 288,656.4 291,655.7 294,655.1 297,654.5 300,653.6 303,652.5 306,651.1 309,647.5 312,642.7 315,638.2 318,634.8 321,631.5 324,628.0 327,624.6 330,623.2 333,622.0 336,620.9 339,619.9 342,619.5 345,619.2 348,618.9 351,618.6 354,618.2 357,617.9 360,617.5 363,617.1 366,616.6 369,616.2 372,615.7 375,615.3 378,614.9 381,614.7 384,614.5 387,614.2 390,614.0 393,613.7 396,613.4 399,613.2 402,613.5 405,616.2 408,619.1 411,622.1 414,625.0 417,627.8 420,630.5 423,633.2 426,636.0 429,639.0 432,642.0 435,645.2 438,648.7 441,652.4" fill="none" stroke="#aaaaaa" stroke-width="1.5" stroke-opacity="1.0" stroke-linejoin="round"/>
<polyline points="270,664.8 273,663.3 276,660.9 279,657.5 282,655.7 285,655.0 288,654.4 291,653.9 294,653.3 297,652.7 300,651.8 303,650.7 306,649.4 309,645.7 312,641.0 315,637.1 318,634.7 321,632.5 324,630.3 327,628.4 330,627.5 333,626.6 336,625.5 339,624.6 342,624.0 345,623.3 348,622.5 351,621.6 354,620.5 357,619.4 360,618.2 363,617.1 366,616.6 369,616.2 372,615.7 375,615.3 378,614.9 381,614.7 384,614.5 387,614.2 390,614.0 393,613.7 396,613.4 399,613.2 402,613.5 405,616.2 408,619.4 411,622.8 414,626.0 417,629.0 420,631.8 423,634.6 426,637.4 429,640.3 432,643.0 435,645.9 438,649.2 441,652.5" fill="none" stroke="#aaaaaa" stroke-width="1.5" stroke-opacity="1.0" stroke-linejoin="round"/>
<polyline points="270,664.9 273,663.6 276,661.6 279,658.8 282,657.2 285,656.4 288,655.6 291,655.0 294,654.4 297,653.9 300,653.0 303,652.0 306,650.8 309,647.6 312,643.3 315,639.7 318,637.2 321,634.9 324,632.5 327,630.3 330,629.0 333,627.7 336,626.3 339,625.0 342,624.1 345,623.4 348,622.6 351,621.8 354,621.0 357,620.2 360,619.5 363,618.7 366,617.9 369,617.2 372,616.5 375,615.9 378,615.3 381,614.8 384,614.5 387,614.2 390,614.0 393,613.7 396,613.4 399,613.2 402,613.5 405,616.2 408,619.1 411,622.1 414,625.0 417,627.8 420,630.5 423,633.2 426,636.0 429,639.0 432,642.0 435,645.2 438,648.7 441,652.4" fill="none" stroke="#aaaaaa" stroke-width="1.5" stroke-opacity="1.0" stroke-linejoin="round"/>
<polyline points="270,664.8 273,663.3 276,660.9 279,657.5 282,655.7 285,655.0 288,654.4 291,653.9 294,653.3 297,652.6 300,651.6 303,650.5 306,649.1 309,645.2 312,640.1 315,635.9 318,633.3 321,630.9 324,628.7 327,626.9 330,626.3 333,625.9 336,625.7 339,625.6 342,626.0 345,626.5 348,626.7 351,626.9 354,626.8 357,626.5 360,625.9 363,625.1 366,624.2 369,623.0 372,621.9 375,620.7 378,619.6 381,618.7 384,618.0 387,617.4 390,617.1 393,617.0 396,617.0 399,617.3 402,618.1 405,621.0 408,624.0 411,626.8 414,629.5 417,631.9 420,634.2 423,636.3 426,638.5 429,640.9 432,643.2 435,645.8 438,649.1 441,652.4" fill="none" stroke="#aaaaaa" stroke-width="1.5" stroke-opacity="1.0" stroke-linejoin="round"/>
<polygon points="570.0,673.7 573.0,670.8 576.0,667.9 579.0,665.0 582.0,662.1 585.0,659.2 588.0,656.3 591.0,653.8 594.0,652.1 597.0,650.5 600.0,649.1 603.0,649.5 606.0,650.3 609.0,651.0 612.0,651.8 615.0,652.5 618.0,653.6 621.0,654.7 624.0,655.7 627.0,656.8 630.0,657.7 633.0,656.8 636.0,655.7 639.0,654.8 642.0,655.1 645.0,656.1 648.0,657.2 651.0,658.3 654.0,659.4 657.0,661.3 660.0,663.5 660.0,681.0 657.0,679.7 654.0,678.3 651.0,676.7 648.0,674.6 645.0,672.0 642.0,669.6 639.0,668.4 636.0,668.9 633.0,669.9 630.0,670.8 627.0,671.4 624.0,671.8 621.0,672.1 618.0,672.5 615.0,672.5 612.0,671.8 609.0,670.7 606.0,669.6 603.0,668.5 600.0,667.8 597.0,667.9 594.0,668.4 591.0,668.9 588.0,669.6 585.0,670.5 582.0,671.5 579.0,673.1 576.0,675.2 573.0,677.6 570.0,679.4" fill="#d4d4d4"/>
<polyline points="570,679.4 573,677.6 576,675.2 579,673.1 582,671.5 585,670.5 588,669.6 591,668.9 594,668.4 597,667.9 600,667.8 603,668.5 606,669.6 609,670.7 612,671.8 615,672.5 618,672.5 621,672.1 624,671.8 627,671.4 630,670.8 633,669.9 636,668.9 639,668.4 642,669.6 645,672.0 648,674.6 651,676.7 654,678.3 657,679.7 660,681.0" fill="none" stroke="#aaaaaa" stroke-width="1.3" stroke-opacity="1.0" stroke-linejoin="round"/>
<polyline points="570,677.9 573,675.8 576,673.3 579,671.0 582,669.2 585,667.7 588,666.4 591,665.3 594,664.6 597,663.9 600,663.6 603,664.3 606,665.3 609,666.4 612,667.5 615,668.3 618,668.5 621,668.4 624,668.4 627,668.3 630,668.1 633,667.2 636,666.1 639,665.5 642,666.5 645,668.5 648,670.7 651,672.6 654,674.1 657,675.5 660,676.9" fill="none" stroke="#aaaaaa" stroke-width="1.3" stroke-opacity="1.0" stroke-linejoin="round"/>
<polyline points="570,679.4 573,677.5 576,675.0 579,672.7 582,671.0 585,669.6 588,668.3 591,667.1 594,666.1 597,665.2 600,664.6 603,665.0 606,665.7 609,666.5 612,667.4 615,668.0 618,668.1 621,668.1 624,668.1 627,668.1 630,668.0 633,667.2 636,666.4 639,666.0 642,667.2 645,669.7 648,672.4 651,674.8 654,676.7 657,678.5 660,680.2" fill="none" stroke="#aaaaaa" stroke-width="1.3" stroke-opacity="1.0" stroke-linejoin="round"/>
<polyline points="570,679.0 573,677.2 576,675.0 579,672.9 582,671.5 585,670.5 588,669.6 591,668.9 594,668.4 597,667.9 600,667.8 603,668.5 606,669.6 609,670.7 612,671.8 615,672.5 618,672.5 621,672.1 624,671.8 627,671.4 630,670.8 633,669.9 636,668.9 639,668.4 642,669.6 645,671.8 648,674.2 651,676.1 654,677.5 657,678.7 660,679.9" fill="none" stroke="#aaaaaa" stroke-width="1.3" stroke-opacity="1.0" stroke-linejoin="round"/>
<polyline points="570,677.9 573,675.8 576,673.4 579,671.2 582,669.4 585,668.2 588,667.1 591,666.4 594,666.0 597,665.7 600,665.8 603,666.9 606,668.4 609,669.8 612,671.3 615,672.3 618,672.5 621,672.1 624,671.8 627,671.4 630,670.8 633,669.9 636,668.9 639,668.4 642,669.6 645,672.0 648,674.6 651,676.7 654,678.3 657,679.7 660,681.0" fill="none" stroke="#aaaaaa" stroke-width="1.3" stroke-opacity="1.0" stroke-linejoin="round"/>
<polyline points="570,678.4 573,676.4 576,673.9 579,671.6 582,669.8 585,668.3 588,666.9 591,665.7 594,664.8 597,664.0 600,663.4 603,664.0 606,665.0 609,666.0 612,667.0 615,667.9 618,668.2 621,668.3 624,668.4 627,668.4 630,668.3 633,667.6 636,666.7 639,666.3 642,667.5 645,669.9 648,672.5 651,674.7 654,676.3 657,677.8 660,679.2" fill="none" stroke="#aaaaaa" stroke-width="1.3" stroke-opacity="1.0" stroke-linejoin="round"/>
<polyline points="570,676.7 573,674.4 576,671.8 579,669.4 582,667.4 585,665.8 588,664.3 591,663.2 594,662.6 597,662.1 600,662.0 603,663.0 606,664.4 609,665.8 612,667.2 615,668.4 618,668.9 621,669.1 624,669.1 627,669.1 630,668.9 633,668.0 636,667.0 639,666.3 642,667.2 645,669.1 648,671.1 651,672.6 654,673.5 657,674.4 660,675.3" fill="none" stroke="#aaaaaa" stroke-width="1.3" stroke-opacity="1.0" stroke-linejoin="round"/>
<polyline points="570,679.2 573,677.3 576,674.9 579,672.7 582,671.1 585,670.0 588,669.0 591,668.1 594,667.5 597,667.0 600,666.8 603,667.5 606,668.5 609,669.5 612,670.5 615,671.1 618,671.1 621,670.7 624,670.4 627,670.0 630,669.5 633,668.5 636,667.4 639,666.8 642,667.8 645,669.9 648,672.2 651,674.2 654,675.6 657,677.0 660,678.3" fill="none" stroke="#aaaaaa" stroke-width="1.3" stroke-opacity="1.0" stroke-linejoin="round"/>
<polyline points="570,678.0 573,675.8 576,673.1 579,670.6 582,668.4 585,666.4 588,664.5 591,662.7 594,661.3 597,659.9 600,658.8 603,659.1 606,659.7 609,660.4 612,661.2 615,661.9 618,662.5 621,662.9 624,663.5 627,664.0 630,664.4 633,663.8 636,663.0 639,662.7 642,663.8 645,666.1 648,668.5 651,670.8 654,672.7 657,674.6 660,676.5" fill="none" stroke="#aaaaaa" stroke-width="1.3" stroke-opacity="1.0" stroke-linejoin="round"/>
<polyline points="570,677.5 573,675.3 576,672.9 579,670.5 582,668.6 585,667.0 588,665.6 591,664.3 594,663.4 597,662.6 600,662.1 603,662.7 606,663.7 609,664.6 612,665.6 615,666.3 618,666.6 621,666.7 624,666.8 627,666.9 630,666.8 633,665.9 636,665.0 639,664.4 642,665.4 645,667.5 648,669.8 651,671.8 654,673.5 657,675.2 660,676.8" fill="none" stroke="#aaaaaa" stroke-width="1.3" stroke-opacity="1.0" stroke-linejoin="round"/>
<polyline points="570,677.2 573,675.0 576,672.6 579,670.2 582,668.3 585,666.8 588,665.4 591,664.3 594,663.5 597,662.9 600,662.7 603,663.5 606,664.8 609,666.1 612,667.3 615,668.4 618,668.8 621,669.0 624,669.1 627,669.1 630,668.9 633,668.1 636,667.1 639,666.7 642,667.7 645,669.9 648,672.2 651,674.1 654,675.4 657,676.6 660,677.7" fill="none" stroke="#aaaaaa" stroke-width="1.3" stroke-opacity="1.0" stroke-linejoin="round"/>
<polyline points="570,677.0 573,674.7 576,672.1 579,669.6 582,667.5 585,665.6 588,663.9 591,662.4 594,661.4 597,660.4 600,659.8 603,660.4 606,661.4 609,662.4 612,663.5 615,664.3 618,664.8 621,665.2 624,665.5 627,665.8 630,665.9 633,665.1 636,664.2 639,663.7 642,664.7 645,666.7 648,669.0 651,671.0 654,672.6 657,674.3 660,675.9" fill="none" stroke="#aaaaaa" stroke-width="1.3" stroke-opacity="1.0" stroke-linejoin="round"/>
<polyline points="570,677.2 573,674.9 576,672.2 579,669.7 582,667.5 585,665.6 588,663.8 591,662.2 594,661.0 597,659.8 600,659.0 603,659.5 606,660.2 609,661.0 612,661.8 615,662.4 618,662.8 621,663.0 624,663.3 627,663.6 630,663.7 633,662.7 636,661.6 639,660.8 642,661.5 645,663.0 648,664.8 651,666.4 654,667.8 657,669.5 660,671.4" fill="none" stroke="#aaaaaa" stroke-width="1.3" stroke-opacity="1.0" stroke-linejoin="round"/>
<polyline points="570,677.7 573,675.4 576,672.8 579,670.4 582,668.4 585,666.7 588,665.2 591,664.0 594,663.2 597,662.5 600,662.3 603,663.1 606,664.4 609,665.6 612,666.8 615,667.8 618,668.2 621,668.3 624,668.4 627,668.4 630,668.3 633,667.5 636,666.5 639,666.1 642,667.2 645,669.6 648,672.1 651,674.3 654,676.1 657,677.7 660,679.3" fill="none" stroke="#aaaaaa" stroke-width="1.3" stroke-opacity="1.0" stroke-linejoin="round"/>
<polyline points="570,676.6 573,674.2 576,671.6 579,669.1 582,667.0 585,665.1 588,663.4 591,662.0 594,661.0 597,660.1 600,659.6 603,660.3 606,661.4 609,662.4 612,663.5 615,664.4 618,664.9 621,665.2 624,665.5 627,665.8 630,665.9 633,665.1 636,664.1 639,663.6 642,664.5 645,666.5 648,668.6 651,670.5 654,672.0 657,673.6 660,675.2" fill="none" stroke="#aaaaaa" stroke-width="1.3" stroke-opacity="1.0" stroke-linejoin="round"/>
<polyline points="570,676.3 573,674.1 576,671.6 579,669.3 582,667.3 585,665.6 588,664.1 591,662.9 594,662.0 597,661.2 600,660.7 603,661.4 606,662.3 609,663.2 612,664.1 615,664.7 618,665.0 621,665.1 624,665.2 627,665.3 630,665.2 633,664.3 636,663.1 639,662.3 642,663.0 645,664.7 648,666.5 651,668.1 654,669.5 657,671.1 660,672.8" fill="none" stroke="#aaaaaa" stroke-width="1.3" stroke-opacity="1.0" stroke-linejoin="round"/>
<polyline points="570,675.7 573,673.1 576,670.4 579,667.6 582,665.1 585,662.6 588,660.2 591,658.0 594,656.4 597,654.8 600,653.4 603,653.6 606,654.1 609,654.7 612,655.2 615,655.7 618,656.4 621,657.2 624,658.0 627,658.8 630,659.5 633,658.7 636,657.8 639,657.1 642,657.7 645,659.2 648,661.0 651,662.6 654,664.3 657,666.5 660,668.8" fill="none" stroke="#aaaaaa" stroke-width="1.3" stroke-opacity="1.0" stroke-linejoin="round"/>
<polyline points="570,676.6 573,674.3 576,671.7 579,669.2 582,667.1 585,665.2 588,663.5 591,662.0 594,660.9 597,659.9 600,659.1 603,659.6 606,660.4 609,661.1 612,661.7 615,662.2 618,662.4 621,662.5 624,662.5 627,662.7 630,662.7 633,661.5 636,660.2 639,659.2 642,659.6 645,660.8 648,662.1 651,663.4 654,664.6 657,666.3 660,668.4" fill="none" stroke="#aaaaaa" stroke-width="1.3" stroke-opacity="1.0" stroke-linejoin="round"/>
<polyline points="570,675.6 573,673.0 576,670.3 579,667.6 582,665.1 585,662.8 588,660.5 591,658.6 594,657.1 597,655.8 600,654.7 603,655.2 606,655.9 609,656.7 612,657.4 615,658.0 618,658.6 621,659.2 624,659.7 627,660.3 630,660.7 633,659.7 636,658.5 639,657.5 642,657.8 645,658.9 648,660.1 651,661.2 654,662.2 657,663.9 660,665.9" fill="none" stroke="#aaaaaa" stroke-width="1.3" stroke-opacity="1.0" stroke-linejoin="round"/>
<polyline points="570,675.1 573,672.5 576,669.8 579,667.1 582,664.5 585,662.2 588,659.9 591,658.0 594,656.6 597,655.3 600,654.3 603,654.8 606,655.6 609,656.4 612,657.2 615,657.9 618,658.6 621,659.2 624,659.9 627,660.6 630,661.0 633,660.2 636,659.2 639,658.4 642,659.0 645,660.5 648,662.2 651,663.7 654,665.1 657,667.0 660,669.0" fill="none" stroke="#aaaaaa" stroke-width="1.3" stroke-opacity="1.0" stroke-linejoin="round"/>
<polyline points="570,676.3 573,673.8 576,671.1 579,668.5 582,666.1 585,663.8 588,661.7 591,659.8 594,658.3 597,657.0 600,655.9 603,656.3 606,657.0 609,657.7 612,658.4 615,659.0 618,659.6 621,660.1 624,660.7 627,661.2 630,661.6 633,660.7 636,659.6 639,658.8 642,659.3 645,660.7 648,662.2 651,663.6 654,664.9 657,666.6 660,668.6" fill="none" stroke="#aaaaaa" stroke-width="1.3" stroke-opacity="1.0" stroke-linejoin="round"/>
<polyline points="570,675.8 573,673.3 576,670.5 579,667.7 582,665.1 585,662.7 588,660.2 591,658.2 594,656.6 597,655.3 600,654.2 603,654.8 606,655.7 609,656.7 612,657.8 615,658.8 618,659.8 621,660.7 624,661.6 627,662.4 630,663.0 633,662.4 636,661.6 639,661.1 642,662.0 645,663.9 648,665.9 651,667.6 654,669.1 657,670.8 660,672.5" fill="none" stroke="#aaaaaa" stroke-width="1.3" stroke-opacity="1.0" stroke-linejoin="round"/>
<polyline points="570,674.8 573,672.0 576,669.1 579,666.1 582,663.3 585,660.4 588,657.5 591,655.1 594,653.2 597,651.5 600,650.1 603,650.6 606,651.4 609,652.3 612,653.2 615,654.1 618,655.3 621,656.5 624,657.6 627,658.8 630,659.6 633,658.9 636,658.0 639,657.3 642,657.9 645,659.2 648,660.7 651,662.0 654,663.2 657,664.9 660,666.9" fill="none" stroke="#aaaaaa" stroke-width="1.3" stroke-opacity="1.0" stroke-linejoin="round"/>
<polyline points="570,674.9 573,672.2 576,669.3 579,666.5 582,663.8 585,661.2 588,658.6 591,656.4 594,654.8 597,653.4 600,652.2 603,652.8 606,653.6 609,654.5 612,655.4 615,656.2 618,657.1 621,658.0 624,658.9 627,659.7 630,660.2 633,659.4 636,658.3 639,657.3 642,657.7 645,658.8 648,659.9 651,661.0 654,661.9 657,663.5 660,665.3" fill="none" stroke="#aaaaaa" stroke-width="1.3" stroke-opacity="1.0" stroke-linejoin="round"/>
<polyline points="570,674.8 573,672.2 576,669.4 579,666.6 582,664.0 585,661.5 588,659.1 591,657.0 594,655.5 597,654.2 600,653.1 603,653.6 606,654.5 609,655.3 612,656.2 615,657.0 618,657.8 621,658.6 624,659.4 627,660.1 630,660.7 633,659.8 636,658.8 639,657.9 642,658.4 645,659.7 648,661.1 651,662.3 654,663.5 657,665.1 660,667.1" fill="none" stroke="#aaaaaa" stroke-width="1.3" stroke-opacity="1.0" stroke-linejoin="round"/>
<polyline points="570,674.8 573,672.2 576,669.4 579,666.6 582,664.0 585,661.4 588,658.9 591,656.7 594,655.2 597,653.6 600,652.4 603,652.8 606,653.5 609,654.2 612,654.9 615,655.5 618,656.3 621,657.0 624,657.8 627,658.6 630,659.2 633,658.2 636,657.1 639,656.1 642,656.4 645,657.4 648,658.5 651,659.6 654,660.7 657,662.5 660,664.6" fill="none" stroke="#aaaaaa" stroke-width="1.3" stroke-opacity="1.0" stroke-linejoin="round"/>
<polyline points="570,675.3 573,672.7 576,670.0 579,667.4 582,665.0 585,662.7 588,660.5 591,658.6 594,657.3 597,656.0 600,655.0 603,655.6 606,656.4 609,657.2 612,657.9 615,658.6 618,659.2 621,659.7 624,660.2 627,660.7 630,661.1 633,660.0 636,658.8 639,657.7 642,658.0 645,659.0 648,660.1 651,661.0 654,661.9 657,663.5 660,665.3" fill="none" stroke="#aaaaaa" stroke-width="1.3" stroke-opacity="1.0" stroke-linejoin="round"/>
<polyline points="570,673.7 573,670.8 576,667.9 579,665.0 582,662.1 585,659.2 588,656.3 591,653.8 594,652.1 597,650.5 600,649.1 603,649.5 606,650.3 609,651.0 612,651.8 615,652.5 618,653.6 621,654.7 624,655.7 627,656.8 630,657.7 633,656.8 636,655.7 639,654.8 642,655.1 645,656.1 648,657.2 651,658.3 654,659.4 657,661.4 660,663.8" fill="none" stroke="#aaaaaa" stroke-width="1.3" stroke-opacity="1.0" stroke-linejoin="round"/>
<polyline points="570,674.2 573,671.3 576,668.4 579,665.6 582,662.7 585,660.0 588,657.3 591,655.0 594,653.5 597,652.1 600,651.1 603,651.8 606,652.8 609,653.9 612,654.9 615,656.0 618,657.1 621,658.1 624,659.1 627,660.0 630,660.7 633,659.9 636,659.0 639,658.2 642,658.8 645,660.2 648,661.6 651,663.0 654,664.2 657,665.8 660,667.7" fill="none" stroke="#aaaaaa" stroke-width="1.3" stroke-opacity="1.0" stroke-linejoin="round"/>
<polyline points="570,674.6 573,671.9 576,669.1 579,666.4 582,663.7 585,661.1 588,658.6 591,656.4 594,654.8 597,653.3 600,652.1 603,652.5 606,653.2 609,653.9 612,654.5 615,655.1 618,655.7 621,656.4 624,657.0 627,657.7 630,658.1 633,657.0 636,655.7 639,654.8 642,655.1 645,656.1 648,657.2 651,658.3 654,659.4 657,661.3 660,663.5" fill="none" stroke="#aaaaaa" stroke-width="1.3" stroke-opacity="1.0" stroke-linejoin="round"/>
<polyline points="501,689 508,697 515,704 520,706 527,704 533,700 537,699 545,699 555,696 565,692" fill="none" stroke="#a9a9a9" stroke-width="1.3"/>
<polyline points="545,690 550,693 556,694 562,690 570,684" fill="none" stroke="#a9a9a9" stroke-width="1.2"/>
<polygon points="93.0,610.9 96.0,610.0 99.0,609.0 102.0,608.0 105.0,607.0 108.0,606.1 111.0,605.2 114.0,604.4 117.0,603.5 120.0,602.5 123.0,600.9 126.0,599.2 129.0,597.8 132.0,596.9 135.0,596.3 138.0,597.7 141.0,599.4 144.0,600.6 147.0,601.6 150.0,602.7 153.0,604.8 156.0,607.0 159.0,609.2 162.0,611.3 165.0,613.3 168.0,615.3 171.0,617.3 174.0,619.3 177.0,620.9 180.0,622.3 183.0,623.7 186.0,625.1 189.0,626.5 192.0,628.0 195.0,629.5 198.0,631.0 201.0,632.6 204.0,634.3 207.0,636.0 210.0,637.7 213.0,639.2 216.0,638.5 219.0,636.6 222.0,634.4 225.0,632.2 228.0,630.8 231.0,629.5 234.0,628.1 237.0,626.8 240.0,625.8 243.0,626.7 246.0,627.9 249.0,629.0 252.0,630.3 255.0,632.2 258.0,634.2 261.0,636.1 264.0,636.5 267.0,636.2 270.0,635.7 273.0,635.3 276.0,634.7 279.0,633.8 282.0,632.9 285.0,632.0 288.0,630.6 291.0,629.3 294.0,627.9 297.0,626.4 300.0,624.8 303.0,623.0 306.0,620.7 309.0,617.5 312.0,613.9 315.0,609.5 318.0,604.8 321.0,600.2 324.0,595.7 327.0,591.2 330.0,586.7 333.0,582.6 336.0,578.4 339.0,574.0 342.0,569.3 345.0,564.5 348.0,559.1 351.0,553.7 354.0,548.6 357.0,543.7 360.0,539.9 363.0,536.8 366.0,534.5 369.0,532.5 372.0,531.0 375.0,530.1 378.0,529.8 381.0,531.1 384.0,532.8 387.0,534.9 390.0,537.5 393.0,540.3 396.0,545.0 399.0,549.9 402.0,554.9 405.0,559.8 408.0,564.7 411.0,569.4 414.0,573.8 417.0,578.1 420.0,582.4 423.0,586.2 426.0,590.0 429.0,593.9 432.0,598.9 435.0,604.5 438.0,609.7 441.0,614.9 444.0,620.1 447.0,623.7 450.0,624.5 453.0,625.0 456.0,625.5 459.0,626.0 462.0,626.4 465.0,626.8 468.0,627.1 471.0,627.2 474.0,626.8 477.0,626.4 480.0,626.0 483.0,625.5 486.0,625.1 489.0,624.6 492.0,624.2 495.0,623.9 498.0,623.5 501.0,623.1 504.0,622.8 507.0,623.0 510.0,623.6 513.0,624.1 516.0,624.7 519.0,625.3 522.0,626.2 525.0,627.2 528.0,628.1 531.0,629.1 534.0,630.1 537.0,631.1 540.0,632.0 543.0,632.1 546.0,632.0 549.0,631.9 552.0,630.8 555.0,629.4 558.0,629.6 561.0,629.9 564.0,630.3 567.0,630.6 570.0,631.0 573.0,631.5 576.0,632.1 579.0,632.3 582.0,630.1 585.0,626.4 588.0,622.6 591.0,619.0 594.0,615.6 597.0,612.4 600.0,609.4 603.0,608.4 606.0,607.7 609.0,606.9 612.0,606.2 615.0,605.5 618.0,605.1 621.0,604.8 624.0,604.4 627.0,604.1 630.0,603.7 633.0,603.2 636.0,602.6 639.0,602.1 642.0,602.1 645.0,602.3 648.0,602.6 651.0,602.8 654.0,603.0 657.0,603.3 660.0,603.5 660.0,667.5 657.0,665.3 654.0,663.4 651.0,662.3 648.0,661.2 645.0,660.1 642.0,659.1 639.0,658.8 636.0,659.7 633.0,660.8 630.0,661.7 627.0,660.8 624.0,659.7 621.0,658.7 618.0,657.6 615.0,656.5 612.0,655.8 609.0,655.0 606.0,654.3 603.0,653.5 600.0,653.1 597.0,654.5 594.0,656.1 591.0,657.8 588.0,660.3 585.0,663.2 582.0,666.1 579.0,669.0 576.0,671.9 573.0,674.8 570.0,677.7 567.0,680.6 564.0,683.5 561.0,686.3 558.0,688.5 555.0,690.2 552.0,691.9 549.0,693.3 546.0,694.2 543.0,693.9 540.0,693.0 537.0,693.2 534.0,693.5 531.0,693.9 528.0,694.3 525.0,694.8 522.0,695.3 519.0,695.5 516.0,695.3 513.0,695.0 510.0,694.6 507.0,693.6 504.0,692.5 501.0,691.3 498.0,689.6 495.0,687.7 492.0,685.7 489.0,684.3 486.0,683.9 483.0,683.6 480.0,683.0 477.0,679.8 474.0,676.4 471.0,673.1 468.0,670.9 465.0,669.5 462.0,668.1 459.0,666.8 456.0,665.9 453.0,665.0 450.0,663.9 447.0,662.6 444.0,659.9 441.0,656.4 438.0,652.7 435.0,649.2 432.0,646.0 429.0,643.0 426.0,640.0 423.0,637.2 420.0,634.5 417.0,631.8 414.0,629.0 411.0,626.1 408.0,623.1 405.0,620.2 402.0,617.5 399.0,617.2 396.0,617.4 393.0,617.7 390.0,618.0 387.0,618.2 384.0,618.5 381.0,618.7 378.0,618.9 375.0,619.3 372.0,619.7 369.0,620.2 366.0,620.6 363.0,621.1 360.0,621.5 357.0,621.9 354.0,622.2 351.0,622.6 348.0,622.9 345.0,623.2 342.0,623.5 339.0,623.9 336.0,624.9 333.0,626.0 330.0,627.2 327.0,628.5 324.0,631.0 321.0,633.7 318.0,636.5 315.0,639.4 312.0,643.8 309.0,649.0 306.0,653.0 303.0,654.5 300.0,655.6 297.0,656.6 294.0,657.3 291.0,657.9 288.0,658.4 285.0,659.0 282.0,659.7 279.0,661.5 276.0,664.9 273.0,667.3 270.0,668.8 267.0,669.1 264.0,667.5 261.0,665.9 258.0,664.4 255.0,663.0 252.0,661.6 249.0,660.5 246.0,660.1 243.0,659.7 240.0,659.2 237.0,659.0 234.0,660.2 231.0,662.2 228.0,664.2 225.0,666.4 222.0,669.4 219.0,672.5 216.0,675.4 213.0,677.1 210.0,676.5 207.0,675.8 204.0,675.0 201.0,674.1 198.0,672.7 195.0,670.9 192.0,669.2 189.0,667.6 186.0,666.4 183.0,665.2 180.0,664.0 177.0,662.8 174.0,661.5 171.0,660.1 168.0,658.7 165.0,657.3 162.0,655.9 159.0,654.5 156.0,653.0 153.0,651.4 150.0,650.0 147.0,649.1 144.0,648.3 141.0,647.6 138.0,646.8 135.0,646.1 132.0,645.7 129.0,645.4 126.0,645.2 123.0,644.9 120.0,644.7 117.0,645.3 114.0,646.0 111.0,646.6 108.0,647.3 105.0,648.0 102.0,648.9 99.0,649.8 96.0,650.7 93.0,651.5" fill="#5cbc7c"/>
<polyline points="93,647.7 96,646.6 99,645.5 102,644.4 105,643.3 108,642.4 111,641.6 114,640.8 117,640.1 120,639.5 123,639.5 126,639.6 129,639.8 132,640.2 135,640.7 138,641.7 141,642.9 144,644.1 147,645.2 150,646.5 153,648.4 156,650.4 159,652.3 162,654.2 165,656.0 168,657.9 171,659.7 174,661.4 177,662.8 180,664.0 183,665.2 186,666.4 189,667.6 192,669.2 195,670.9 198,672.7 201,674.1 204,675.0 207,675.8 210,676.5 213,677.1 216,675.4 219,672.5 222,669.4 225,666.4 228,664.2 231,662.2 234,660.2 237,658.8 240,658.7 243,658.8 246,658.9 249,659.1 252,659.9 255,661.1 258,662.3 261,663.6 264,665.0 267,666.3 270,665.8 273,664.2 276,661.8 279,658.6 282,656.8 285,655.9 288,655.1 291,654.3 294,653.5 297,652.6 300,651.3 303,649.8 306,648.0 309,643.9 312,638.7 315,634.0 318,630.5 321,627.1 324,623.7 327,620.5 330,618.2 333,616.0 336,613.8 339,611.6 342,609.8 345,608.1 348,606.2 351,604.3 354,602.6 357,601.1 360,599.9 363,599.0 366,598.5 369,598.2 372,598.1 375,598.2 378,598.6 381,599.5 384,600.5 387,601.6 390,602.6 393,603.5 396,604.7 399,605.8 402,607.2 405,610.4 408,613.8 411,617.1 414,620.1 417,623.0 420,625.7 423,628.3 426,631.0 429,633.8 432,636.8 435,640.1 438,643.7 441,647.3 444,651.0 447,653.6 450,654.7 453,655.4 456,656.1 459,656.8 462,657.7 465,658.8 468,659.9 471,661.6 474,663.9 477,666.4 480,668.6 483,669.0 486,669.1 489,669.2 492,670.1 495,671.3 498,672.6 501,673.5 504,674.1 507,674.8 510,675.5 513,675.7 516,675.8 519,676.0 522,675.9 525,675.6 528,675.4 531,675.3 534,675.3 537,675.3 540,675.4 543,676.2 546,676.5 549,676.0 552,674.8 555,673.4 558,672.4 561,671.2 564,669.5 567,667.7 570,665.8 573,664.0 576,662.2 579,660.2 582,657.7 585,654.8 588,651.9 591,649.4 594,647.6 597,645.9 600,644.5 603,645.0 606,645.8 609,646.6 612,647.5 615,648.5 618,649.7 621,651.0 624,652.4 627,653.7 630,654.9 633,654.6 636,654.0 639,653.5 642,654.2 645,655.6 648,657.0 651,658.4 654,659.9 657,662.0 660,664.5" fill="none" stroke="#7fca98" stroke-width="0.8" stroke-opacity="0.45" stroke-linejoin="round"/>
<polyline points="93,640.6 96,639.5 99,638.2 102,637.0 105,635.7 108,634.6 111,633.6 114,632.5 117,631.5 120,630.5 123,629.8 126,629.1 129,628.5 132,628.2 135,628.0 138,628.9 141,629.9 144,630.9 147,631.9 150,633.0 153,634.9 156,637.0 159,639.2 162,641.3 165,643.4 168,645.6 171,647.7 174,649.9 177,651.9 180,653.8 183,655.7 186,657.6 189,659.5 192,661.6 195,663.8 198,666.0 201,667.8 204,669.0 207,670.2 210,671.2 213,671.9 216,670.4 219,667.5 222,664.4 225,661.4 228,659.1 231,657.0 234,655.0 237,653.6 240,653.5 243,653.9 246,654.4 249,655.0 252,656.1 255,657.6 258,659.2 261,660.9 264,662.5 267,664.0 270,663.9 273,662.7 276,660.8 279,658.0 282,656.5 285,656.0 288,655.5 291,654.9 294,654.4 297,653.8 300,652.8 303,651.6 306,650.1 309,646.1 312,640.9 315,636.4 318,633.1 321,630.0 324,626.8 327,623.7 330,621.6 333,619.6 336,617.5 339,615.4 342,613.7 345,611.9 348,610.0 351,607.9 354,605.8 357,603.8 360,602.0 363,600.4 366,599.1 369,597.9 372,597.0 375,596.3 378,595.9 381,596.1 384,596.4 387,596.9 390,597.6 393,598.2 396,599.4 399,600.6 402,602.2 405,605.5 408,609.0 411,612.4 414,615.7 417,618.9 420,622.0 423,625.0 426,628.0 429,631.2 432,634.7 435,638.4 438,642.4 441,646.4 444,650.3 447,653.3 450,654.5 453,655.4 456,656.2 459,657.1 462,658.1 465,659.2 468,660.4 471,662.1 474,664.4 477,666.9 480,669.0 483,669.2 486,669.2 489,669.1 492,669.7 495,670.7 498,671.7 501,672.3 504,672.5 507,672.8 510,673.0 513,672.8 516,672.5 519,672.2 522,671.8 525,671.2 528,670.7 531,670.3 534,670.0 537,669.8 540,669.8 543,670.2 546,670.3 549,669.6 552,668.3 555,666.8 558,665.9 561,664.9 564,663.4 567,661.8 570,660.2 573,658.7 576,657.1 579,655.3 582,652.6 585,649.4 588,646.0 591,642.9 594,640.4 597,637.8 600,635.5 603,635.0 606,634.8 609,634.6 612,634.4 615,634.2 618,634.3 621,634.5 624,634.8 627,635.2 630,635.5 633,634.9 636,634.3 639,633.9 642,634.4 645,635.6 648,636.8 651,638.2 654,639.6 657,641.5 660,643.6" fill="none" stroke="#7fca98" stroke-width="0.8" stroke-opacity="0.45" stroke-linejoin="round"/>
<polyline points="93,641.3 96,640.5 99,639.6 102,638.7 105,637.8 108,637.1 111,636.4 114,635.8 117,635.1 120,634.6 123,634.4 126,634.4 129,634.4 132,634.6 135,635.0 138,636.0 141,637.2 144,638.2 147,639.2 150,640.2 153,641.7 156,643.4 159,644.9 162,646.2 165,647.4 168,648.5 171,649.5 174,650.4 177,651.1 180,651.5 183,651.9 186,652.3 189,652.6 192,653.1 195,653.8 198,654.4 201,654.9 204,655.2 207,655.5 210,656.0 213,656.3 216,654.6 219,651.7 222,648.8 225,645.9 228,644.0 231,642.2 234,640.6 237,639.4 240,638.9 243,639.8 246,640.9 249,642.1 252,643.5 255,645.5 258,647.6 261,649.6 264,651.0 267,651.9 270,651.9 273,651.2 276,650.0 279,648.0 282,646.9 285,646.2 288,645.4 291,644.5 294,643.6 297,642.7 300,641.4 303,640.0 306,638.1 309,634.4 312,629.9 315,625.5 318,621.8 321,618.2 324,614.6 327,611.3 330,608.6 333,606.2 336,603.8 339,601.5 342,599.4 345,597.4 348,595.1 351,592.9 354,590.9 357,589.0 360,587.6 363,586.5 366,585.7 369,585.0 372,584.4 375,584.1 378,584.1 381,584.7 384,585.5 387,586.4 390,587.4 393,588.4 396,590.2 399,592.1 402,594.2 405,597.9 408,601.7 411,605.4 414,608.9 417,612.3 420,615.7 423,618.8 426,622.0 429,625.2 432,628.9 435,632.7 438,636.7 441,640.7 444,644.6 447,647.3 450,648.1 453,648.5 456,648.7 459,649.0 462,649.3 465,649.7 468,650.1 471,650.7 474,651.7 477,652.7 480,653.5 483,653.2 486,652.8 489,652.5 492,652.9 495,653.6 498,654.4 501,655.3 504,656.0 507,657.1 510,658.5 513,659.6 516,660.8 519,661.9 522,663.0 525,664.0 528,664.9 531,665.9 534,666.8 537,667.7 540,668.6 543,669.7 546,670.4 549,670.2 552,669.3 555,668.0 558,667.1 561,666.0 564,664.3 567,662.5 570,660.6 573,658.8 576,656.9 579,654.9 582,652.0 585,648.5 588,644.9 591,641.7 594,639.0 597,636.3 600,634.0 603,633.5 606,633.4 609,633.3 612,633.2 615,633.2 618,633.5 621,633.9 624,634.3 627,634.7 630,635.1 633,634.5 636,633.7 639,633.1 642,633.4 645,634.2 648,635.0 651,635.9 654,636.8 657,638.1 660,639.6" fill="none" stroke="#7fca98" stroke-width="0.8" stroke-opacity="0.45" stroke-linejoin="round"/>
<polyline points="93,632.8 96,632.0 99,631.0 102,630.1 105,629.2 108,628.4 111,627.6 114,626.9 117,626.2 120,625.5 123,624.9 126,624.3 129,623.9 132,623.7 135,623.6 138,624.7 141,625.9 144,626.8 147,627.6 150,628.5 153,630.1 156,631.8 159,633.5 162,635.0 165,636.5 168,637.9 171,639.3 174,640.7 177,641.9 180,642.9 183,644.0 186,645.0 189,646.0 192,647.3 195,648.6 198,649.9 201,651.1 204,652.2 207,653.2 210,654.3 213,655.1 216,653.8 219,651.2 222,648.5 225,645.7 228,643.9 231,642.1 234,640.5 237,639.2 240,638.6 243,639.4 246,640.4 249,641.4 252,642.8 255,644.8 258,646.9 261,648.9 264,650.3 267,651.2 270,651.3 273,650.8 276,649.8 279,648.1 282,647.2 285,646.7 288,646.2 291,645.6 294,645.0 297,644.4 300,643.3 303,642.2 306,640.5 309,636.9 312,632.4 315,627.9 318,624.3 321,620.7 324,617.2 327,613.7 330,610.9 333,608.3 336,605.5 339,602.8 342,600.1 345,597.4 348,594.3 351,591.0 354,587.9 357,584.7 360,582.0 363,579.5 366,577.3 369,575.3 372,573.6 375,572.1 378,571.1 381,571.0 384,571.2 387,571.7 390,572.5 393,573.5 396,575.7 399,578.2 402,580.9 405,584.7 408,588.6 411,592.5 414,596.2 417,599.9 420,603.5 423,606.8 426,610.2 429,613.8 432,618.0 435,622.6 438,627.2 441,631.8 444,636.4 447,639.7 450,640.8 453,641.6 456,642.3 459,643.0 462,643.8 465,644.6 468,645.3 471,646.2 474,647.2 477,648.2 480,649.0 483,648.7 486,648.2 489,647.6 492,647.4 495,647.3 498,647.1 501,646.7 504,646.1 507,645.8 510,645.7 513,645.4 516,645.1 519,644.9 522,644.8 525,644.8 528,645.0 531,645.2 534,645.6 537,646.0 540,646.5 543,646.8 546,646.8 549,646.6 552,645.6 555,644.3 558,644.2 561,644.2 564,644.1 567,643.9 570,643.7 573,643.6 576,643.5 579,643.1 582,641.0 585,637.9 588,634.8 591,631.9 594,629.5 597,627.3 600,625.3 603,625.4 606,625.7 609,626.1 612,626.5 615,626.9 618,627.7 621,628.4 624,629.3 627,630.1 630,630.8 633,630.6 636,630.3 639,630.1 642,630.6 645,631.7 648,632.7 651,633.8 654,634.9 657,636.3 660,638.0" fill="none" stroke="#7fca98" stroke-width="0.8" stroke-opacity="0.45" stroke-linejoin="round"/>
<polyline points="93,618.2 96,617.2 99,616.1 102,615.1 105,614.0 108,613.1 111,612.2 114,611.4 117,610.5 120,609.6 123,608.2 126,606.9 129,605.8 132,605.1 135,604.7 138,606.1 141,607.7 144,608.9 147,610.0 150,611.2 153,613.3 156,615.5 159,617.8 162,619.9 165,622.0 168,624.0 171,626.0 174,628.0 177,629.7 180,631.2 183,632.6 186,634.1 189,635.5 192,637.0 195,638.6 198,640.2 201,641.7 204,643.2 207,644.7 210,646.1 213,647.3 216,646.4 219,644.2 222,641.7 225,639.2 228,637.5 231,636.0 234,634.4 237,633.0 240,632.0 243,632.7 246,633.6 249,634.5 252,635.5 255,637.2 258,639.0 261,640.6 264,641.1 267,640.8 270,640.2 273,639.4 276,638.4 279,637.0 282,635.9 285,634.8 288,633.3 291,631.9 294,630.4 297,628.7 300,626.9 303,625.0 306,622.5 309,618.9 312,615.1 315,610.5 318,605.7 321,601.0 324,596.3 327,591.8 330,587.3 333,583.1 336,579.0 339,574.8 342,570.3 345,565.8 348,560.9 351,556.1 354,551.7 357,547.7 360,544.9 363,542.8 366,541.6 369,540.8 372,540.5 375,540.7 378,541.6 381,543.9 384,546.5 387,549.4 390,552.6 393,555.9 396,560.6 399,565.4 402,570.1 405,575.3 408,580.5 411,585.5 414,590.1 417,594.6 420,599.0 423,603.1 426,607.0 429,611.0 432,615.8 435,620.8 438,625.7 441,630.6 444,635.3 447,638.8 450,639.9 453,640.7 456,641.3 459,642.0 462,642.6 465,643.2 468,643.8 471,644.3 474,645.0 477,645.4 480,645.7 483,644.9 486,644.0 489,643.1 492,642.4 495,641.8 498,641.2 501,640.5 504,639.7 507,639.3 510,639.3 513,639.2 516,639.2 519,639.4 522,639.7 525,640.3 528,640.9 531,641.7 534,642.5 537,643.4 540,644.2 543,644.7 546,645.0 549,645.0 552,644.1 555,642.9 558,642.8 561,642.8 564,642.6 567,642.4 570,642.1 573,641.9 576,641.7 579,641.3 582,639.0 585,635.5 588,632.1 591,628.8 594,626.0 597,623.3 600,620.9 603,620.4 606,620.3 609,620.2 612,620.2 615,620.3 618,620.7 621,621.2 624,621.7 627,622.3 630,622.8 633,622.6 636,622.4 639,622.2 642,622.7 645,623.6 648,624.5 651,625.4 654,626.1 657,627.1 660,628.2" fill="none" stroke="#7fca98" stroke-width="0.8" stroke-opacity="0.45" stroke-linejoin="round"/>
<polyline points="93,612.3 96,611.3 99,610.3 102,609.3 105,608.3 108,607.5 111,606.6 114,605.8 117,605.0 120,604.1 123,602.6 126,601.0 129,599.8 132,599.0 135,598.5 138,600.0 141,601.7 144,603.0 147,604.1 150,605.3 153,607.4 156,609.6 159,611.8 162,613.8 165,615.8 168,617.8 171,619.7 174,621.6 177,623.2 180,624.6 183,626.0 186,627.4 189,628.8 192,630.4 195,631.9 198,633.6 201,635.2 204,637.0 207,638.9 210,640.7 213,642.3 216,641.8 219,640.0 222,638.0 225,635.9 228,634.6 231,633.4 234,632.2 237,631.1 240,630.5 243,631.5 246,632.7 249,633.9 252,635.3 255,637.2 258,639.2 261,641.1 264,641.8 267,641.9 270,641.6 273,641.0 276,640.1 279,638.9 282,637.9 285,637.1 288,636.0 291,634.9 294,633.8 297,632.6 300,631.2 303,629.7 306,627.6 309,624.3 312,620.4 315,616.0 318,611.8 321,607.6 324,603.4 327,599.3 330,595.5 333,591.9 336,588.2 339,584.4 342,580.5 345,576.5 348,571.9 351,567.3 354,563.0 357,558.9 360,555.6 363,552.9 366,550.9 369,549.1 372,547.8 375,546.9 378,546.6 381,547.6 384,548.9 387,550.6 390,552.5 393,554.7 396,558.3 399,562.2 402,566.1 405,570.4 408,574.8 411,578.9 414,582.8 417,586.6 420,590.4 423,593.7 426,597.1 429,600.6 432,605.1 435,610.1 438,614.9 441,619.8 444,624.7 447,628.1 450,628.9 453,629.5 456,630.0 459,630.6 462,631.1 465,631.7 468,632.2 471,632.6 474,632.8 477,632.9 480,633.0 483,632.7 486,632.5 489,632.2 492,632.0 495,631.9 498,631.8 501,631.6 504,631.5 507,631.7 510,632.2 513,632.6 516,633.0 519,633.3 522,633.8 525,634.3 528,634.8 531,635.3 534,635.8 537,636.2 540,636.4 543,636.0 546,635.3 549,634.5 552,632.7 555,630.5 558,629.9 561,629.9 564,630.3 567,630.6 570,631.0 573,631.5 576,632.1 579,632.3 582,630.1 585,626.4 588,622.6 591,619.0 594,615.6 597,612.4 600,609.4 603,608.4 606,607.7 609,606.9 612,606.2 615,605.5 618,605.1 621,604.8 624,604.4 627,604.1 630,603.7 633,603.2 636,602.6 639,602.1 642,602.1 645,602.3 648,602.6 651,602.8 654,603.0 657,603.3 660,603.5" fill="none" stroke="#7fca98" stroke-width="0.8" stroke-opacity="0.45" stroke-linejoin="round"/>
<polyline points="93,649.0 96,647.6 99,646.2 102,644.7 105,643.2 108,641.8 111,640.5 114,639.2 117,637.8 120,636.6 123,635.8 126,635.0 129,634.3 132,633.7 135,633.2 138,633.5 141,634.0 144,634.4 147,634.8 150,635.3 153,636.6 156,638.0 159,639.5 162,640.9 165,642.4 168,643.9 171,645.5 174,647.2 177,648.7 180,650.2 183,651.8 186,653.4 189,655.1 192,657.0 195,659.2 198,661.4 201,663.4 204,665.1 207,666.7 210,668.2 213,669.5 216,668.5 219,666.3 222,663.8 225,661.4 228,659.7 231,658.0 234,656.5 237,655.6 240,655.9 243,656.6 246,657.3 249,658.1 252,659.3 255,660.9 258,662.5 261,664.1 264,665.8 267,667.4 270,667.1 273,665.7 276,663.5 279,660.3 282,658.6 285,658.0 288,657.4 291,656.9 294,656.4 297,655.8 300,654.9 303,653.9 306,652.5 309,648.6 312,643.5 315,639.2 318,636.4 321,633.7 324,631.0 327,628.5 330,627.2 333,626.0 336,624.9 339,623.9 342,623.5 345,623.2 348,622.9 351,622.6 354,622.2 357,621.9 360,621.5 363,621.0 366,620.4 369,619.8 372,619.2 375,618.6 378,618.2 381,618.0 384,617.8 387,617.7 390,617.6 393,617.5 396,617.4 399,617.2 402,617.5 405,620.2 408,623.1 411,626.1 414,629.0 417,631.8 420,634.5 423,637.2 426,640.0 429,643.0 432,645.9 435,648.8 438,652.1 441,655.4 444,658.6 447,661.0 450,662.0 453,662.7 456,663.2 459,663.8 462,664.7 465,665.7 468,666.8 471,668.5 474,671.3 477,674.1 480,676.8 483,677.2 486,677.4 489,677.8 492,679.0 495,680.8 498,682.6 501,684.2 504,685.4 507,686.5 510,687.6 513,688.1 516,688.5 519,688.8 522,688.8 525,688.4 528,688.0 531,687.7 534,687.4 537,687.0 540,686.9 543,687.6 546,687.8 549,686.9 552,685.4 555,683.6 558,682.0 561,680.0 564,677.4 567,674.8 570,672.1 573,669.5 576,666.9 579,664.2 582,661.2 585,658.0 588,654.8 591,651.9 594,649.7 597,647.5 600,645.5 603,645.4 606,645.6 609,645.7 612,645.9 615,646.1 618,646.6 621,647.2 624,647.8 627,648.5 630,649.1 633,648.4 636,647.6 639,647.0 642,647.5 645,648.7 648,650.1 651,651.5 654,653.1 657,655.3 660,657.8" fill="none" stroke="#a9a9a9" stroke-width="0.8" stroke-opacity="0.35" stroke-linejoin="round"/>
<polyline points="93,645.4 96,644.4 99,643.1 102,641.8 105,640.4 108,639.1 111,637.7 114,636.2 117,634.7 120,633.2 123,632.0 126,630.8 129,629.7 132,628.7 135,627.9 138,628.2 141,628.7 144,629.1 147,629.7 150,630.4 153,632.0 156,633.8 159,635.7 162,637.7 165,639.6 168,641.7 171,643.7 174,645.8 177,647.8 180,649.6 183,651.4 186,653.1 189,654.9 192,656.9 195,658.9 198,660.9 201,662.6 204,663.9 207,665.0 210,666.1 213,666.8 216,665.2 219,662.4 222,659.3 225,656.2 228,653.9 231,651.6 234,649.4 237,647.7 240,647.0 243,647.1 246,647.3 249,647.5 252,648.1 255,649.3 258,650.5 261,651.7 264,652.4 267,652.6 270,651.8 273,650.5 276,648.8 279,646.5 282,645.0 285,644.1 288,643.0 291,641.9 294,640.8 297,639.7 300,638.4 303,637.0 306,635.1 309,631.6 312,627.5 315,623.2 318,619.5 321,615.9 324,612.3 327,609.0 330,606.2 333,603.7 336,601.2 339,598.7 342,596.3 345,593.9 348,591.2 351,588.5 354,585.9 357,583.4 360,581.4 363,579.7 366,578.3 369,577.1 372,576.1 375,575.4 378,575.1 381,575.6 384,576.4 387,577.4 390,578.7 393,580.0 396,582.4 399,584.9 402,587.7 405,591.8 408,596.0 411,600.2 414,604.2 417,608.2 420,612.1 423,615.8 426,619.5 429,623.4 432,627.8 435,632.3 438,637.0 441,641.6 444,646.1 447,649.4 450,650.9 453,651.9 456,652.9 459,653.7 462,654.7 465,655.6 468,656.6 471,657.8 474,659.5 477,661.2 480,662.5 483,662.1 486,661.5 489,660.9 492,660.9 495,661.2 498,661.5 501,661.6 504,661.5 507,661.7 510,662.1 513,662.3 516,662.5 519,662.9 522,663.2 525,663.6 528,664.1 531,664.8 534,665.6 537,666.4 540,667.4 543,668.8 546,669.9 549,670.2 552,669.9 555,669.3 558,669.2 561,668.8 564,667.8 567,666.5 570,665.2 573,663.7 576,662.1 579,660.2 582,657.7 585,654.7 588,651.7 591,648.9 594,646.7 597,644.4 600,642.3 603,642.0 606,641.9 609,641.6 612,641.3 615,640.9 618,640.7 621,640.5 624,640.2 627,639.9 630,639.5 633,637.9 636,636.2 639,634.7 642,634.1 645,634.0 648,634.0 651,634.0 654,634.1 657,634.5 660,635.2" fill="none" stroke="#a9a9a9" stroke-width="0.8" stroke-opacity="0.35" stroke-linejoin="round"/>
<polyline points="93,621.4 96,621.1 99,620.6 102,620.2 105,619.9 108,619.6 111,619.4 114,619.2 117,619.0 120,618.8 123,618.5 126,618.2 129,618.1 132,618.3 135,618.6 138,620.2 141,621.9 144,623.3 147,624.4 150,625.6 153,627.6 156,629.6 159,631.5 162,633.2 165,634.9 168,636.5 171,638.1 174,639.6 177,640.9 180,642.1 183,643.3 186,644.4 189,645.6 192,647.1 195,648.6 198,650.1 201,651.6 204,652.9 207,654.1 210,655.4 213,656.4 216,655.3 219,652.8 222,650.1 225,647.5 228,645.6 231,643.7 234,641.9 237,640.4 240,639.5 243,639.9 246,640.3 249,640.8 252,641.6 255,642.9 258,644.3 261,645.7 264,646.1 267,646.0 270,645.3 273,644.3 276,643.0 279,641.3 282,640.2 285,639.3 288,638.2 291,637.2 294,636.2 297,635.1 300,633.9 303,632.5 306,630.7 309,627.5 312,623.6 315,619.4 318,615.5 321,611.7 324,607.9 327,604.2 330,601.0 333,597.9 336,594.8 339,591.5 342,588.2 345,584.7 348,580.8 351,576.7 354,572.8 357,568.9 360,565.6 363,562.6 366,560.2 369,557.8 372,555.7 375,554.0 378,552.7 381,552.7 384,552.8 387,553.4 390,554.4 393,555.6 396,558.4 399,561.6 402,565.0 405,568.9 408,572.9 411,576.9 414,580.7 417,584.5 420,588.4 423,592.0 426,595.6 429,599.5 432,604.4 435,609.9 438,615.2 441,620.5 444,625.9 447,629.7 450,631.1 453,632.1 456,633.2 459,634.3 462,635.4 465,636.5 468,637.7 471,638.8 474,639.9 477,641.1 480,642.3 483,642.7 486,643.1 489,643.5 492,644.2 495,645.2 498,646.2 501,647.1 504,647.8 507,648.9 510,650.1 513,651.1 516,652.0 519,652.8 522,653.6 525,654.2 528,654.8 531,655.3 534,655.8 537,656.2 540,656.5 543,656.8 546,656.7 549,656.0 552,654.5 555,652.7 558,651.8 561,650.9 564,649.7 567,648.6 570,647.5 573,646.6 576,645.7 579,644.7 582,642.1 585,638.6 588,635.0 591,631.7 594,628.8 597,626.1 600,623.7 603,623.3 606,623.3 609,623.3 612,623.4 615,623.6 618,624.1 621,624.8 624,625.5 627,626.3 630,627.0 633,627.0 636,626.9 639,626.8 642,627.5 645,628.7 648,629.9 651,631.0 654,632.2 657,633.6 660,635.2" fill="none" stroke="#a9a9a9" stroke-width="0.8" stroke-opacity="0.35" stroke-linejoin="round"/>
<polyline points="93,613.3 96,612.3 99,611.3 102,610.3 105,609.3 108,608.5 111,607.7 114,606.9 117,606.2 120,605.4 123,604.1 126,602.8 129,601.8 132,601.3 135,601.2 138,602.9 141,604.9 144,606.5 147,607.9 150,609.4 153,611.9 156,614.4 159,617.0 162,619.4 165,621.7 168,624.0 171,626.3 174,628.5 177,630.5 180,632.2 183,633.9 186,635.5 189,637.2 192,639.0 195,640.8 198,642.6 201,644.3 204,646.0 207,647.7 210,649.3 213,650.6 216,649.8 219,647.7 222,645.3 225,642.9 228,641.3 231,639.7 234,638.2 237,636.8 240,636.0 243,636.6 246,637.3 249,638.0 252,638.8 255,640.2 258,641.7 261,642.9 264,643.1 267,642.6 270,641.5 273,640.2 276,638.7 279,636.9 282,635.4 285,633.9 288,632.1 291,630.3 294,628.4 297,626.5 300,624.8 303,623.0 306,620.7 309,617.5 312,613.9 315,609.5 318,604.8 321,600.2 324,595.7 327,591.2 330,586.7 333,582.6 336,578.4 339,574.1 342,570.2 345,566.4 348,562.3 351,558.3 354,554.8 357,551.7 360,549.6 363,548.3 366,547.6 369,547.3 372,547.2 375,547.6 378,548.5 381,550.5 384,552.6 387,554.9 390,557.3 393,559.8 396,563.6 399,567.4 402,571.2 405,575.4 408,579.7 411,583.7 414,587.4 417,590.9 420,594.4 423,597.4 426,600.3 429,603.4 432,607.4 435,611.8 438,616.1 441,620.4 444,624.8 447,627.6 450,627.9 453,627.8 456,627.8 459,627.7 462,627.7 465,627.6 468,627.5 471,627.2 474,626.8 477,626.4 480,626.0 483,625.5 486,625.1 489,624.6 492,624.2 495,624.0 498,624.1 501,624.4 504,624.8 507,625.8 510,627.1 513,628.4 516,629.7 519,630.9 522,632.3 525,633.6 528,634.9 531,636.0 534,637.1 537,638.1 540,638.8 543,639.0 546,638.9 549,638.5 552,637.2 555,635.5 558,635.2 561,635.1 564,635.0 567,634.8 570,634.8 573,634.9 576,635.1 579,635.1 582,632.8 585,629.1 588,625.4 591,622.0 594,618.9 597,615.9 600,613.3 603,612.6 606,612.3 609,612.0 612,611.8 615,611.7 618,611.9 621,612.2 624,612.5 627,612.9 630,613.2 633,613.2 636,613.1 639,613.1 642,613.6 645,614.4 648,615.3 651,616.1 654,616.9 657,617.9 660,618.8" fill="none" stroke="#a9a9a9" stroke-width="0.8" stroke-opacity="0.35" stroke-linejoin="round"/>
<defs><linearGradient id="fadeg" x1="445" y1="0" x2="615" y2="0" gradientUnits="userSpaceOnUse"><stop offset="0" stop-color="#fff" stop-opacity="0"/><stop offset="0.2" stop-color="#fff" stop-opacity="1"/><stop offset="0.8" stop-color="#fff" stop-opacity="1"/><stop offset="1" stop-color="#fff" stop-opacity="0"/></linearGradient><mask id="fadem" maskUnits="userSpaceOnUse" x="440" y="560" width="180" height="140"><rect x="440" y="560" width="180" height="140" fill="url(#fadeg)"/></mask></defs>
<g mask="url(#fadem)">
<polyline points="447,642.9 450,644.1 453,644.9 456,645.5 459,646.1 462,646.7 465,647.4 468,648.0 471,648.9 474,650.2 477,651.7 480,653.4 483,654.2 486,655.0 489,656.1 492,657.8 495,659.9 498,662.0 501,664.0 504,665.8 507,667.7 510,669.6 513,670.2 516,670.6 519,671.0 522,671.1 525,671.2 528,671.2 531,671.2 534,671.3 537,671.4 540,671.6 543,672.2 546,672.4 549,671.8 552,670.5 555,668.9 558,667.9 561,666.4 564,663.8 567,661.3 570,658.9 573,656.8 576,654.9 579,653.0 582,650.0 585,646.4 588,642.8 591,639.4 594,636.5 597,633.7 600,631.0 603,630.2 606,629.6 609,629.0 612,628.5 615,628.1" fill="none" stroke="#b0b0b0" stroke-width="1.0" stroke-opacity="0.75" stroke-linejoin="round"/>
<polyline points="447,646.5 450,647.2 453,647.5 456,647.8 459,648.1 462,648.7 465,649.5 468,650.5 471,651.8 474,653.6 477,655.6 480,657.5 483,658.1 486,658.6 489,659.2 492,660.3 495,661.8 498,663.3 501,664.4 504,665.1 507,665.8 510,666.2 513,666.0 516,665.6 519,665.1 522,664.3 525,663.6 528,662.9 531,662.5 534,662.3 537,662.4 540,662.8 543,663.4 546,664.0 549,664.0 552,663.4 555,662.5 558,662.4 561,662.1 564,661.2 567,660.2 570,659.0 573,657.6 576,656.1 579,654.3 582,651.4 585,647.8 588,644.1 591,640.8 594,638.1 597,635.6 600,633.5 603,633.5 606,633.9 609,634.5 612,635.0 615,635.6" fill="none" stroke="#b0b0b0" stroke-width="1.0" stroke-opacity="0.75" stroke-linejoin="round"/>
<polyline points="447,647.1 450,648.0 453,648.7 456,649.3 459,650.0 462,650.7 465,651.5 468,652.2 471,652.9 474,653.9 477,654.8 480,655.3 483,654.5 486,653.7 489,653.2 492,653.6 495,654.6 498,656.1 501,657.9 504,659.9 507,662.5 510,665.3 513,667.9 516,670.3 519,671.0 522,671.1 525,671.2 528,671.2 531,671.2 534,671.3 537,671.4 540,671.6 543,671.1 546,670.2 549,668.8 552,667.1 555,665.4 558,664.6 561,663.7 564,662.3 567,660.7 570,658.9 573,657.1 576,655.2 579,653.2 582,650.2 585,646.7 588,643.2 591,640.3 594,638.2 597,636.3 600,634.9 603,635.7 606,636.7 609,637.7 612,638.4 615,638.7" fill="none" stroke="#b0b0b0" stroke-width="1.0" stroke-opacity="0.75" stroke-linejoin="round"/>
<polyline points="447,641.8 450,642.3 453,642.7 456,643.0 459,643.6 462,644.3 465,645.3 468,646.4 471,647.7 474,649.4 477,651.1 480,652.7 483,653.1 486,653.1 489,653.0 492,653.2 495,653.4 498,653.4 501,653.1 504,652.6 507,652.3 510,652.2 513,652.1 516,652.1 519,652.3 522,652.8 525,653.4 528,654.1 531,654.9 534,655.8 537,656.7 540,657.7 543,658.7 546,659.6 549,659.9 552,659.5 555,658.8 558,658.9 561,658.9 564,658.5 567,658.0 570,657.4 573,656.7 576,655.9 579,654.8 582,652.6 585,649.7 588,646.6 591,643.7 594,641.2 597,638.7 600,636.3 603,635.9 606,635.7 609,635.6 612,635.5 615,635.5" fill="none" stroke="#b0b0b0" stroke-width="1.0" stroke-opacity="0.75" stroke-linejoin="round"/>
<polyline points="447,636.1 450,637.4 453,638.6 456,640.0 459,641.6 462,643.3 465,645.1 468,647.0 471,648.9 474,651.1 477,653.2 480,655.1 483,655.5 486,655.5 489,655.2 492,655.0 495,654.8 498,654.2 501,653.3 504,652.1 507,651.2 510,650.5 513,649.8 516,649.3 519,648.9 522,648.6 525,648.6 528,648.8 531,649.4 534,650.5 537,651.9 540,653.6 543,655.4 546,657.1 549,658.3 552,658.4 555,658.0 558,658.0 561,657.6 564,656.5 567,655.2 570,653.8 573,652.5 576,651.3 579,650.0 582,647.5 585,644.3 588,641.1 591,638.3 594,636.0 597,633.7 600,631.7 603,631.4 606,631.2 609,630.8 612,630.2 615,629.6" fill="none" stroke="#b0b0b0" stroke-width="1.0" stroke-opacity="0.75" stroke-linejoin="round"/>
<polyline points="447,639.4 450,639.8 453,640.1 456,640.5 459,641.2 462,642.5 465,644.2 468,646.3 471,648.9 474,652.1 477,655.5 480,658.5 483,659.8 486,660.2 489,660.0 492,659.7 495,659.1 498,657.9 501,656.3 504,654.2 507,652.6 510,651.3 513,650.3 516,649.8 519,649.7 522,650.1 525,650.9 528,651.8 531,652.7 534,653.6 537,654.3 540,654.6 543,654.6 546,654.0 549,652.6 552,650.3 555,647.5 558,646.0 561,644.7 564,643.5 567,642.8 570,642.6 573,642.8 576,643.4 579,643.9 582,642.6 585,640.4 588,638.0 591,635.7 594,633.6 597,631.1 600,628.4 603,627.3 606,626.1 609,624.8 612,623.4 615,622.1" fill="none" stroke="#b0b0b0" stroke-width="1.0" stroke-opacity="0.75" stroke-linejoin="round"/>
<polyline points="447,638.8 450,639.8 453,640.5 456,641.1 459,641.6 462,642.2 465,642.7 468,643.3 471,643.9 474,644.8 477,645.8 480,647.0 483,647.5 486,647.9 489,648.4 492,649.0 495,649.6 498,649.8 501,649.3 504,648.2 507,646.8 510,645.3 513,643.4 516,641.3 519,639.5 522,638.1 525,637.2 528,637.0 531,637.4 534,638.5 537,640.1 540,642.1 543,643.8 546,645.5 549,646.7 552,646.8 555,646.1 558,646.1 561,645.9 564,645.3 567,644.7 570,644.2 573,644.1 576,644.1 579,643.9 582,642.1 585,639.2 588,636.2 591,633.5 594,631.1 597,628.7 600,626.3 603,625.7 606,625.2 609,624.6 612,623.9 615,623.2" fill="none" stroke="#b0b0b0" stroke-width="1.0" stroke-opacity="0.75" stroke-linejoin="round"/>
<polyline points="447,632.7 450,634.2 453,635.4 456,636.8 459,638.1 462,639.5 465,640.9 468,642.3 471,643.6 474,644.8 477,645.7 480,646.3 483,645.7 486,644.6 489,643.4 492,642.3 495,641.2 498,640.0 501,638.9 504,637.8 507,637.4 510,637.6 513,637.9 516,638.5 519,639.4 522,640.7 525,642.1 528,643.7 531,645.3 534,646.8 537,648.3 540,649.8 543,650.8 546,651.7 549,652.1 552,651.6 555,650.8 558,650.9 561,650.9 564,650.5 567,649.8 570,649.1 573,648.2 576,647.3 579,646.1 582,643.2 585,639.2 588,635.1 591,631.1 594,627.5 597,624.0 600,620.7 603,619.6 606,618.9 609,618.4 612,618.2 615,618.1" fill="none" stroke="#b0b0b0" stroke-width="1.0" stroke-opacity="0.75" stroke-linejoin="round"/>
<polyline points="447,633.4 450,634.7 453,635.7 456,636.6 459,637.4 462,638.1 465,638.7 468,639.0 471,639.2 474,639.1 477,638.7 480,638.1 483,637.0 486,635.8 489,634.7 492,633.7 495,632.8 498,631.8 501,630.6 504,629.3 507,628.4 510,627.7 513,627.1 516,627.7 519,628.3 522,629.2 525,630.2 528,631.1 531,632.1 534,633.1 537,634.1 540,635.0 543,635.1 546,635.0 549,635.8 552,635.9 555,635.7 558,636.9 561,638.0 564,639.0 567,639.6 570,640.1 573,640.4 576,640.5 579,640.2 582,637.7 585,633.9 588,629.8 591,625.9 594,622.5 597,619.2 600,616.4 603,615.8 606,615.9 609,616.3 612,617.0 615,618.1" fill="none" stroke="#b0b0b0" stroke-width="1.0" stroke-opacity="0.75" stroke-linejoin="round"/>
<polyline points="447,630.7 450,631.1 453,631.2 456,631.3 459,631.5 462,631.5 465,631.5 468,631.4 471,631.0 474,630.1 477,629.4 480,629.0 483,628.5 486,628.1 489,627.6 492,627.2 495,626.9 498,626.5 501,626.1 504,626.4 507,627.8 510,629.6 513,631.3 516,632.9 519,634.3 522,635.7 525,637.0 528,638.0 531,638.9 534,639.7 537,640.4 540,640.9 543,640.9 546,640.6 549,640.2 552,638.8 555,637.2 558,637.1 561,637.2 564,637.3 567,637.4 570,637.6 573,638.1 576,638.5 579,638.6 582,636.4 585,632.9 588,629.1 591,625.4 594,621.9 597,618.3 600,614.8 603,613.2 606,611.8 609,610.5 612,609.3 615,608.5" fill="none" stroke="#b0b0b0" stroke-width="1.0" stroke-opacity="0.75" stroke-linejoin="round"/>
<polyline points="447,629.7 450,629.8 453,629.5 456,629.4 459,629.5 462,629.7 465,630.1 468,630.7 471,631.2 474,631.6 477,632.1 480,632.8 483,633.4 486,633.8 489,634.3 492,634.7 495,635.1 498,635.4 501,635.6 504,635.5 507,635.9 510,636.3 513,636.6 516,636.9 519,637.2 522,637.9 525,638.8 528,639.9 531,641.4 534,643.0 537,644.6 540,646.1 543,647.0 546,647.3 549,646.7 552,644.7 555,641.9 558,640.0 561,638.1 564,636.2 567,634.8 570,634.0 573,634.5 576,635.1 579,635.3 582,633.1 585,629.4 588,625.6 591,622.0 594,618.6 597,615.4 600,612.4 603,611.4 606,610.7 609,609.9 612,609.2 615,608.5" fill="none" stroke="#b0b0b0" stroke-width="1.0" stroke-opacity="0.75" stroke-linejoin="round"/>
<polyline points="447,627.1 450,628.8 453,630.1 456,631.5 459,632.9 462,634.0 465,635.0 468,635.8 471,636.2 474,636.1 477,635.7 480,635.1 483,633.9 486,632.7 489,631.5 492,630.7 495,630.3 498,630.2 501,630.7 504,631.8 507,633.8 510,636.3 513,638.8 516,641.1 519,643.0 522,644.3 525,645.0 528,645.0 531,644.4 534,643.5 537,642.4 540,641.2 543,639.6 546,638.1 549,636.9 552,635.1 555,633.4 558,633.5 561,634.1 564,634.7 567,635.4 570,636.0 573,636.7 576,637.4 579,637.8 582,635.8 585,632.5 588,629.1 591,625.9 594,623.0 597,620.1 600,617.4 603,616.8 606,616.5 609,616.2 612,616.1 615,616.1" fill="none" stroke="#b0b0b0" stroke-width="1.0" stroke-opacity="0.75" stroke-linejoin="round"/>
<polyline points="447,645.9 450,646.9 453,647.6 456,648.2 459,648.7 462,649.2 465,649.6 468,650.0 471,650.5 474,651.4 477,652.2 480,653.0 483,652.9 486,652.8 489,653.1 492,654.2 495,655.7 498,657.6 501,659.5 504,661.4 507,663.5 510,665.7 513,667.3 516,668.7 519,669.7 522,670.2 525,670.0 528,669.4 531,668.4 534,667.3 537,666.1 540,665.0 543,664.4 546,663.9 549,663.2 552,662.4 555,661.8 558,662.3 561,662.7 564,662.5 567,662.0 570,660.9 573,659.5 576,657.7 579,655.5 582,652.3 585,648.5 588,644.6 591,641.1 594,638.3 597,635.6 600,633.4 603,633.1 606,633.1 609,633.0 612,632.8 615,632.6" fill="none" stroke="#e8e8e8" stroke-width="0.8" stroke-opacity="0.6" stroke-linejoin="round"/>
<polyline points="447,642.4 450,643.3 453,644.0 456,644.8 459,645.8 462,646.9 465,648.1 468,649.5 471,651.0 474,652.9 477,654.8 480,656.4 483,656.6 486,656.5 489,656.3 492,656.6 495,657.1 498,657.8 501,658.4 504,659.0 507,660.2 510,661.8 513,663.3 516,664.8 519,666.4 522,667.6 525,668.5 528,668.9 531,668.9 534,668.5 537,667.7 540,666.6 543,665.4 546,663.6 549,661.1 552,658.0 555,654.7 558,652.8 561,651.3 564,650.1 567,649.3 570,649.0 573,649.1 576,649.3 579,649.2 582,647.7 585,645.3 588,642.7 591,640.3 594,638.1 597,635.7 600,633.3 603,632.4 606,631.6 609,630.6 612,629.4 615,628.2" fill="none" stroke="#e8e8e8" stroke-width="0.8" stroke-opacity="0.6" stroke-linejoin="round"/>
<polyline points="447,641.1 450,641.6 453,641.8 456,642.2 459,642.7 462,643.2 465,643.8 468,644.4 471,644.9 474,645.3 477,645.4 480,645.2 483,643.9 486,642.4 489,640.9 492,639.6 495,638.6 498,637.6 501,636.9 504,636.3 507,636.6 510,637.4 513,638.5 516,639.8 519,641.4 522,643.2 525,645.2 528,647.3 531,649.4 534,651.6 537,653.7 540,655.7 543,657.6 546,659.1 549,659.8 552,659.5 555,658.7 558,658.3 561,657.6 564,656.3 567,654.6 570,652.9 573,651.1 576,649.4 579,647.7 582,644.6 585,640.8 588,637.3 591,634.3 594,632.1 597,630.3 600,629.1 603,629.9 606,630.8 609,631.6 612,632.0 615,632.2" fill="none" stroke="#e8e8e8" stroke-width="0.8" stroke-opacity="0.6" stroke-linejoin="round"/>
<polyline points="447,633.4 450,634.2 453,634.9 456,635.9 459,637.2 462,638.8 465,640.7 468,642.9 471,645.2 474,647.7 477,650.4 480,652.8 483,653.7 486,654.1 489,654.2 492,654.4 495,654.6 498,654.5 501,654.1 504,653.4 507,653.0 510,652.7 513,652.3 516,651.9 519,651.7 522,651.4 525,651.3 528,651.2 531,651.2 534,651.3 537,651.4 540,651.5 543,651.3 546,650.9 549,650.0 552,648.4 555,646.5 558,645.9 561,645.4 564,644.8 567,644.3 570,643.9 573,643.6 576,643.3 579,642.7 582,640.3 585,636.7 588,633.0 591,629.5 594,626.4 597,623.4 600,620.7 603,619.9 606,619.4 609,618.9 612,618.3 615,617.6" fill="none" stroke="#e8e8e8" stroke-width="0.8" stroke-opacity="0.6" stroke-linejoin="round"/>
<polyline points="447,632.9 450,634.1 453,634.9 456,635.4 459,635.8 462,635.9 465,635.9 468,635.8 471,635.3 474,634.5 477,633.5 480,632.4 483,631.2 486,630.1 489,629.1 492,628.5 495,628.0 498,627.7 501,627.4 504,627.1 507,627.3 510,627.5 513,627.6 516,627.7 519,628.3 522,629.2 525,630.2 528,631.1 531,632.1 534,633.1 537,634.3 540,636.8 543,638.9 546,641.3 549,643.7 552,645.2 555,646.3 558,648.2 561,649.6 564,650.2 567,650.0 570,649.3 573,648.2 576,646.9 579,645.2 582,641.7 585,637.0 588,632.2 591,627.7 594,623.6 597,619.7 600,616.4 603,615.5 606,615.1 609,615.0 612,615.0 615,615.2" fill="none" stroke="#e8e8e8" stroke-width="0.8" stroke-opacity="0.6" stroke-linejoin="round"/>
<polyline points="447,629.4 450,630.7 453,631.7 456,632.8 459,633.9 462,634.9 465,635.9 468,636.9 471,637.8 474,638.8 477,639.9 480,641.2 483,642.0 486,642.7 489,643.4 492,644.1 495,644.7 498,645.0 501,644.8 504,644.3 507,644.0 510,643.9 513,643.8 516,643.9 519,644.1 522,644.5 525,645.0 528,645.3 531,645.5 534,645.5 537,645.2 540,644.7 543,643.5 546,642.0 549,640.2 552,637.6 555,634.9 558,633.9 561,633.5 564,633.3 567,633.6 570,634.0 573,634.5 576,635.1 579,635.3 582,633.1 585,629.4 588,625.6 591,622.0 594,618.6 597,615.4 600,612.4 603,611.4 606,610.7 609,609.9 612,609.2 615,608.5" fill="none" stroke="#e8e8e8" stroke-width="0.8" stroke-opacity="0.6" stroke-linejoin="round"/>
</g>
<line x1="377.6" y1="464" x2="377.6" y2="809" stroke="#000" stroke-width="3" stroke-dasharray="4.8,4.8" stroke-dashoffset="-0.2"/>
<polygon points="372.5,540 376,534 381,533 386,535 391,539 394,545 394,560 393.5,585 393.5,605 391,612 387,610 383,606 380,608 376,606 373,600 372.5,585 372.5,560" fill="#3a8a30"/>
<polygon points="380.21,529.55 380.94,534.94 386.25,536.13 381.35,538.50 381.86,543.91 378.10,539.98 373.10,542.14 375.68,537.35 372.08,533.26 377.44,534.23" fill="#3a8a30"/>
<polygon points="392.94,534.33 392.05,539.70 396.77,542.40 391.39,543.21 390.27,548.54 387.84,543.67 382.43,544.25 386.31,540.44 384.08,535.47 388.91,537.98" fill="#3a8a30"/>
<polygon points="377.50,532.40 379.29,537.54 384.73,537.65 380.39,540.94 381.97,546.15 377.50,543.04 373.03,546.15 374.61,540.94 370.27,537.65 375.71,537.54" fill="#3a8a30"/>
<polygon points="391.26,536.44 392.52,541.73 397.93,542.38 393.28,545.22 394.33,550.56 390.20,547.02 385.44,549.67 387.53,544.65 383.54,540.94 388.97,541.37" fill="#3a8a30"/>
<polygon points="380.95,535.74 381.13,541.18 386.30,542.89 381.18,544.75 381.15,550.19 377.80,545.90 372.62,547.55 375.66,543.04 372.49,538.62 377.72,540.12" fill="#3a8a30"/>
<polygon points="392.26,540.00 391.90,545.43 396.87,547.65 391.60,548.99 391.02,554.40 388.12,549.80 382.79,550.92 386.27,546.74 383.56,542.02 388.61,544.04" fill="#3a8a30"/>
<polygon points="378.26,538.44 379.52,543.73 384.93,544.38 380.28,547.22 381.33,552.56 377.20,549.02 372.44,551.67 374.53,546.65 370.54,542.94 375.97,543.37" fill="#3a8a30"/>
<polygon points="390.50,542.40 392.29,547.54 397.73,547.65 393.39,550.94 394.97,556.15 390.50,553.04 386.03,556.15 387.61,550.94 383.27,547.65 388.71,547.54" fill="#3a8a30"/>
<polygon points="381.66,542.00 381.30,547.43 386.27,549.65 381.00,550.99 380.42,556.40 377.52,551.80 372.19,552.92 375.67,548.74 372.96,544.02 378.01,546.04" fill="#3a8a30"/>
<polygon points="391.55,545.74 391.73,551.18 396.90,552.89 391.78,554.75 391.75,560.19 388.40,555.90 383.22,557.55 386.26,553.04 383.09,548.62 388.32,550.12" fill="#3a8a30"/>
<polygon points="379.01,544.55 379.74,549.94 385.05,551.13 380.15,553.50 380.66,558.91 376.90,554.98 371.90,557.14 374.48,552.35 370.88,548.26 376.24,549.23" fill="#3a8a30"/>
<polygon points="394.79,549.73 393.36,554.98 397.79,558.14 392.36,558.41 390.72,563.60 388.78,558.51 383.34,558.55 387.58,555.14 385.86,549.98 390.41,552.96" fill="#3a8a30"/>
<polygon points="378.70,547.40 380.49,552.54 385.93,552.65 381.59,555.94 383.17,561.15 378.70,558.04 374.23,561.15 375.81,555.94 371.47,552.65 376.91,552.54" fill="#3a8a30"/>
<polygon points="390.81,551.55 391.54,556.94 396.85,558.13 391.95,560.50 392.46,565.91 388.70,561.98 383.70,564.14 386.28,559.35 382.68,555.26 388.04,556.23" fill="#3a8a30"/>
<polygon points="379.75,550.74 379.93,556.18 385.10,557.89 379.98,559.75 379.95,565.19 376.60,560.90 371.42,562.55 374.46,558.04 371.29,553.62 376.52,555.12" fill="#3a8a30"/>
<polygon points="394.14,555.33 393.25,560.70 397.97,563.40 392.59,564.21 391.47,569.54 389.04,564.67 383.63,565.25 387.51,561.44 385.28,556.47 390.11,558.98" fill="#3a8a30"/>
<polygon points="379.46,553.44 380.72,558.73 386.13,559.38 381.48,562.22 382.53,567.56 378.40,564.02 373.64,566.67 375.73,561.65 371.74,557.94 377.17,558.37" fill="#3a8a30"/>
<polygon points="390.06,557.44 391.32,562.73 396.73,563.38 392.08,566.22 393.13,571.56 389.00,568.02 384.24,570.67 386.33,565.65 382.34,561.94 387.77,562.37" fill="#3a8a30"/>
<polygon points="380.46,557.00 380.10,562.43 385.07,564.65 379.80,565.99 379.22,571.40 376.32,566.80 370.99,567.92 374.47,563.74 371.76,559.02 376.81,561.04" fill="#3a8a30"/>
<polygon points="393.46,561.00 393.10,566.43 398.07,568.65 392.80,569.99 392.22,575.40 389.32,570.80 383.99,571.92 387.47,567.74 384.76,563.02 389.81,565.04" fill="#3a8a30"/>
<polygon points="380.21,559.55 380.94,564.94 386.25,566.13 381.35,568.50 381.86,573.91 378.10,569.98 373.10,572.14 375.68,567.35 372.08,563.26 377.44,564.23" fill="#3a8a30"/>
<polygon points="389.30,563.40 391.09,568.54 396.53,568.65 392.19,571.94 393.77,577.15 389.30,574.04 384.83,577.15 386.41,571.94 382.07,568.65 387.51,568.54" fill="#3a8a30"/>
<polygon points="377.50,562.40 379.29,567.54 384.73,567.65 380.39,570.94 381.97,576.15 377.50,573.04 373.03,576.15 374.61,570.94 370.27,567.65 375.71,567.54" fill="#3a8a30"/>
<polygon points="392.75,566.74 392.93,572.18 398.10,573.89 392.98,575.75 392.95,581.19 389.60,576.90 384.42,578.55 387.46,574.04 384.29,569.62 389.52,571.12" fill="#3a8a30"/>
<polygon points="380.95,565.74 381.13,571.18 386.30,572.89 381.18,574.75 381.15,580.19 377.80,575.90 372.62,577.55 375.66,573.04 372.49,568.62 377.72,570.12" fill="#3a8a30"/>
<polygon points="393.59,570.73 392.16,575.98 396.59,579.14 391.16,579.41 389.52,584.60 387.58,579.51 382.14,579.55 386.38,576.14 384.66,570.98 389.21,573.96" fill="#3a8a30"/>
<polygon points="378.26,568.44 379.52,573.73 384.93,574.38 380.28,577.22 381.33,582.56 377.20,579.02 372.44,581.67 374.53,576.65 370.54,572.94 375.97,573.37" fill="#3a8a30"/>
<polygon points="392.01,572.55 392.74,577.94 398.05,579.13 393.15,581.50 393.66,586.91 389.90,582.98 384.90,585.14 387.48,580.35 383.88,576.26 389.24,577.23" fill="#3a8a30"/>
<polygon points="381.66,572.00 381.30,577.43 386.27,579.65 381.00,580.99 380.42,586.40 377.52,581.80 372.19,582.92 375.67,578.74 372.96,574.02 378.01,576.04" fill="#3a8a30"/>
<polygon points="392.94,576.33 392.05,581.70 396.77,584.40 391.39,585.21 390.27,590.54 387.84,585.67 382.43,586.25 386.31,582.44 384.08,577.47 388.91,579.98" fill="#3a8a30"/>
<polygon points="379.01,574.55 379.74,579.94 385.05,581.13 380.15,583.50 380.66,588.91 376.90,584.98 371.90,587.14 374.48,582.35 370.88,578.26 376.24,579.23" fill="#3a8a30"/>
<polygon points="391.26,578.44 392.52,583.73 397.93,584.38 393.28,587.22 394.33,592.56 390.20,589.02 385.44,591.67 387.53,586.65 383.54,582.94 388.97,583.37" fill="#3a8a30"/>
<polygon points="378.70,577.40 380.49,582.54 385.93,582.65 381.59,585.94 383.17,591.15 378.70,588.04 374.23,591.15 375.81,585.94 371.47,582.65 376.91,582.54" fill="#3a8a30"/>
<polygon points="392.26,582.00 391.90,587.43 396.87,589.65 391.60,590.99 391.02,596.40 388.12,591.80 382.79,592.92 386.27,588.74 383.56,584.02 388.61,586.04" fill="#3a8a30"/>
<polygon points="379.75,580.74 379.93,586.18 385.10,587.89 379.98,589.75 379.95,595.19 376.60,590.90 371.42,592.55 374.46,588.04 371.29,583.62 376.52,585.12" fill="#3a8a30"/>
<polygon points="390.50,584.40 392.29,589.54 397.73,589.65 393.39,592.94 394.97,598.15 390.50,595.04 386.03,598.15 387.61,592.94 383.27,589.65 388.71,589.54" fill="#3a8a30"/>
<polygon points="379.46,583.44 380.72,588.73 386.13,589.38 381.48,592.22 382.53,597.56 378.40,594.02 373.64,596.67 375.73,591.65 371.74,587.94 377.17,588.37" fill="#3a8a30"/>
<polygon points="391.55,587.74 391.73,593.18 396.90,594.89 391.78,596.75 391.75,602.19 388.40,597.90 383.22,599.55 386.26,595.04 383.09,590.62 388.32,592.12" fill="#3a8a30"/>
<polygon points="380.46,587.00 380.10,592.43 385.07,594.65 379.80,595.99 379.22,601.40 376.32,596.80 370.99,597.92 374.47,593.74 371.76,589.02 376.81,591.04" fill="#3a8a30"/>
<polygon points="394.79,591.73 393.36,596.98 397.79,600.14 392.36,600.41 390.72,605.60 388.78,600.51 383.34,600.55 387.58,597.14 385.86,591.98 390.41,594.96" fill="#3a8a30"/>
<polygon points="380.21,589.55 380.94,594.94 386.25,596.13 381.35,598.50 381.86,603.91 378.10,599.98 373.10,602.14 375.68,597.35 372.08,593.26 377.44,594.23" fill="#3a8a30"/>
<polygon points="390.81,593.55 391.54,598.94 396.85,600.13 391.95,602.50 392.46,607.91 388.70,603.98 383.70,606.14 386.28,601.35 382.68,597.26 388.04,598.23" fill="#3a8a30"/>
<polygon points="377.50,592.40 379.29,597.54 384.73,597.65 380.39,600.94 381.97,606.15 377.50,603.04 373.03,606.15 374.61,600.94 370.27,597.65 375.71,597.54" fill="#3a8a30"/>
<polygon points="394.14,597.33 393.25,602.70 397.97,605.40 392.59,606.21 391.47,611.54 389.04,606.67 383.63,607.25 387.51,603.44 385.28,598.47 390.11,600.98" fill="#3a8a30"/>
<polygon points="380.95,595.74 381.13,601.18 386.30,602.89 381.18,604.75 381.15,610.19 377.80,605.90 372.62,607.55 375.66,603.04 372.49,598.62 377.72,600.12" fill="#3a8a30"/>
<polygon points="390.06,599.44 391.32,604.73 396.73,605.38 392.08,608.22 393.13,613.56 389.00,610.02 384.24,612.67 386.33,607.65 382.34,603.94 387.77,604.37" fill="#3a8a30"/>
<polygon points="378.26,598.44 379.52,603.73 384.93,604.38 380.28,607.22 381.33,612.56 377.20,609.02 372.44,611.67 374.53,606.65 370.54,602.94 375.97,603.37" fill="#3a8a30"/>
<polygon points="393.46,603.00 393.10,608.43 398.07,610.65 392.80,611.99 392.22,617.40 389.32,612.80 383.99,613.92 387.47,609.74 384.76,605.02 389.81,607.04" fill="#3a8a30"/>
<polygon points="381.66,602.00 381.30,607.43 386.27,609.65 381.00,610.99 380.42,616.40 377.52,611.80 372.19,612.92 375.67,608.74 372.96,604.02 378.01,606.04" fill="#3a8a30"/>
<polygon points="389.30,605.40 391.09,610.54 396.53,610.65 392.19,613.94 393.77,619.15 389.30,616.04 384.83,619.15 386.41,613.94 382.07,610.65 387.51,610.54" fill="#3a8a30"/>
<polygon points="378.20,604.50 379.85,609.23 384.86,609.34 380.86,612.37 382.31,617.16 378.20,614.30 374.09,617.16 375.54,612.37 371.54,609.34 376.55,609.23" fill="#676767"/>
<polygon points="390.00,610.70 391.65,615.43 396.66,615.54 392.66,618.57 394.11,623.36 390.00,620.50 385.89,623.36 387.34,618.57 383.34,615.54 388.35,615.43" fill="#676767"/>
<polygon points="378.50,598.00 380.15,602.73 385.16,602.84 381.16,605.87 382.61,610.66 378.50,607.80 374.39,610.66 375.84,605.87 371.84,602.84 376.85,602.73" fill="#3a8a30"/>
<polygon points="389.50,603.00 391.15,607.73 396.16,607.84 392.16,610.87 393.61,615.66 389.50,612.80 385.39,615.66 386.84,610.87 382.84,607.84 387.85,607.73" fill="#3a8a30"/>
<polygon points="134.80,562.80 136.73,568.35 142.60,568.47 137.92,572.01 139.62,577.63 134.80,574.28 129.98,577.63 131.68,572.01 127.00,568.47 132.87,568.35" fill="#676767"/>
<polygon points="134.80,565.80 136.73,571.35 142.60,571.47 137.92,575.01 139.62,580.63 134.80,577.28 129.98,580.63 131.68,575.01 127.00,571.47 132.87,571.35" fill="#676767"/>
<polygon points="134.80,568.80 136.73,574.35 142.60,574.47 137.92,578.01 139.62,583.63 134.80,580.28 129.98,583.63 131.68,578.01 127.00,574.47 132.87,574.35" fill="#676767"/>
<polygon points="134.80,571.80 136.73,577.35 142.60,577.47 137.92,581.01 139.62,586.63 134.80,583.28 129.98,586.63 131.68,581.01 127.00,577.47 132.87,577.35" fill="#676767"/>
<polygon points="134.80,574.80 136.73,580.35 142.60,580.47 137.92,584.01 139.62,589.63 134.80,586.28 129.98,589.63 131.68,584.01 127.00,580.47 132.87,580.35" fill="#676767"/>
<polygon points="134.80,577.80 136.73,583.35 142.60,583.47 137.92,587.01 139.62,592.63 134.80,589.28 129.98,592.63 131.68,587.01 127.00,583.47 132.87,583.35" fill="#676767"/>
<polygon points="134.80,580.80 136.73,586.35 142.60,586.47 137.92,590.01 139.62,595.63 134.80,592.28 129.98,595.63 131.68,590.01 127.00,586.47 132.87,586.35" fill="#676767"/>
<polygon points="134.80,583.80 136.73,589.35 142.60,589.47 137.92,593.01 139.62,598.63 134.80,595.28 129.98,598.63 131.68,593.01 127.00,589.47 132.87,589.35" fill="#676767"/>
<polygon points="134.80,586.80 136.73,592.35 142.60,592.47 137.92,596.01 139.62,601.63 134.80,598.28 129.98,601.63 131.68,596.01 127.00,592.47 132.87,592.35" fill="#676767"/>
<polygon points="178.00,562.30 179.93,567.85 185.80,567.97 181.12,571.51 182.82,577.13 178.00,573.78 173.18,577.13 174.88,571.51 170.20,567.97 176.07,567.85" fill="#676767"/>
<polygon points="175.50,567.80 177.43,573.35 183.30,573.47 178.62,577.01 180.32,582.63 175.50,579.28 170.68,582.63 172.38,577.01 167.70,573.47 173.57,573.35" fill="#676767"/>
<polygon points="182.50,569.80 184.43,575.35 190.30,575.47 185.62,579.01 187.32,584.63 182.50,581.28 177.68,584.63 179.38,579.01 174.70,575.47 180.57,575.35" fill="#676767"/>
<polygon points="173.00,575.80 174.93,581.35 180.80,581.47 176.12,585.01 177.82,590.63 173.00,587.28 168.18,590.63 169.88,585.01 165.20,581.47 171.07,581.35" fill="#676767"/>
<polygon points="181.00,575.80 182.93,581.35 188.80,581.47 184.12,585.01 185.82,590.63 181.00,587.28 176.18,590.63 177.88,585.01 173.20,581.47 179.07,581.35" fill="#676767"/>
<polygon points="186.50,581.80 188.43,587.35 194.30,587.47 189.62,591.01 191.32,596.63 186.50,593.28 181.68,596.63 183.38,591.01 178.70,587.47 184.57,587.35" fill="#676767"/>
<polygon points="176.00,581.80 177.93,587.35 183.80,587.47 179.12,591.01 180.82,596.63 176.00,593.28 171.18,596.63 172.88,591.01 168.20,587.47 174.07,587.35" fill="#676767"/>
<polygon points="172.00,587.80 173.93,593.35 179.80,593.47 175.12,597.01 176.82,602.63 172.00,599.28 167.18,602.63 168.88,597.01 164.20,593.47 170.07,593.35" fill="#676767"/>
<polygon points="182.00,587.80 183.93,593.35 189.80,593.47 185.12,597.01 186.82,602.63 182.00,599.28 177.18,602.63 178.88,597.01 174.20,593.47 180.07,593.35" fill="#676767"/>
<polygon points="188.00,591.80 189.93,597.35 195.80,597.47 191.12,601.01 192.82,606.63 188.00,603.28 183.18,606.63 184.88,601.01 180.20,597.47 186.07,597.35" fill="#676767"/>
<polygon points="178.00,593.80 179.93,599.35 185.80,599.47 181.12,603.01 182.82,608.63 178.00,605.28 173.18,608.63 174.88,603.01 170.20,599.47 176.07,599.35" fill="#676767"/>
<polygon points="184.50,598.80 186.43,604.35 192.30,604.47 187.62,608.01 189.32,613.63 184.50,610.28 179.68,613.63 181.38,608.01 176.70,604.47 182.57,604.35" fill="#676767"/>
<polygon points="176.00,598.80 177.93,604.35 183.80,604.47 179.12,608.01 180.82,613.63 176.00,610.28 171.18,613.63 172.88,608.01 168.20,604.47 174.07,604.35" fill="#676767"/>
<polygon points="181.00,602.80 182.93,608.35 188.80,608.47 184.12,612.01 185.82,617.63 181.00,614.28 176.18,617.63 177.88,612.01 173.20,608.47 179.07,608.35" fill="#676767"/>
<polygon points="135.00,577.80 136.93,583.35 142.80,583.47 138.12,587.01 139.82,592.63 135.00,589.28 130.18,592.63 131.88,587.01 127.20,583.47 133.07,583.35" fill="#3a8a30"/>
<polygon points="134.50,581.80 136.43,587.35 142.30,587.47 137.62,591.01 139.32,596.63 134.50,593.28 129.68,596.63 131.38,591.01 126.70,587.47 132.57,587.35" fill="#3a8a30"/>
<polygon points="136.50,585.80 138.43,591.35 144.30,591.47 139.62,595.01 141.32,600.63 136.50,597.28 131.68,600.63 133.38,595.01 128.70,591.47 134.57,591.35" fill="#3a8a30"/>
<polygon points="132.00,589.80 133.93,595.35 139.80,595.47 135.12,599.01 136.82,604.63 132.00,601.28 127.18,604.63 128.88,599.01 124.20,595.47 130.07,595.35" fill="#3a8a30"/>
<polygon points="136.00,592.80 137.93,598.35 143.80,598.47 139.12,602.01 140.82,607.63 136.00,604.28 131.18,607.63 132.88,602.01 128.20,598.47 134.07,598.35" fill="#3a8a30"/>
<polygon points="133.50,595.80 135.43,601.35 141.30,601.47 136.62,605.01 138.32,610.63 133.50,607.28 128.68,610.63 130.38,605.01 125.70,601.47 131.57,601.35" fill="#3a8a30"/>
<polygon points="136.00,598.80 137.93,604.35 143.80,604.47 139.12,608.01 140.82,613.63 136.00,610.28 131.18,613.63 132.88,608.01 128.20,604.47 134.07,604.35" fill="#3a8a30"/>
<polygon points="131.00,600.80 132.93,606.35 138.80,606.47 134.12,610.01 135.82,615.63 131.00,612.28 126.18,615.63 127.88,610.01 123.20,606.47 129.07,606.35" fill="#3a8a30"/>
<polygon points="135.00,603.80 136.93,609.35 142.80,609.47 138.12,613.01 139.82,618.63 135.00,615.28 130.18,618.63 131.88,613.01 127.20,609.47 133.07,609.35" fill="#3a8a30"/>
<polygon points="132.00,605.80 133.93,611.35 139.80,611.47 135.12,615.01 136.82,620.63 132.00,617.28 127.18,620.63 128.88,615.01 124.20,611.47 130.07,611.35" fill="#3a8a30"/>
<polygon points="128.00,608.80 129.93,614.35 135.80,614.47 131.12,618.01 132.82,623.63 128.00,620.28 123.18,623.63 124.88,618.01 120.20,614.47 126.07,614.35" fill="#3a8a30"/>
<polygon points="136.00,608.80 137.93,614.35 143.80,614.47 139.12,618.01 140.82,623.63 136.00,620.28 131.18,623.63 132.88,618.01 128.20,614.47 134.07,614.35" fill="#3a8a30"/>
<polygon points="119.60,606.40 121.53,611.95 127.40,612.07 122.72,615.61 124.42,621.23 119.60,617.88 114.78,621.23 116.48,615.61 111.80,612.07 117.67,611.95" fill="#3a8a30"/>
<polygon points="125.00,607.80 126.93,613.35 132.80,613.47 128.12,617.01 129.82,622.63 125.00,619.28 120.18,622.63 121.88,617.01 117.20,613.47 123.07,613.35" fill="#3a8a30"/>
<polygon points="214.20,597.70 216.03,602.98 221.62,603.09 217.17,606.46 218.78,611.81 214.20,608.62 209.62,611.81 211.23,606.46 206.78,603.09 212.37,602.98" fill="#676767"/>
<polygon points="244.60,604.20 246.43,609.48 252.02,609.59 247.57,612.96 249.18,618.31 244.60,615.12 240.02,618.31 241.63,612.96 237.18,609.59 242.77,609.48" fill="#676767"/>
<polygon points="271.50,608.30 273.33,613.58 278.92,613.69 274.47,617.06 276.08,622.41 271.50,619.22 266.92,622.41 268.53,617.06 264.08,613.69 269.67,613.58" fill="#676767"/>
<polygon points="293.50,599.70 295.33,604.98 300.92,605.09 296.47,608.46 298.08,613.81 293.50,610.62 288.92,613.81 290.53,608.46 286.08,605.09 291.67,604.98" fill="#676767"/>
<polygon points="297.50,599.20 299.33,604.48 304.92,604.59 300.47,607.96 302.08,613.31 297.50,610.12 292.92,613.31 294.53,607.96 290.08,604.59 295.67,604.48" fill="#676767"/>
<polygon points="295.50,603.20 297.33,608.48 302.92,608.59 298.47,611.96 300.08,617.31 295.50,614.12 290.92,617.31 292.53,611.96 288.08,608.59 293.67,608.48" fill="#676767"/>
<polygon points="487.40,598.20 489.23,603.48 494.82,603.59 490.37,606.96 491.98,612.31 487.40,609.12 482.82,612.31 484.43,606.96 479.98,603.59 485.57,603.48" fill="#676767"/>
<polygon points="487.40,609.20 489.23,614.48 494.82,614.59 490.37,617.96 491.98,623.31 487.40,620.12 482.82,623.31 484.43,617.96 479.98,614.59 485.57,614.48" fill="#676767"/>
<polygon points="502.70,595.70 504.53,600.98 510.12,601.09 505.67,604.46 507.28,609.81 502.70,606.62 498.12,609.81 499.73,604.46 495.28,601.09 500.87,600.98" fill="#676767"/>
<polygon points="506.30,595.70 508.13,600.98 513.72,601.09 509.27,604.46 510.88,609.81 506.30,606.62 501.72,609.81 503.33,604.46 498.88,601.09 504.47,600.98" fill="#676767"/>
<polygon points="503.50,602.20 505.33,607.48 510.92,607.59 506.47,610.96 508.08,616.31 503.50,613.12 498.92,616.31 500.53,610.96 496.08,607.59 501.67,607.48" fill="#676767"/>
<polygon points="508.00,603.20 509.83,608.48 515.42,608.59 510.97,611.96 512.58,617.31 508.00,614.12 503.42,617.31 505.03,611.96 500.58,608.59 506.17,608.48" fill="#676767"/>
<polygon points="502.00,608.20 503.83,613.48 509.42,613.59 504.97,616.96 506.58,622.31 502.00,619.12 497.42,622.31 499.03,616.96 494.58,613.59 500.17,613.48" fill="#676767"/>
<polygon points="509.00,609.20 510.83,614.48 516.42,614.59 511.97,617.96 513.58,623.31 509.00,620.12 504.42,623.31 506.03,617.96 501.58,614.59 507.17,614.48" fill="#676767"/>
<polygon points="521.00,606.20 522.83,611.48 528.42,611.59 523.97,614.96 525.58,620.31 521.00,617.12 516.42,620.31 518.03,614.96 513.58,611.59 519.17,611.48" fill="#676767"/>
<polygon points="638.70,589.90 640.72,595.72 646.88,595.84 641.97,599.56 643.75,605.46 638.70,601.94 633.65,605.46 635.43,599.56 630.52,595.84 636.68,595.72" fill="#3a8a30"/>
<polygon points="637.00,593.40 639.02,599.22 645.18,599.34 640.27,603.06 642.05,608.96 637.00,605.44 631.95,608.96 633.73,603.06 628.82,599.34 634.98,599.22" fill="#3a8a30"/>
<polygon points="640.50,595.40 642.52,601.22 648.68,601.34 643.77,605.06 645.55,610.96 640.50,607.44 635.45,610.96 637.23,605.06 632.32,601.34 638.48,601.22" fill="#3a8a30"/>
<polygon points="638.00,598.40 640.02,604.22 646.18,604.34 641.27,608.06 643.05,613.96 638.00,610.44 632.95,613.96 634.73,608.06 629.82,604.34 635.98,604.22" fill="#3a8a30"/>
<polygon points="640.00,601.40 642.02,607.22 648.18,607.34 643.27,611.06 645.05,616.96 640.00,613.44 634.95,616.96 636.73,611.06 631.82,607.34 637.98,607.22" fill="#3a8a30"/>
<polygon points="637.50,603.40 639.52,609.22 645.68,609.34 640.77,613.06 642.55,618.96 637.50,615.44 632.45,618.96 634.23,613.06 629.32,609.34 635.48,609.22" fill="#3a8a30"/>
<polygon points="639.50,605.90 641.52,611.72 647.68,611.84 642.77,615.56 644.55,621.46 639.50,617.94 634.45,621.46 636.23,615.56 631.32,611.84 637.48,611.72" fill="#3a8a30"/>
<polyline points="93.0,635.8 96.0,635.5 99.0,635.1 102.0,634.8 105.0,634.5 108.0,634.0 111.0,633.6 114.0,633.2 117.0,633.0 120.0,632.9 123.0,633.5 126.0,635.2 129.0,637.0 132.0,639.0 135.0,641.1 138.0,643.2 141.0,645.3 144.0,647.3 147.0,648.8 150.0,649.9 153.0,650.9 156.0,652.0 159.0,653.1 162.0,654.3 165.0,655.7 168.0,657.1 171.0,658.5 174.0,660.0 177.0,661.8 180.0,663.9 183.0,666.0 186.0,668.1 189.0,670.2 192.0,672.3 195.0,674.4 198.0,676.9 201.0,678.9 204.0,680.2 207.0,681.1 210.0,679.8 213.0,678.1 216.0,675.7 219.0,673.0 222.0,670.3 225.0,667.8 228.0,665.3 231.0,662.5 234.0,659.7 237.0,657.8 240.0,657.3 243.0,657.1 246.0,658.1 249.0,659.7 252.0,661.4 255.0,662.6 258.0,663.6 261.0,664.2 264.0,664.1 267.0,663.3 270.0,661.5 273.0,659.4 276.0,655.7 279.0,651.8 282.0,648.5 285.0,645.8 288.0,643.3 291.0,640.9 294.0,638.5 297.0,636.2 300.0,633.6 303.0,630.7 306.0,626.1 309.0,620.3 312.0,614.4 315.0,609.5 318.0,604.8 321.0,600.2 324.0,595.7 327.0,591.2 330.0,586.7 333.0,582.6 336.0,578.4 339.0,574.0 342.0,569.3 345.0,564.5 348.0,559.1 351.0,553.7 354.0,548.6 357.0,543.7 360.0,539.9 363.0,536.8 366.0,534.5 369.0,532.5 372.0,531.0 375.0,530.1 378.0,529.8 381.0,531.1 384.0,532.8 387.0,534.9 390.0,537.5 393.0,540.3 396.0,545.0 399.0,549.9 402.0,554.9 405.0,559.8 408.0,564.7 411.0,569.4 414.0,573.8 417.0,578.1 420.0,582.4 423.0,586.2 426.0,590.0 429.0,593.9 432.0,599.0 435.0,604.9 438.0,611.2 441.0,617.5 444.0,623.5 447.0,628.8 450.0,633.2 453.0,637.2 456.0,640.6 459.0,643.9 462.0,647.1 465.0,650.2 468.0,653.3 471.0,656.7 474.0,660.5 477.0,664.4 480.0,667.9 483.0,669.3 486.0,670.5 489.0,671.7 492.0,673.1 495.0,674.8 498.0,676.5 501.0,678.5 504.0,681.0 507.0,683.6 510.0,686.0 513.0,687.3 516.0,688.5 519.0,689.5 522.0,689.6 525.0,689.0 528.0,688.5 531.0,688.2 534.0,688.5 537.0,688.7 540.0,689.1 543.0,689.7 546.0,690.4 549.0,690.4 552.0,689.3 555.0,687.8 558.0,684.4 561.0,681.0 564.0,678.0 567.0,675.0 570.0,672.1 573.0,670.1 576.0,668.2 579.0,666.1 582.0,663.4 585.0,660.1 588.0,656.9 591.0,654.1 594.0,652.1 597.0,650.2 600.0,648.4 603.0,646.9 606.0,645.5 609.0,644.2 612.0,643.6 615.0,643.2 618.0,642.9 621.0,642.2 624.0,640.5 627.0,637.8 630.0,634.7 633.0,631.9 636.0,629.5 639.0,629.5 642.0,629.8 645.0,630.1 648.0,630.8 651.0,631.5 654.0,632.1 657.0,632.6 660.0,633.0 663.0,633.2" fill="none" stroke="#2b3fa5" stroke-width="3" stroke-linejoin="round"/>
</g>
<line x1="214.50" y1="463.4" x2="214.50" y2="809.3" stroke="#555" stroke-width="1"/>
<line x1="352.95" y1="463.4" x2="352.95" y2="809.3" stroke="#555" stroke-width="1"/>
<line x1="491.40" y1="463.4" x2="491.40" y2="809.3" stroke="#555" stroke-width="1"/>
<line x1="629.85" y1="463.4" x2="629.85" y2="809.3" stroke="#555" stroke-width="1"/>
<line x1="93.3" y1="549.95" x2="661.8" y2="549.95" stroke="#555" stroke-width="1"/>
<line x1="93.3" y1="636.40" x2="661.8" y2="636.40" stroke="#555" stroke-width="1"/>
<line x1="93.3" y1="722.85" x2="661.8" y2="722.85" stroke="#555" stroke-width="1"/>
<polygon points="377.60,521.20 379.57,526.88 385.59,527.00 380.80,530.64 382.54,536.40 377.60,532.96 372.66,536.40 374.40,530.64 369.61,527.00 375.63,526.88" fill="#2d2f82"/>
<rect x="93.3" y="463.4" width="568.5" height="345.9" fill="none" stroke="#000" stroke-width="2.4"/>
<line x1="214.50" y1="809.3" x2="214.50" y2="821.3" stroke="#000" stroke-width="1.6"/>
<line x1="214.50" y1="463.4" x2="214.50" y2="451.4" stroke="#000" stroke-width="1.6"/>
<text x="214.50" y="844" text-anchor="middle" style="font-family:'Liberation Sans', sans-serif;font-size:22px">2021.8</text>
<line x1="352.95" y1="809.3" x2="352.95" y2="821.3" stroke="#000" stroke-width="1.6"/>
<line x1="352.95" y1="463.4" x2="352.95" y2="451.4" stroke="#000" stroke-width="1.6"/>
<text x="352.95" y="844" text-anchor="middle" style="font-family:'Liberation Sans', sans-serif;font-size:22px">2021.9</text>
<line x1="491.40" y1="809.3" x2="491.40" y2="821.3" stroke="#000" stroke-width="1.6"/>
<line x1="491.40" y1="463.4" x2="491.40" y2="451.4" stroke="#000" stroke-width="1.6"/>
<text x="491.40" y="844" text-anchor="middle" style="font-family:'Liberation Sans', sans-serif;font-size:22px">2022.0</text>
<line x1="629.85" y1="809.3" x2="629.85" y2="821.3" stroke="#000" stroke-width="1.6"/>
<line x1="629.85" y1="463.4" x2="629.85" y2="451.4" stroke="#000" stroke-width="1.6"/>
<text x="629.85" y="844" text-anchor="middle" style="font-family:'Liberation Sans', sans-serif;font-size:22px">2022.1</text>
<line x1="81.3" y1="463.50" x2="93.3" y2="463.50" stroke="#000" stroke-width="1.6"/>
<line x1="661.8" y1="463.50" x2="673.8" y2="463.50" stroke="#000" stroke-width="1.6"/>
<text x="75.2" y="471.50" text-anchor="end" style="font-family:'Liberation Sans', sans-serif;font-size:22px">0.2</text>
<line x1="87.3" y1="506.72" x2="93.3" y2="506.72" stroke="#000" stroke-width="1.6"/>
<line x1="661.8" y1="506.72" x2="667.8" y2="506.72" stroke="#000" stroke-width="1.6"/>
<line x1="81.3" y1="549.95" x2="93.3" y2="549.95" stroke="#000" stroke-width="1.6"/>
<line x1="661.8" y1="549.95" x2="673.8" y2="549.95" stroke="#000" stroke-width="1.6"/>
<text x="75.2" y="557.95" text-anchor="end" style="font-family:'Liberation Sans', sans-serif;font-size:22px">0.1</text>
<line x1="87.3" y1="593.17" x2="93.3" y2="593.17" stroke="#000" stroke-width="1.6"/>
<line x1="661.8" y1="593.17" x2="667.8" y2="593.17" stroke="#000" stroke-width="1.6"/>
<line x1="81.3" y1="636.40" x2="93.3" y2="636.40" stroke="#000" stroke-width="1.6"/>
<line x1="661.8" y1="636.40" x2="673.8" y2="636.40" stroke="#000" stroke-width="1.6"/>
<text x="75.2" y="644.40" text-anchor="end" style="font-family:'Liberation Sans', sans-serif;font-size:22px">0.0</text>
<line x1="87.3" y1="679.62" x2="93.3" y2="679.62" stroke="#000" stroke-width="1.6"/>
<line x1="661.8" y1="679.62" x2="667.8" y2="679.62" stroke="#000" stroke-width="1.6"/>
<line x1="81.3" y1="722.85" x2="93.3" y2="722.85" stroke="#000" stroke-width="1.6"/>
<line x1="661.8" y1="722.85" x2="673.8" y2="722.85" stroke="#000" stroke-width="1.6"/>
<text x="75.2" y="730.85" text-anchor="end" style="font-family:'Liberation Sans', sans-serif;font-size:22px">−0.1</text>
<line x1="87.3" y1="766.08" x2="93.3" y2="766.08" stroke="#000" stroke-width="1.6"/>
<line x1="661.8" y1="766.08" x2="667.8" y2="766.08" stroke="#000" stroke-width="1.6"/>
<line x1="81.3" y1="809.30" x2="93.3" y2="809.30" stroke="#000" stroke-width="1.6"/>
<line x1="661.8" y1="809.30" x2="673.8" y2="809.30" stroke="#000" stroke-width="1.6"/>
<text x="75.2" y="817.30" text-anchor="end" style="font-family:'Liberation Sans', sans-serif;font-size:22px">−0.2</text>
<text x="377" y="879" text-anchor="middle" style="font-family:'Liberation Sans', sans-serif;font-size:26px">Year</text>
<text transform="translate(18,650) rotate(-90)" text-anchor="middle" style="font-family:'Liberation Sans', sans-serif;font-size:22px">Weighted average of correlation coefficients</text>
<text x="61" y="438.1" style="font-family:'Liberation Sans', sans-serif;font-size:27px;font-weight:bold">(b)</text>
</g>
</svg>
</body></html>
